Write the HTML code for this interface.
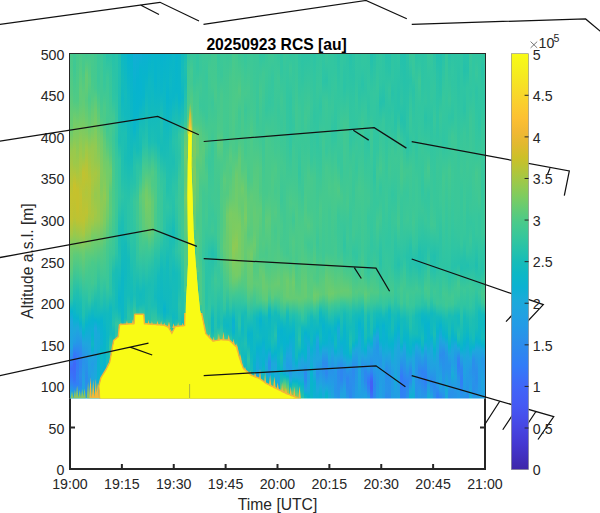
<!DOCTYPE html><html><head><meta charset="utf-8"><style>html,body{margin:0;padding:0;background:#fff;width:600px;height:513px;overflow:hidden}svg{position:absolute;left:0;top:0}text{font-family:"Liberation Sans",sans-serif;fill:#262626}</style></head><body><svg width="600" height="513" viewBox="0 0 600 513"><defs><clipPath id="hc"><rect x="70" y="54" width="415" height="344.6"/></clipPath><linearGradient id="g0" x1="0" y1="0" x2="0" y2="1"><stop offset="0.001" stop-color="#48c98c"/><stop offset="0.114" stop-color="#53ca82"/><stop offset="0.175" stop-color="#63cb75"/><stop offset="0.224" stop-color="#69cb70"/><stop offset="0.282" stop-color="#96c94e"/><stop offset="0.340" stop-color="#adc63e"/><stop offset="0.412" stop-color="#c4c22e"/><stop offset="0.481" stop-color="#bfc331"/><stop offset="0.525" stop-color="#a1c846"/><stop offset="0.565" stop-color="#71cc6a"/><stop offset="0.591" stop-color="#67cb72"/><stop offset="0.623" stop-color="#5ccb7b"/><stop offset="0.663" stop-color="#43c991"/><stop offset="0.710" stop-color="#2ec5a3"/><stop offset="0.747" stop-color="#07b4cd"/><stop offset="0.776" stop-color="#1da8dc"/><stop offset="0.851" stop-color="#20a3e0"/><stop offset="0.874" stop-color="#2a90eb"/><stop offset="0.895" stop-color="#3578f8"/><stop offset="0.912" stop-color="#3d6bf8"/><stop offset="0.938" stop-color="#3676f8"/><stop offset="0.958" stop-color="#2e86f0"/><stop offset="0.987" stop-color="#1ca9db"/><stop offset="0.999" stop-color="#0fb0d3"/></linearGradient><linearGradient id="g1" x1="0" y1="0" x2="0" y2="1"><stop offset="0.001" stop-color="#42c892"/><stop offset="0.042" stop-color="#3fc894"/><stop offset="0.140" stop-color="#51ca84"/><stop offset="0.192" stop-color="#70cc6b"/><stop offset="0.241" stop-color="#81cb5e"/><stop offset="0.279" stop-color="#99c94c"/><stop offset="0.319" stop-color="#9dc949"/><stop offset="0.383" stop-color="#c8c12b"/><stop offset="0.421" stop-color="#c3c22e"/><stop offset="0.475" stop-color="#bbc334"/><stop offset="0.530" stop-color="#92ca51"/><stop offset="0.582" stop-color="#5fcb79"/><stop offset="0.695" stop-color="#22c0ae"/><stop offset="0.733" stop-color="#10b9c1"/><stop offset="0.764" stop-color="#07b4cf"/><stop offset="0.802" stop-color="#1ea7dc"/><stop offset="0.837" stop-color="#229ce6"/><stop offset="0.871" stop-color="#3578f8"/><stop offset="0.900" stop-color="#3f67f8"/><stop offset="0.944" stop-color="#3971f8"/><stop offset="0.961" stop-color="#3082f4"/><stop offset="0.984" stop-color="#21a0e3"/><stop offset="0.999" stop-color="#1fa5df"/></linearGradient><linearGradient id="g2" x1="0" y1="0" x2="0" y2="1"><stop offset="0.001" stop-color="#47c98c"/><stop offset="0.079" stop-color="#4bca89"/><stop offset="0.137" stop-color="#4fca85"/><stop offset="0.212" stop-color="#76cc66"/><stop offset="0.296" stop-color="#95c94f"/><stop offset="0.342" stop-color="#a7c742"/><stop offset="0.395" stop-color="#c5c12d"/><stop offset="0.449" stop-color="#c5c12d"/><stop offset="0.484" stop-color="#bcc333"/><stop offset="0.533" stop-color="#94c950"/><stop offset="0.582" stop-color="#5ecb79"/><stop offset="0.649" stop-color="#3ac798"/><stop offset="0.689" stop-color="#22c0ad"/><stop offset="0.750" stop-color="#10b9c1"/><stop offset="0.767" stop-color="#08b3cf"/><stop offset="0.793" stop-color="#1ea7dc"/><stop offset="0.837" stop-color="#2597e8"/><stop offset="0.874" stop-color="#327df7"/><stop offset="0.900" stop-color="#3479f8"/><stop offset="0.935" stop-color="#3081f4"/><stop offset="0.958" stop-color="#3180f5"/><stop offset="0.978" stop-color="#2598e8"/><stop offset="0.996" stop-color="#19aad9"/><stop offset="0.999" stop-color="#16acd7"/></linearGradient><linearGradient id="g3" x1="0" y1="0" x2="0" y2="1"><stop offset="0.001" stop-color="#49ca8b"/><stop offset="0.074" stop-color="#58cb7e"/><stop offset="0.111" stop-color="#60cb78"/><stop offset="0.146" stop-color="#5ecb79"/><stop offset="0.207" stop-color="#76cc66"/><stop offset="0.267" stop-color="#96c94e"/><stop offset="0.314" stop-color="#a6c843"/><stop offset="0.415" stop-color="#c3c22f"/><stop offset="0.484" stop-color="#bcc333"/><stop offset="0.530" stop-color="#9ac94c"/><stop offset="0.582" stop-color="#62cb76"/><stop offset="0.626" stop-color="#4bca89"/><stop offset="0.669" stop-color="#34c69e"/><stop offset="0.724" stop-color="#18bdb6"/><stop offset="0.764" stop-color="#10b9c0"/><stop offset="0.782" stop-color="#06b4ce"/><stop offset="0.808" stop-color="#1fa6dd"/><stop offset="0.866" stop-color="#2e87f0"/><stop offset="0.900" stop-color="#2e86f0"/><stop offset="0.932" stop-color="#2c8cec"/><stop offset="0.961" stop-color="#2d88ef"/><stop offset="0.990" stop-color="#1ea7dd"/><stop offset="0.999" stop-color="#12aed5"/></linearGradient><linearGradient id="g4" x1="0" y1="0" x2="0" y2="1"><stop offset="0.001" stop-color="#47c98d"/><stop offset="0.048" stop-color="#48c98b"/><stop offset="0.114" stop-color="#5bcb7c"/><stop offset="0.155" stop-color="#64cb74"/><stop offset="0.267" stop-color="#8eca54"/><stop offset="0.299" stop-color="#99c94c"/><stop offset="0.345" stop-color="#c1c230"/><stop offset="0.371" stop-color="#bdc332"/><stop offset="0.409" stop-color="#b4c539"/><stop offset="0.481" stop-color="#bec331"/><stop offset="0.522" stop-color="#a7c742"/><stop offset="0.571" stop-color="#6fcc6c"/><stop offset="0.712" stop-color="#29c3a8"/><stop offset="0.759" stop-color="#20c0af"/><stop offset="0.808" stop-color="#07b4ce"/><stop offset="0.837" stop-color="#1fa6dd"/><stop offset="0.883" stop-color="#2a90eb"/><stop offset="0.964" stop-color="#20a3e0"/><stop offset="0.996" stop-color="#13add6"/><stop offset="0.999" stop-color="#14add6"/></linearGradient><linearGradient id="g5" x1="0" y1="0" x2="0" y2="1"><stop offset="0.001" stop-color="#40c893"/><stop offset="0.033" stop-color="#50ca85"/><stop offset="0.062" stop-color="#63cb75"/><stop offset="0.097" stop-color="#62cb76"/><stop offset="0.137" stop-color="#57ca7f"/><stop offset="0.201" stop-color="#6dcc6d"/><stop offset="0.233" stop-color="#7ecb5f"/><stop offset="0.273" stop-color="#9cc949"/><stop offset="0.328" stop-color="#b6c438"/><stop offset="0.357" stop-color="#bdc332"/><stop offset="0.403" stop-color="#b0c63c"/><stop offset="0.461" stop-color="#bec332"/><stop offset="0.487" stop-color="#afc63c"/><stop offset="0.545" stop-color="#82cb5d"/><stop offset="0.579" stop-color="#5ecb7a"/><stop offset="0.626" stop-color="#4aca8a"/><stop offset="0.678" stop-color="#38c79b"/><stop offset="0.753" stop-color="#17bcb7"/><stop offset="0.785" stop-color="#07b4ce"/><stop offset="0.840" stop-color="#1fa5de"/><stop offset="0.895" stop-color="#2695e9"/><stop offset="0.941" stop-color="#2c8bec"/><stop offset="0.975" stop-color="#2893e9"/><stop offset="0.999" stop-color="#21a0e3"/></linearGradient><linearGradient id="g6" x1="0" y1="0" x2="0" y2="1"><stop offset="0.001" stop-color="#44c990"/><stop offset="0.082" stop-color="#58cb7e"/><stop offset="0.134" stop-color="#4aca8a"/><stop offset="0.192" stop-color="#62cb76"/><stop offset="0.227" stop-color="#70cc6a"/><stop offset="0.279" stop-color="#96c94e"/><stop offset="0.368" stop-color="#b7c436"/><stop offset="0.421" stop-color="#b3c53a"/><stop offset="0.461" stop-color="#afc63c"/><stop offset="0.516" stop-color="#97c94e"/><stop offset="0.588" stop-color="#58cb7e"/><stop offset="0.623" stop-color="#48c98c"/><stop offset="0.715" stop-color="#32c6a0"/><stop offset="0.762" stop-color="#0db7c5"/><stop offset="0.779" stop-color="#08b3cf"/><stop offset="0.845" stop-color="#1fa6dd"/><stop offset="0.923" stop-color="#219fe4"/><stop offset="0.955" stop-color="#2695e8"/><stop offset="0.996" stop-color="#19aad9"/><stop offset="0.999" stop-color="#17acd8"/></linearGradient><linearGradient id="g7" x1="0" y1="0" x2="0" y2="1"><stop offset="0.001" stop-color="#48c98c"/><stop offset="0.068" stop-color="#44c98f"/><stop offset="0.126" stop-color="#50ca85"/><stop offset="0.175" stop-color="#65cb74"/><stop offset="0.224" stop-color="#75cc67"/><stop offset="0.270" stop-color="#94c950"/><stop offset="0.322" stop-color="#9ec949"/><stop offset="0.366" stop-color="#aac740"/><stop offset="0.415" stop-color="#a0c847"/><stop offset="0.473" stop-color="#aac740"/><stop offset="0.493" stop-color="#9dc949"/><stop offset="0.527" stop-color="#79cc63"/><stop offset="0.574" stop-color="#62cb76"/><stop offset="0.605" stop-color="#49ca8a"/><stop offset="0.666" stop-color="#41c892"/><stop offset="0.710" stop-color="#2ac3a7"/><stop offset="0.744" stop-color="#12babe"/><stop offset="0.773" stop-color="#07b3cf"/><stop offset="0.799" stop-color="#0db1d2"/><stop offset="0.816" stop-color="#07b5cc"/><stop offset="0.842" stop-color="#0eb8c3"/><stop offset="0.860" stop-color="#08b3cf"/><stop offset="0.874" stop-color="#1ea7dd"/><stop offset="0.900" stop-color="#229de5"/><stop offset="0.961" stop-color="#1baada"/><stop offset="0.981" stop-color="#07b4ce"/><stop offset="0.999" stop-color="#0db8c4"/></linearGradient><linearGradient id="g8" x1="0" y1="0" x2="0" y2="1"><stop offset="0.001" stop-color="#42c891"/><stop offset="0.103" stop-color="#45c98e"/><stop offset="0.132" stop-color="#57cb7f"/><stop offset="0.166" stop-color="#6acb70"/><stop offset="0.210" stop-color="#78cc64"/><stop offset="0.270" stop-color="#91ca52"/><stop offset="0.311" stop-color="#94c950"/><stop offset="0.348" stop-color="#a7c742"/><stop offset="0.377" stop-color="#a0c847"/><stop offset="0.409" stop-color="#95c94f"/><stop offset="0.461" stop-color="#a3c845"/><stop offset="0.487" stop-color="#98c94d"/><stop offset="0.530" stop-color="#75cc67"/><stop offset="0.585" stop-color="#56ca80"/><stop offset="0.614" stop-color="#47c98c"/><stop offset="0.666" stop-color="#3cc897"/><stop offset="0.724" stop-color="#19bdb5"/><stop offset="0.759" stop-color="#10b9c1"/><stop offset="0.773" stop-color="#07b3cf"/><stop offset="0.796" stop-color="#1ea8dc"/><stop offset="0.831" stop-color="#1aaada"/><stop offset="0.854" stop-color="#19abd9"/><stop offset="0.883" stop-color="#20a1e2"/><stop offset="0.947" stop-color="#1aaada"/><stop offset="0.984" stop-color="#06b4ce"/><stop offset="0.999" stop-color="#08b5cb"/></linearGradient><linearGradient id="g9" x1="0" y1="0" x2="0" y2="1"><stop offset="0.001" stop-color="#3bc797"/><stop offset="0.079" stop-color="#3ac799"/><stop offset="0.114" stop-color="#41c892"/><stop offset="0.172" stop-color="#59cb7d"/><stop offset="0.302" stop-color="#8cca56"/><stop offset="0.345" stop-color="#9fc848"/><stop offset="0.403" stop-color="#98c94c"/><stop offset="0.481" stop-color="#98c94d"/><stop offset="0.605" stop-color="#45c98e"/><stop offset="0.744" stop-color="#16bcb9"/><stop offset="0.779" stop-color="#06b4ce"/><stop offset="0.814" stop-color="#18abd9"/><stop offset="0.851" stop-color="#14add6"/><stop offset="0.900" stop-color="#0cb1d1"/><stop offset="0.952" stop-color="#0bb2d1"/><stop offset="0.999" stop-color="#07b3cf"/></linearGradient><linearGradient id="g10" x1="0" y1="0" x2="0" y2="1"><stop offset="0.001" stop-color="#3ac799"/><stop offset="0.068" stop-color="#40c893"/><stop offset="0.129" stop-color="#40c893"/><stop offset="0.186" stop-color="#4bca89"/><stop offset="0.244" stop-color="#6ecc6d"/><stop offset="0.334" stop-color="#84cb5c"/><stop offset="0.386" stop-color="#81cb5d"/><stop offset="0.438" stop-color="#8eca54"/><stop offset="0.484" stop-color="#8cca56"/><stop offset="0.577" stop-color="#53ca82"/><stop offset="0.681" stop-color="#33c69f"/><stop offset="0.727" stop-color="#21c0ae"/><stop offset="0.773" stop-color="#07b4cd"/><stop offset="0.840" stop-color="#0eb0d3"/><stop offset="0.857" stop-color="#08b5cb"/><stop offset="0.880" stop-color="#0eb8c2"/><stop offset="0.923" stop-color="#07b5cd"/><stop offset="0.935" stop-color="#0ab6c9"/><stop offset="0.938" stop-color="#12aed5"/><stop offset="0.941" stop-color="#12aed5"/><stop offset="0.944" stop-color="#1fa5de"/><stop offset="0.952" stop-color="#1fa5df"/><stop offset="0.955" stop-color="#229ce6"/><stop offset="0.999" stop-color="#219ee4"/></linearGradient><linearGradient id="g11" x1="0" y1="0" x2="0" y2="1"><stop offset="0.001" stop-color="#32c6a0"/><stop offset="0.097" stop-color="#39c79a"/><stop offset="0.158" stop-color="#4cca88"/><stop offset="0.212" stop-color="#4bca89"/><stop offset="0.259" stop-color="#61cb77"/><stop offset="0.348" stop-color="#7ccc61"/><stop offset="0.415" stop-color="#90ca52"/><stop offset="0.493" stop-color="#7bcc62"/><stop offset="0.562" stop-color="#53ca83"/><stop offset="0.646" stop-color="#3dc896"/><stop offset="0.756" stop-color="#10b9c0"/><stop offset="0.808" stop-color="#08b5cc"/><stop offset="0.880" stop-color="#09b5ca"/><stop offset="0.915" stop-color="#06b4ce"/><stop offset="0.921" stop-color="#07b5cc"/><stop offset="0.923" stop-color="#15acd7"/><stop offset="0.926" stop-color="#15add7"/><stop offset="0.929" stop-color="#1fa4df"/><stop offset="0.932" stop-color="#239be6"/><stop offset="0.999" stop-color="#2794e9"/></linearGradient><linearGradient id="g12" x1="0" y1="0" x2="0" y2="1"><stop offset="0.001" stop-color="#28c2a9"/><stop offset="0.071" stop-color="#3cc897"/><stop offset="0.175" stop-color="#44c98f"/><stop offset="0.224" stop-color="#41c892"/><stop offset="0.270" stop-color="#54ca81"/><stop offset="0.316" stop-color="#6fcc6c"/><stop offset="0.418" stop-color="#7bcc62"/><stop offset="0.475" stop-color="#6ecc6c"/><stop offset="0.556" stop-color="#48c98c"/><stop offset="0.623" stop-color="#3dc896"/><stop offset="0.675" stop-color="#38c79a"/><stop offset="0.727" stop-color="#1fbfb0"/><stop offset="0.753" stop-color="#12babe"/><stop offset="0.819" stop-color="#0eb8c4"/><stop offset="0.895" stop-color="#18bdb7"/><stop offset="0.903" stop-color="#1ebfb2"/><stop offset="0.906" stop-color="#0fb9c1"/><stop offset="0.909" stop-color="#10b9c1"/><stop offset="0.912" stop-color="#09b3d0"/><stop offset="0.915" stop-color="#0ab2d0"/><stop offset="0.918" stop-color="#1ca9db"/><stop offset="0.952" stop-color="#2598e8"/><stop offset="0.981" stop-color="#2f84f2"/><stop offset="0.999" stop-color="#2e87ef"/></linearGradient><linearGradient id="g13" x1="0" y1="0" x2="0" y2="1"><stop offset="0.001" stop-color="#2ac3a7"/><stop offset="0.053" stop-color="#34c69e"/><stop offset="0.123" stop-color="#39c799"/><stop offset="0.204" stop-color="#45c98f"/><stop offset="0.250" stop-color="#45c98e"/><stop offset="0.293" stop-color="#53ca82"/><stop offset="0.340" stop-color="#70cc6a"/><stop offset="0.366" stop-color="#6dcb6d"/><stop offset="0.403" stop-color="#58cb7e"/><stop offset="0.461" stop-color="#5ccb7b"/><stop offset="0.536" stop-color="#46c98e"/><stop offset="0.608" stop-color="#34c69e"/><stop offset="0.658" stop-color="#2dc4a5"/><stop offset="0.695" stop-color="#2ac3a7"/><stop offset="0.736" stop-color="#11babf"/><stop offset="0.767" stop-color="#0fb9c1"/><stop offset="0.814" stop-color="#15bbba"/><stop offset="0.837" stop-color="#2cc4a5"/><stop offset="0.851" stop-color="#35c69d"/><stop offset="0.868" stop-color="#2dc4a4"/><stop offset="0.877" stop-color="#24c1ac"/><stop offset="0.880" stop-color="#11b9bf"/><stop offset="0.892" stop-color="#0ab6c8"/><stop offset="0.895" stop-color="#12aed5"/><stop offset="0.897" stop-color="#13aed6"/><stop offset="0.900" stop-color="#1fa4df"/><stop offset="0.964" stop-color="#2498e7"/><stop offset="0.993" stop-color="#2598e8"/><stop offset="0.999" stop-color="#239ae7"/></linearGradient><linearGradient id="g14" x1="0" y1="0" x2="0" y2="1"><stop offset="0.001" stop-color="#26c2aa"/><stop offset="0.085" stop-color="#2dc4a4"/><stop offset="0.132" stop-color="#2ec5a3"/><stop offset="0.186" stop-color="#42c892"/><stop offset="0.244" stop-color="#3bc798"/><stop offset="0.337" stop-color="#48c98c"/><stop offset="0.415" stop-color="#49ca8a"/><stop offset="0.464" stop-color="#49ca8b"/><stop offset="0.525" stop-color="#3fc894"/><stop offset="0.579" stop-color="#39c799"/><stop offset="0.640" stop-color="#1bbeb3"/><stop offset="0.698" stop-color="#1fbfb0"/><stop offset="0.741" stop-color="#18bdb6"/><stop offset="0.782" stop-color="#24c1ac"/><stop offset="0.811" stop-color="#13bbbc"/><stop offset="0.825" stop-color="#18bdb6"/><stop offset="0.831" stop-color="#1fbfb0"/><stop offset="0.834" stop-color="#11b9bf"/><stop offset="0.845" stop-color="#14bbbb"/><stop offset="0.848" stop-color="#09b6c9"/><stop offset="0.863" stop-color="#0db7c4"/><stop offset="0.866" stop-color="#0cb1d2"/><stop offset="0.892" stop-color="#13add6"/><stop offset="0.912" stop-color="#1fa5de"/><stop offset="0.949" stop-color="#219ee4"/><stop offset="0.999" stop-color="#20a1e1"/></linearGradient><linearGradient id="g15" x1="0" y1="0" x2="0" y2="1"><stop offset="0.001" stop-color="#29c3a8"/><stop offset="0.108" stop-color="#2ac3a7"/><stop offset="0.192" stop-color="#35c69e"/><stop offset="0.250" stop-color="#2ec5a3"/><stop offset="0.314" stop-color="#39c79a"/><stop offset="0.397" stop-color="#3ec895"/><stop offset="0.438" stop-color="#3fc894"/><stop offset="0.545" stop-color="#32c6a0"/><stop offset="0.579" stop-color="#2dc4a5"/><stop offset="0.626" stop-color="#19bdb5"/><stop offset="0.736" stop-color="#13bbbc"/><stop offset="0.759" stop-color="#1fbfb0"/><stop offset="0.785" stop-color="#33c69f"/><stop offset="0.805" stop-color="#2bc4a6"/><stop offset="0.819" stop-color="#2fc5a3"/><stop offset="0.822" stop-color="#34c69e"/><stop offset="0.828" stop-color="#14bbbb"/><stop offset="0.831" stop-color="#09b6ca"/><stop offset="0.863" stop-color="#1bbeb4"/><stop offset="0.883" stop-color="#12babd"/><stop offset="0.900" stop-color="#08b3cf"/><stop offset="0.918" stop-color="#1ea7dc"/><stop offset="0.944" stop-color="#219fe3"/><stop offset="0.967" stop-color="#1ca9db"/><stop offset="0.990" stop-color="#07b4cd"/><stop offset="0.999" stop-color="#08b5cb"/></linearGradient><linearGradient id="g16" x1="0" y1="0" x2="0" y2="1"><stop offset="0.001" stop-color="#20bfb0"/><stop offset="0.051" stop-color="#21c0af"/><stop offset="0.166" stop-color="#1fbfb0"/><stop offset="0.218" stop-color="#1fbfb0"/><stop offset="0.256" stop-color="#1dbeb2"/><stop offset="0.308" stop-color="#31c6a1"/><stop offset="0.415" stop-color="#33c69f"/><stop offset="0.449" stop-color="#2cc4a5"/><stop offset="0.507" stop-color="#1dbeb2"/><stop offset="0.551" stop-color="#1dbeb2"/><stop offset="0.591" stop-color="#20c0af"/><stop offset="0.710" stop-color="#0ab6c9"/><stop offset="0.747" stop-color="#10b9c0"/><stop offset="0.767" stop-color="#1fbfb0"/><stop offset="0.785" stop-color="#36c79d"/><stop offset="0.788" stop-color="#22c0ae"/><stop offset="0.808" stop-color="#16bcb9"/><stop offset="0.811" stop-color="#0ab6c9"/><stop offset="0.822" stop-color="#07b4cd"/><stop offset="0.825" stop-color="#17acd8"/><stop offset="0.871" stop-color="#0fafd3"/><stop offset="0.938" stop-color="#1ea8dc"/><stop offset="0.975" stop-color="#1baada"/><stop offset="0.999" stop-color="#07b3cf"/></linearGradient><linearGradient id="g17" x1="0" y1="0" x2="0" y2="1"><stop offset="0.001" stop-color="#0eb8c3"/><stop offset="0.079" stop-color="#14bbba"/><stop offset="0.132" stop-color="#10b9c1"/><stop offset="0.233" stop-color="#1dbfb2"/><stop offset="0.360" stop-color="#23c1ad"/><stop offset="0.415" stop-color="#2dc4a5"/><stop offset="0.490" stop-color="#1cbeb3"/><stop offset="0.536" stop-color="#18bdb7"/><stop offset="0.591" stop-color="#13babc"/><stop offset="0.652" stop-color="#0cb7c5"/><stop offset="0.712" stop-color="#0cb7c6"/><stop offset="0.767" stop-color="#0bb7c7"/><stop offset="0.785" stop-color="#13bbbb"/><stop offset="0.788" stop-color="#20a3e0"/><stop offset="0.825" stop-color="#219ee4"/><stop offset="0.866" stop-color="#1ba9da"/><stop offset="0.912" stop-color="#06b4ce"/><stop offset="0.941" stop-color="#07b4cd"/><stop offset="0.961" stop-color="#19abd9"/><stop offset="0.978" stop-color="#21a0e3"/><stop offset="0.999" stop-color="#239ae7"/></linearGradient><linearGradient id="g18" x1="0" y1="0" x2="0" y2="1"><stop offset="0.001" stop-color="#0bb7c7"/><stop offset="0.120" stop-color="#14bbbb"/><stop offset="0.178" stop-color="#12babe"/><stop offset="0.233" stop-color="#1ebfb1"/><stop offset="0.305" stop-color="#19bdb5"/><stop offset="0.412" stop-color="#28c3a8"/><stop offset="0.510" stop-color="#24c1ac"/><stop offset="0.553" stop-color="#15bbb9"/><stop offset="0.637" stop-color="#10b9c0"/><stop offset="0.689" stop-color="#13bbbc"/><stop offset="0.764" stop-color="#16bcb8"/><stop offset="0.782" stop-color="#2bc3a6"/><stop offset="0.785" stop-color="#30c5a2"/><stop offset="0.788" stop-color="#0cb1d1"/><stop offset="0.842" stop-color="#0cb1d1"/><stop offset="0.874" stop-color="#11afd4"/><stop offset="0.900" stop-color="#07b4cd"/><stop offset="0.929" stop-color="#0bb6c8"/><stop offset="0.947" stop-color="#09b2d0"/><stop offset="0.970" stop-color="#1fa6de"/><stop offset="0.999" stop-color="#20a3e0"/></linearGradient><linearGradient id="g19" x1="0" y1="0" x2="0" y2="1"><stop offset="0.001" stop-color="#06b4ce"/><stop offset="0.140" stop-color="#10b9c0"/><stop offset="0.314" stop-color="#17bcb7"/><stop offset="0.441" stop-color="#2bc4a6"/><stop offset="0.510" stop-color="#2bc3a6"/><stop offset="0.597" stop-color="#14bbba"/><stop offset="0.698" stop-color="#15bcb9"/><stop offset="0.756" stop-color="#2ac3a7"/><stop offset="0.770" stop-color="#2ac3a6"/><stop offset="0.785" stop-color="#43c990"/><stop offset="0.788" stop-color="#0eb8c3"/><stop offset="0.819" stop-color="#0cb7c6"/><stop offset="0.837" stop-color="#08b3cf"/><stop offset="0.874" stop-color="#19abd9"/><stop offset="0.900" stop-color="#0fb0d3"/><stop offset="0.912" stop-color="#07b4cd"/><stop offset="0.938" stop-color="#11babf"/><stop offset="0.955" stop-color="#0ab6c8"/><stop offset="0.961" stop-color="#07b3cf"/><stop offset="0.978" stop-color="#1fa6dd"/><stop offset="0.999" stop-color="#20a1e2"/></linearGradient><linearGradient id="g20" x1="0" y1="0" x2="0" y2="1"><stop offset="0.001" stop-color="#07b4ce"/><stop offset="0.175" stop-color="#0db7c5"/><stop offset="0.296" stop-color="#14bbba"/><stop offset="0.423" stop-color="#2fc5a3"/><stop offset="0.542" stop-color="#2cc4a5"/><stop offset="0.652" stop-color="#17bdb7"/><stop offset="0.712" stop-color="#13bbbc"/><stop offset="0.744" stop-color="#22c0ad"/><stop offset="0.764" stop-color="#2ac3a7"/><stop offset="0.776" stop-color="#2fc5a2"/><stop offset="0.785" stop-color="#43c991"/><stop offset="0.788" stop-color="#0fb9c1"/><stop offset="0.825" stop-color="#24c1ac"/><stop offset="0.851" stop-color="#21c0af"/><stop offset="0.880" stop-color="#07b4cd"/><stop offset="0.900" stop-color="#11afd4"/><stop offset="0.923" stop-color="#07b5cd"/><stop offset="0.952" stop-color="#0ab6c9"/><stop offset="0.981" stop-color="#08b3cf"/><stop offset="0.999" stop-color="#10afd4"/></linearGradient><linearGradient id="g21" x1="0" y1="0" x2="0" y2="1"><stop offset="0.001" stop-color="#12aed5"/><stop offset="0.123" stop-color="#07b5cc"/><stop offset="0.221" stop-color="#09b6ca"/><stop offset="0.288" stop-color="#1dbeb2"/><stop offset="0.328" stop-color="#26c2aa"/><stop offset="0.374" stop-color="#26c2aa"/><stop offset="0.429" stop-color="#39c799"/><stop offset="0.490" stop-color="#33c69f"/><stop offset="0.582" stop-color="#25c1ab"/><stop offset="0.632" stop-color="#22c0ad"/><stop offset="0.698" stop-color="#19bdb6"/><stop offset="0.733" stop-color="#2ac3a7"/><stop offset="0.756" stop-color="#44c98f"/><stop offset="0.759" stop-color="#32c6a0"/><stop offset="0.782" stop-color="#32c6a0"/><stop offset="0.785" stop-color="#10b9c0"/><stop offset="0.811" stop-color="#1dbfb2"/><stop offset="0.831" stop-color="#26c2ab"/><stop offset="0.857" stop-color="#15bbba"/><stop offset="0.880" stop-color="#06b4ce"/><stop offset="0.918" stop-color="#1baada"/><stop offset="0.999" stop-color="#20a1e2"/></linearGradient><linearGradient id="g22" x1="0" y1="0" x2="0" y2="1"><stop offset="0.001" stop-color="#11afd4"/><stop offset="0.079" stop-color="#07b3cf"/><stop offset="0.169" stop-color="#08b5cc"/><stop offset="0.238" stop-color="#13babd"/><stop offset="0.282" stop-color="#16bcb8"/><stop offset="0.325" stop-color="#2bc4a6"/><stop offset="0.374" stop-color="#30c5a2"/><stop offset="0.432" stop-color="#40c893"/><stop offset="0.484" stop-color="#40c893"/><stop offset="0.536" stop-color="#37c79b"/><stop offset="0.594" stop-color="#31c5a1"/><stop offset="0.681" stop-color="#14bbba"/><stop offset="0.730" stop-color="#16bcb8"/><stop offset="0.750" stop-color="#29c3a7"/><stop offset="0.756" stop-color="#34c69e"/><stop offset="0.759" stop-color="#09b3d0"/><stop offset="0.790" stop-color="#08b3cf"/><stop offset="0.811" stop-color="#0cb7c5"/><stop offset="0.840" stop-color="#12babe"/><stop offset="0.871" stop-color="#07b4cf"/><stop offset="0.903" stop-color="#13aed6"/><stop offset="0.935" stop-color="#19aad9"/><stop offset="0.967" stop-color="#20a1e1"/><stop offset="0.999" stop-color="#1ea7dc"/></linearGradient><linearGradient id="g23" x1="0" y1="0" x2="0" y2="1"><stop offset="0.001" stop-color="#10afd4"/><stop offset="0.048" stop-color="#07b5cc"/><stop offset="0.100" stop-color="#07b4cf"/><stop offset="0.149" stop-color="#08b5cb"/><stop offset="0.221" stop-color="#1abeb4"/><stop offset="0.276" stop-color="#18bdb6"/><stop offset="0.371" stop-color="#3cc897"/><stop offset="0.415" stop-color="#5ccb7b"/><stop offset="0.447" stop-color="#55ca81"/><stop offset="0.504" stop-color="#4aca8a"/><stop offset="0.565" stop-color="#41c892"/><stop offset="0.617" stop-color="#2dc4a5"/><stop offset="0.660" stop-color="#21c0af"/><stop offset="0.698" stop-color="#12babd"/><stop offset="0.727" stop-color="#16bcb8"/><stop offset="0.750" stop-color="#32c6a0"/><stop offset="0.756" stop-color="#3cc897"/><stop offset="0.759" stop-color="#09b6ca"/><stop offset="0.788" stop-color="#09b2d0"/><stop offset="0.860" stop-color="#0ab6c9"/><stop offset="0.912" stop-color="#15bcb9"/><stop offset="0.955" stop-color="#11babe"/><stop offset="0.975" stop-color="#06b4ce"/><stop offset="0.999" stop-color="#19abd9"/></linearGradient><linearGradient id="g24" x1="0" y1="0" x2="0" y2="1"><stop offset="0.001" stop-color="#0bb1d1"/><stop offset="0.068" stop-color="#08b5cb"/><stop offset="0.126" stop-color="#08b5cb"/><stop offset="0.221" stop-color="#1abdb4"/><stop offset="0.264" stop-color="#25c1ab"/><stop offset="0.328" stop-color="#43c991"/><stop offset="0.371" stop-color="#52ca83"/><stop offset="0.409" stop-color="#68cb71"/><stop offset="0.507" stop-color="#5acb7d"/><stop offset="0.548" stop-color="#47c98d"/><stop offset="0.684" stop-color="#14bbbb"/><stop offset="0.721" stop-color="#15bcb9"/><stop offset="0.744" stop-color="#28c2a9"/><stop offset="0.756" stop-color="#39c799"/><stop offset="0.759" stop-color="#27c2a9"/><stop offset="0.779" stop-color="#28c2a8"/><stop offset="0.782" stop-color="#16bcb9"/><stop offset="0.785" stop-color="#0ab6c8"/><stop offset="0.834" stop-color="#14bbbb"/><stop offset="0.871" stop-color="#10b9c0"/><stop offset="0.912" stop-color="#22c0ae"/><stop offset="0.944" stop-color="#1cbeb3"/><stop offset="0.990" stop-color="#06b4ce"/><stop offset="0.999" stop-color="#07b3cf"/></linearGradient><linearGradient id="g25" x1="0" y1="0" x2="0" y2="1"><stop offset="0.001" stop-color="#0bb1d1"/><stop offset="0.065" stop-color="#08b5cb"/><stop offset="0.192" stop-color="#1abdb5"/><stop offset="0.262" stop-color="#27c2aa"/><stop offset="0.342" stop-color="#4bca89"/><stop offset="0.397" stop-color="#6fcc6b"/><stop offset="0.435" stop-color="#77cc65"/><stop offset="0.496" stop-color="#67cb72"/><stop offset="0.519" stop-color="#5ccb7b"/><stop offset="0.548" stop-color="#44c98f"/><stop offset="0.597" stop-color="#34c69e"/><stop offset="0.637" stop-color="#28c2a8"/><stop offset="0.678" stop-color="#19bdb5"/><stop offset="0.744" stop-color="#1cbeb3"/><stop offset="0.776" stop-color="#28c2a9"/><stop offset="0.785" stop-color="#39c79a"/><stop offset="0.788" stop-color="#09b5cb"/><stop offset="0.828" stop-color="#0bb7c7"/><stop offset="0.851" stop-color="#08b3cf"/><stop offset="0.874" stop-color="#09b3cf"/><stop offset="0.889" stop-color="#0ab6c8"/><stop offset="0.915" stop-color="#11babf"/><stop offset="0.944" stop-color="#06b4ce"/><stop offset="0.970" stop-color="#14add6"/><stop offset="0.999" stop-color="#0eb0d3"/></linearGradient><linearGradient id="g26" x1="0" y1="0" x2="0" y2="1"><stop offset="0.001" stop-color="#08b3cf"/><stop offset="0.045" stop-color="#09b6c9"/><stop offset="0.082" stop-color="#0fb8c2"/><stop offset="0.126" stop-color="#0eb8c3"/><stop offset="0.218" stop-color="#16bcb8"/><stop offset="0.256" stop-color="#1abdb5"/><stop offset="0.363" stop-color="#56ca80"/><stop offset="0.432" stop-color="#72cc69"/><stop offset="0.513" stop-color="#6acb6f"/><stop offset="0.574" stop-color="#3dc896"/><stop offset="0.614" stop-color="#2bc3a6"/><stop offset="0.669" stop-color="#1abdb4"/><stop offset="0.724" stop-color="#1fbfb0"/><stop offset="0.770" stop-color="#25c1ab"/><stop offset="0.785" stop-color="#37c79b"/><stop offset="0.788" stop-color="#07b4ce"/><stop offset="0.819" stop-color="#10afd4"/><stop offset="0.863" stop-color="#0bb1d1"/><stop offset="0.909" stop-color="#11afd4"/><stop offset="0.973" stop-color="#08b5cc"/><stop offset="0.999" stop-color="#07b5cc"/></linearGradient><linearGradient id="g27" x1="0" y1="0" x2="0" y2="1"><stop offset="0.001" stop-color="#08b5cb"/><stop offset="0.192" stop-color="#14bbbb"/><stop offset="0.259" stop-color="#1dbfb2"/><stop offset="0.316" stop-color="#41c892"/><stop offset="0.345" stop-color="#51ca84"/><stop offset="0.383" stop-color="#4dca87"/><stop offset="0.429" stop-color="#63cb75"/><stop offset="0.510" stop-color="#63cb76"/><stop offset="0.568" stop-color="#3bc798"/><stop offset="0.629" stop-color="#22c0ad"/><stop offset="0.672" stop-color="#1cbeb3"/><stop offset="0.730" stop-color="#1bbeb4"/><stop offset="0.779" stop-color="#38c79b"/><stop offset="0.785" stop-color="#3ec895"/><stop offset="0.788" stop-color="#09b6ca"/><stop offset="0.796" stop-color="#08b3cf"/><stop offset="0.822" stop-color="#15add7"/><stop offset="0.866" stop-color="#0bb1d1"/><stop offset="0.892" stop-color="#0ab2d0"/><stop offset="0.900" stop-color="#09b5ca"/><stop offset="0.929" stop-color="#24c1ac"/><stop offset="0.947" stop-color="#23c1ad"/><stop offset="0.973" stop-color="#14bbbb"/><stop offset="0.999" stop-color="#12babe"/></linearGradient><linearGradient id="g28" x1="0" y1="0" x2="0" y2="1"><stop offset="0.001" stop-color="#08b5cb"/><stop offset="0.082" stop-color="#08b5cb"/><stop offset="0.189" stop-color="#14bbbb"/><stop offset="0.256" stop-color="#1abdb5"/><stop offset="0.342" stop-color="#46c98d"/><stop offset="0.426" stop-color="#50ca85"/><stop offset="0.478" stop-color="#49ca8b"/><stop offset="0.522" stop-color="#46c98e"/><stop offset="0.600" stop-color="#23c1ad"/><stop offset="0.704" stop-color="#12babd"/><stop offset="0.733" stop-color="#1cbeb3"/><stop offset="0.773" stop-color="#35c69d"/><stop offset="0.785" stop-color="#47c98d"/><stop offset="0.788" stop-color="#11b9bf"/><stop offset="0.842" stop-color="#13babc"/><stop offset="0.880" stop-color="#0eb8c3"/><stop offset="0.903" stop-color="#1bbeb4"/><stop offset="0.926" stop-color="#2ec4a4"/><stop offset="0.947" stop-color="#26c2aa"/><stop offset="0.970" stop-color="#13babc"/><stop offset="0.999" stop-color="#0cb7c5"/></linearGradient><linearGradient id="g29" x1="0" y1="0" x2="0" y2="1"><stop offset="0.001" stop-color="#08b5cb"/><stop offset="0.120" stop-color="#0db7c5"/><stop offset="0.210" stop-color="#17bcb7"/><stop offset="0.259" stop-color="#16bcb9"/><stop offset="0.325" stop-color="#31c5a1"/><stop offset="0.366" stop-color="#3bc798"/><stop offset="0.527" stop-color="#3ec895"/><stop offset="0.608" stop-color="#21c0ae"/><stop offset="0.646" stop-color="#13bbbc"/><stop offset="0.710" stop-color="#0fb9c1"/><stop offset="0.750" stop-color="#14bbba"/><stop offset="0.770" stop-color="#28c2a8"/><stop offset="0.788" stop-color="#47c98d"/><stop offset="0.790" stop-color="#11babe"/><stop offset="0.831" stop-color="#1cbeb2"/><stop offset="0.889" stop-color="#0eb8c3"/><stop offset="0.929" stop-color="#0ab6c9"/><stop offset="0.999" stop-color="#08b5cb"/></linearGradient><linearGradient id="g30" x1="0" y1="0" x2="0" y2="1"><stop offset="0.001" stop-color="#06b4ce"/><stop offset="0.111" stop-color="#0bb6c8"/><stop offset="0.198" stop-color="#1fbfb0"/><stop offset="0.279" stop-color="#16bcb8"/><stop offset="0.351" stop-color="#30c5a2"/><stop offset="0.415" stop-color="#3ac799"/><stop offset="0.522" stop-color="#39c79a"/><stop offset="0.585" stop-color="#1dbfb2"/><stop offset="0.626" stop-color="#13babc"/><stop offset="0.718" stop-color="#0eb8c3"/><stop offset="0.750" stop-color="#12babe"/><stop offset="0.770" stop-color="#21c0af"/><stop offset="0.788" stop-color="#40c893"/><stop offset="0.790" stop-color="#0db7c5"/><stop offset="0.828" stop-color="#12babd"/><stop offset="0.868" stop-color="#08b5cb"/><stop offset="0.906" stop-color="#13bbbc"/><stop offset="0.935" stop-color="#08b3cf"/><stop offset="0.958" stop-color="#12aed5"/><stop offset="0.999" stop-color="#16acd7"/></linearGradient><linearGradient id="g31" x1="0" y1="0" x2="0" y2="1"><stop offset="0.001" stop-color="#08b3cf"/><stop offset="0.065" stop-color="#0ab6c8"/><stop offset="0.201" stop-color="#12babe"/><stop offset="0.256" stop-color="#16bcb8"/><stop offset="0.296" stop-color="#1abdb5"/><stop offset="0.368" stop-color="#30c5a1"/><stop offset="0.499" stop-color="#2cc4a5"/><stop offset="0.579" stop-color="#20c0af"/><stop offset="0.632" stop-color="#15bcb9"/><stop offset="0.710" stop-color="#11b9bf"/><stop offset="0.741" stop-color="#07b4cd"/><stop offset="0.762" stop-color="#0eb8c3"/><stop offset="0.773" stop-color="#1abdb5"/><stop offset="0.788" stop-color="#3bc798"/><stop offset="0.790" stop-color="#16bcb8"/><stop offset="0.793" stop-color="#0bb7c7"/><stop offset="0.819" stop-color="#0bb6c8"/><stop offset="0.831" stop-color="#08b3cf"/><stop offset="0.854" stop-color="#1ea8dc"/><stop offset="0.877" stop-color="#1ba9da"/><stop offset="0.909" stop-color="#09b2d0"/><stop offset="0.944" stop-color="#14add6"/><stop offset="0.978" stop-color="#1ea7dd"/><stop offset="0.999" stop-color="#1fa6de"/></linearGradient><linearGradient id="g32" x1="0" y1="0" x2="0" y2="1"><stop offset="0.001" stop-color="#08b5cc"/><stop offset="0.079" stop-color="#0ab6c9"/><stop offset="0.129" stop-color="#07b5cc"/><stop offset="0.218" stop-color="#12babe"/><stop offset="0.351" stop-color="#22c0ae"/><stop offset="0.397" stop-color="#23c1ac"/><stop offset="0.444" stop-color="#2fc5a3"/><stop offset="0.504" stop-color="#22c0ae"/><stop offset="0.553" stop-color="#23c0ad"/><stop offset="0.605" stop-color="#14bbbb"/><stop offset="0.724" stop-color="#11b9bf"/><stop offset="0.750" stop-color="#0eb8c2"/><stop offset="0.767" stop-color="#19bdb6"/><stop offset="0.790" stop-color="#46c98e"/><stop offset="0.799" stop-color="#14bbba"/><stop offset="0.819" stop-color="#11babe"/><stop offset="0.837" stop-color="#08b3cf"/><stop offset="0.860" stop-color="#1ea7dd"/><stop offset="0.918" stop-color="#1ea8dc"/><stop offset="0.961" stop-color="#12aed5"/><stop offset="0.999" stop-color="#16acd7"/></linearGradient><linearGradient id="g33" x1="0" y1="0" x2="0" y2="1"><stop offset="0.001" stop-color="#08b5cb"/><stop offset="0.082" stop-color="#0db8c4"/><stop offset="0.140" stop-color="#0ab6c9"/><stop offset="0.262" stop-color="#1dbfb2"/><stop offset="0.331" stop-color="#1ebfb1"/><stop offset="0.449" stop-color="#2bc4a6"/><stop offset="0.519" stop-color="#1cbeb3"/><stop offset="0.603" stop-color="#1dbeb2"/><stop offset="0.692" stop-color="#12babd"/><stop offset="0.756" stop-color="#14bbba"/><stop offset="0.799" stop-color="#33c69f"/><stop offset="0.802" stop-color="#33c69f"/><stop offset="0.808" stop-color="#0fb9c1"/><stop offset="0.811" stop-color="#0eb8c3"/><stop offset="0.814" stop-color="#0db0d2"/><stop offset="0.840" stop-color="#1ea7dd"/><stop offset="0.883" stop-color="#20a3e0"/><stop offset="0.906" stop-color="#19aad9"/><stop offset="0.938" stop-color="#07b4cd"/><stop offset="0.964" stop-color="#0fb9c1"/><stop offset="0.987" stop-color="#08b3cf"/><stop offset="0.999" stop-color="#13add6"/></linearGradient><linearGradient id="g34" x1="0" y1="0" x2="0" y2="1"><stop offset="0.001" stop-color="#0bb7c7"/><stop offset="0.126" stop-color="#0ab6c8"/><stop offset="0.218" stop-color="#20c0af"/><stop offset="0.256" stop-color="#26c2aa"/><stop offset="0.316" stop-color="#1dbeb2"/><stop offset="0.389" stop-color="#2bc4a6"/><stop offset="0.464" stop-color="#24c1ac"/><stop offset="0.516" stop-color="#15bcb9"/><stop offset="0.574" stop-color="#23c1ad"/><stop offset="0.634" stop-color="#13bbbc"/><stop offset="0.698" stop-color="#17bcb7"/><stop offset="0.736" stop-color="#15bcb9"/><stop offset="0.764" stop-color="#0fb9c1"/><stop offset="0.799" stop-color="#1bbeb4"/><stop offset="0.802" stop-color="#0db7c4"/><stop offset="0.805" stop-color="#0cb7c5"/><stop offset="0.808" stop-color="#0fb0d3"/><stop offset="0.811" stop-color="#10afd4"/><stop offset="0.814" stop-color="#1fa5de"/><stop offset="0.863" stop-color="#2597e8"/><stop offset="0.892" stop-color="#1ea8dc"/><stop offset="0.909" stop-color="#07b4cd"/><stop offset="0.932" stop-color="#12babe"/><stop offset="0.975" stop-color="#0eb8c3"/><stop offset="0.999" stop-color="#06b4ce"/></linearGradient><linearGradient id="g35" x1="0" y1="0" x2="0" y2="1"><stop offset="0.001" stop-color="#08b5cc"/><stop offset="0.111" stop-color="#09b6c9"/><stop offset="0.181" stop-color="#1abdb5"/><stop offset="0.218" stop-color="#22c0ae"/><stop offset="0.250" stop-color="#29c3a7"/><stop offset="0.334" stop-color="#25c1ab"/><stop offset="0.429" stop-color="#34c69e"/><stop offset="0.527" stop-color="#24c1ac"/><stop offset="0.574" stop-color="#2dc4a5"/><stop offset="0.637" stop-color="#15bcb9"/><stop offset="0.738" stop-color="#15bcb9"/><stop offset="0.767" stop-color="#12babd"/><stop offset="0.779" stop-color="#1fbfb0"/><stop offset="0.790" stop-color="#38c79b"/><stop offset="0.793" stop-color="#14bbbb"/><stop offset="0.796" stop-color="#09b5ca"/><stop offset="0.822" stop-color="#09b2d0"/><stop offset="0.848" stop-color="#1ea7dc"/><stop offset="0.871" stop-color="#1ca9db"/><stop offset="0.895" stop-color="#06b4cd"/><stop offset="0.921" stop-color="#16bcb8"/><stop offset="0.935" stop-color="#13babd"/><stop offset="0.947" stop-color="#07b5cc"/><stop offset="0.964" stop-color="#1fa6dd"/><stop offset="0.990" stop-color="#1fa4e0"/><stop offset="0.999" stop-color="#1fa5de"/></linearGradient><linearGradient id="g36" x1="0" y1="0" x2="0" y2="1"><stop offset="0.001" stop-color="#0ab6c8"/><stop offset="0.085" stop-color="#0ab6c8"/><stop offset="0.134" stop-color="#09b6ca"/><stop offset="0.198" stop-color="#1bbeb4"/><stop offset="0.236" stop-color="#33c69f"/><stop offset="0.302" stop-color="#2ac3a7"/><stop offset="0.371" stop-color="#3cc897"/><stop offset="0.475" stop-color="#3ac799"/><stop offset="0.525" stop-color="#32c6a0"/><stop offset="0.571" stop-color="#34c69e"/><stop offset="0.637" stop-color="#1abeb4"/><stop offset="0.678" stop-color="#1abeb4"/><stop offset="0.727" stop-color="#2bc3a6"/><stop offset="0.773" stop-color="#21c0ae"/><stop offset="0.788" stop-color="#37c79b"/><stop offset="0.790" stop-color="#3dc896"/><stop offset="0.793" stop-color="#0bb6c7"/><stop offset="0.825" stop-color="#08b3cf"/><stop offset="0.848" stop-color="#0fafd3"/><stop offset="0.863" stop-color="#07b4cd"/><stop offset="0.892" stop-color="#21c0af"/><stop offset="0.906" stop-color="#1fbfb0"/><stop offset="0.935" stop-color="#07b4cd"/><stop offset="0.964" stop-color="#1da8db"/><stop offset="0.999" stop-color="#18abd8"/></linearGradient><linearGradient id="g37" x1="0" y1="0" x2="0" y2="1"><stop offset="0.001" stop-color="#12babe"/><stop offset="0.065" stop-color="#16bcb9"/><stop offset="0.129" stop-color="#0cb7c5"/><stop offset="0.192" stop-color="#1fbfb0"/><stop offset="0.236" stop-color="#3bc798"/><stop offset="0.345" stop-color="#40c893"/><stop offset="0.400" stop-color="#39c79a"/><stop offset="0.473" stop-color="#40c893"/><stop offset="0.571" stop-color="#3ec895"/><stop offset="0.663" stop-color="#28c2a9"/><stop offset="0.741" stop-color="#25c1ab"/><stop offset="0.779" stop-color="#14bbbb"/><stop offset="0.788" stop-color="#20bfb0"/><stop offset="0.790" stop-color="#26c2aa"/><stop offset="0.793" stop-color="#12aed5"/><stop offset="0.819" stop-color="#06b4cd"/><stop offset="0.889" stop-color="#0ab2d0"/><stop offset="0.912" stop-color="#09b5ca"/><stop offset="0.952" stop-color="#08b3cf"/><stop offset="0.990" stop-color="#08b5cc"/><stop offset="0.999" stop-color="#0bb6c8"/></linearGradient><linearGradient id="g38" x1="0" y1="0" x2="0" y2="1"><stop offset="0.001" stop-color="#18bdb6"/><stop offset="0.039" stop-color="#1fbfb0"/><stop offset="0.085" stop-color="#18bdb7"/><stop offset="0.158" stop-color="#28c2a9"/><stop offset="0.195" stop-color="#30c5a2"/><stop offset="0.224" stop-color="#4aca8a"/><stop offset="0.236" stop-color="#5ccb7b"/><stop offset="0.288" stop-color="#73cc68"/><stop offset="0.351" stop-color="#5ecb79"/><stop offset="0.386" stop-color="#67cb72"/><stop offset="0.418" stop-color="#72cc69"/><stop offset="0.473" stop-color="#5fcb78"/><stop offset="0.513" stop-color="#5ccb7b"/><stop offset="0.551" stop-color="#4fca86"/><stop offset="0.600" stop-color="#51ca84"/><stop offset="0.637" stop-color="#49ca8b"/><stop offset="0.652" stop-color="#4bca89"/><stop offset="0.689" stop-color="#46c98d"/><stop offset="0.692" stop-color="#34c69e"/><stop offset="0.741" stop-color="#31c6a1"/><stop offset="0.776" stop-color="#22c0ae"/><stop offset="0.788" stop-color="#26c2aa"/><stop offset="0.790" stop-color="#09b6ca"/><stop offset="0.845" stop-color="#16bcb8"/><stop offset="0.877" stop-color="#0eb8c4"/><stop offset="0.929" stop-color="#07b3cf"/><stop offset="0.973" stop-color="#13add6"/><stop offset="0.999" stop-color="#0cb1d2"/></linearGradient><linearGradient id="g39" x1="0" y1="0" x2="0" y2="1"><stop offset="0.001" stop-color="#30c5a2"/><stop offset="0.053" stop-color="#3fc894"/><stop offset="0.103" stop-color="#44c990"/><stop offset="0.178" stop-color="#4cca88"/><stop offset="0.204" stop-color="#66cb73"/><stop offset="0.221" stop-color="#86cb5a"/><stop offset="0.233" stop-color="#a8c741"/><stop offset="0.236" stop-color="#6bcb6f"/><stop offset="0.296" stop-color="#69cb70"/><stop offset="0.366" stop-color="#60cb77"/><stop offset="0.418" stop-color="#73cc68"/><stop offset="0.507" stop-color="#57cb7f"/><stop offset="0.542" stop-color="#4dca87"/><stop offset="0.591" stop-color="#58cb7e"/><stop offset="0.640" stop-color="#3fc894"/><stop offset="0.643" stop-color="#2bc3a6"/><stop offset="0.698" stop-color="#16bcb8"/><stop offset="0.741" stop-color="#12babd"/><stop offset="0.776" stop-color="#07b3cf"/><stop offset="0.834" stop-color="#12aed5"/><stop offset="0.863" stop-color="#07b5cc"/><stop offset="0.895" stop-color="#09b6c9"/><stop offset="0.941" stop-color="#07b4cf"/><stop offset="0.999" stop-color="#07b4cf"/></linearGradient><linearGradient id="g40" x1="0" y1="0" x2="0" y2="1"><stop offset="0.001" stop-color="#35c69d"/><stop offset="0.053" stop-color="#44c990"/><stop offset="0.088" stop-color="#42c891"/><stop offset="0.134" stop-color="#50ca84"/><stop offset="0.169" stop-color="#57cb7f"/><stop offset="0.212" stop-color="#78cc64"/><stop offset="0.227" stop-color="#94c950"/><stop offset="0.233" stop-color="#a5c843"/><stop offset="0.236" stop-color="#67cb72"/><stop offset="0.290" stop-color="#6acb70"/><stop offset="0.299" stop-color="#68cb71"/><stop offset="0.302" stop-color="#85cb5a"/><stop offset="0.328" stop-color="#84cb5b"/><stop offset="0.331" stop-color="#86cb5a"/><stop offset="0.334" stop-color="#69cb71"/><stop offset="0.409" stop-color="#5fcb79"/><stop offset="0.412" stop-color="#44c98f"/><stop offset="0.501" stop-color="#48c98b"/><stop offset="0.605" stop-color="#35c69e"/><stop offset="0.666" stop-color="#20c0b0"/><stop offset="0.704" stop-color="#1cbeb3"/><stop offset="0.744" stop-color="#0ab6c8"/><stop offset="0.808" stop-color="#08b3cf"/><stop offset="0.840" stop-color="#0eb0d3"/><stop offset="0.857" stop-color="#07b5cd"/><stop offset="0.886" stop-color="#15bcb9"/><stop offset="0.915" stop-color="#10b9c1"/><stop offset="0.935" stop-color="#07b4ce"/><stop offset="0.961" stop-color="#11aed5"/><stop offset="0.999" stop-color="#16acd7"/></linearGradient><linearGradient id="g41" x1="0" y1="0" x2="0" y2="1"><stop offset="0.001" stop-color="#36c79c"/><stop offset="0.082" stop-color="#38c79a"/><stop offset="0.132" stop-color="#43c990"/><stop offset="0.178" stop-color="#46c98e"/><stop offset="0.210" stop-color="#53ca82"/><stop offset="0.236" stop-color="#76cc66"/><stop offset="0.282" stop-color="#7fcb5f"/><stop offset="0.302" stop-color="#79cc63"/><stop offset="0.311" stop-color="#71cc6a"/><stop offset="0.328" stop-color="#76cc66"/><stop offset="0.340" stop-color="#7ecb60"/><stop offset="0.371" stop-color="#7dcc60"/><stop offset="0.406" stop-color="#6dcc6d"/><stop offset="0.415" stop-color="#72cc69"/><stop offset="0.481" stop-color="#61cb76"/><stop offset="0.507" stop-color="#60cb77"/><stop offset="0.510" stop-color="#65cb74"/><stop offset="0.513" stop-color="#4aca8a"/><stop offset="0.553" stop-color="#4eca86"/><stop offset="0.556" stop-color="#3bc798"/><stop offset="0.597" stop-color="#31c6a1"/><stop offset="0.600" stop-color="#1cbeb2"/><stop offset="0.684" stop-color="#1cbeb3"/><stop offset="0.738" stop-color="#07b3cf"/><stop offset="0.779" stop-color="#0bb7c7"/><stop offset="0.837" stop-color="#19bdb6"/><stop offset="0.889" stop-color="#31c6a1"/><stop offset="0.923" stop-color="#24c1ac"/><stop offset="0.961" stop-color="#0ab6c9"/><stop offset="0.975" stop-color="#08b3cf"/><stop offset="0.999" stop-color="#13aed5"/></linearGradient><linearGradient id="g42" x1="0" y1="0" x2="0" y2="1"><stop offset="0.001" stop-color="#32c6a0"/><stop offset="0.045" stop-color="#33c69f"/><stop offset="0.114" stop-color="#42c991"/><stop offset="0.201" stop-color="#4aca8a"/><stop offset="0.236" stop-color="#66cb73"/><stop offset="0.288" stop-color="#6bcb6f"/><stop offset="0.308" stop-color="#5ecb7a"/><stop offset="0.325" stop-color="#58cb7e"/><stop offset="0.374" stop-color="#62cb76"/><stop offset="0.406" stop-color="#5ecb79"/><stop offset="0.452" stop-color="#54ca82"/><stop offset="0.490" stop-color="#49c98b"/><stop offset="0.507" stop-color="#4cca88"/><stop offset="0.530" stop-color="#52ca83"/><stop offset="0.551" stop-color="#51ca84"/><stop offset="0.562" stop-color="#52ca83"/><stop offset="0.594" stop-color="#4bca89"/><stop offset="0.603" stop-color="#51ca84"/><stop offset="0.629" stop-color="#57ca7f"/><stop offset="0.632" stop-color="#5bcb7c"/><stop offset="0.634" stop-color="#44c98f"/><stop offset="0.669" stop-color="#42c891"/><stop offset="0.672" stop-color="#2fc5a3"/><stop offset="0.698" stop-color="#24c1ac"/><stop offset="0.701" stop-color="#12babd"/><stop offset="0.747" stop-color="#13bbbc"/><stop offset="0.828" stop-color="#15bbba"/><stop offset="0.866" stop-color="#27c2aa"/><stop offset="0.947" stop-color="#0fb8c2"/><stop offset="0.961" stop-color="#07b4ce"/><stop offset="0.984" stop-color="#1fa6de"/><stop offset="0.999" stop-color="#219fe3"/></linearGradient><linearGradient id="g43" x1="0" y1="0" x2="0" y2="1"><stop offset="0.001" stop-color="#3ac799"/><stop offset="0.048" stop-color="#38c79b"/><stop offset="0.097" stop-color="#40c893"/><stop offset="0.152" stop-color="#39c79a"/><stop offset="0.210" stop-color="#4cca88"/><stop offset="0.233" stop-color="#57ca7f"/><stop offset="0.273" stop-color="#57cb7f"/><stop offset="0.308" stop-color="#5dcb7a"/><stop offset="0.345" stop-color="#52ca83"/><stop offset="0.389" stop-color="#48c98c"/><stop offset="0.435" stop-color="#4bca89"/><stop offset="0.510" stop-color="#49ca8b"/><stop offset="0.568" stop-color="#44c990"/><stop offset="0.594" stop-color="#43c990"/><stop offset="0.632" stop-color="#4dca87"/><stop offset="0.666" stop-color="#4cca88"/><stop offset="0.678" stop-color="#4dca87"/><stop offset="0.698" stop-color="#4cca88"/><stop offset="0.727" stop-color="#49c98b"/><stop offset="0.730" stop-color="#36c79c"/><stop offset="0.747" stop-color="#32c6a0"/><stop offset="0.750" stop-color="#1ebfb1"/><stop offset="0.762" stop-color="#1cbeb3"/><stop offset="0.764" stop-color="#0eb8c3"/><stop offset="0.808" stop-color="#18bdb6"/><stop offset="0.851" stop-color="#06b4cd"/><stop offset="0.958" stop-color="#0ab2d0"/><stop offset="0.999" stop-color="#1ca9db"/></linearGradient><linearGradient id="g44" x1="0" y1="0" x2="0" y2="1"><stop offset="0.001" stop-color="#3cc897"/><stop offset="0.056" stop-color="#3bc798"/><stop offset="0.120" stop-color="#3bc798"/><stop offset="0.163" stop-color="#39c799"/><stop offset="0.276" stop-color="#5bcb7c"/><stop offset="0.325" stop-color="#52ca83"/><stop offset="0.363" stop-color="#4dca87"/><stop offset="0.403" stop-color="#41c892"/><stop offset="0.536" stop-color="#3dc896"/><stop offset="0.588" stop-color="#34c69e"/><stop offset="0.643" stop-color="#3cc897"/><stop offset="0.698" stop-color="#3dc896"/><stop offset="0.750" stop-color="#40c893"/><stop offset="0.776" stop-color="#36c79c"/><stop offset="0.779" stop-color="#22c0ae"/><stop offset="0.788" stop-color="#1cbeb3"/><stop offset="0.790" stop-color="#0db8c4"/><stop offset="0.802" stop-color="#08b5cb"/><stop offset="0.805" stop-color="#16acd7"/><stop offset="0.831" stop-color="#1da9db"/><stop offset="0.863" stop-color="#18abd9"/><stop offset="0.895" stop-color="#1fa6de"/><stop offset="0.981" stop-color="#10afd4"/><stop offset="0.999" stop-color="#15add7"/></linearGradient><linearGradient id="g45" x1="0" y1="0" x2="0" y2="1"><stop offset="0.001" stop-color="#3ec895"/><stop offset="0.068" stop-color="#37c79c"/><stop offset="0.129" stop-color="#3bc798"/><stop offset="0.184" stop-color="#3ac799"/><stop offset="0.256" stop-color="#50ca84"/><stop offset="0.311" stop-color="#40c893"/><stop offset="0.357" stop-color="#4cca88"/><stop offset="0.415" stop-color="#41c892"/><stop offset="0.470" stop-color="#43c990"/><stop offset="0.588" stop-color="#2dc4a5"/><stop offset="0.678" stop-color="#2ac3a6"/><stop offset="0.724" stop-color="#28c3a8"/><stop offset="0.814" stop-color="#3bc797"/><stop offset="0.819" stop-color="#17bcb7"/><stop offset="0.822" stop-color="#0bb6c8"/><stop offset="0.848" stop-color="#08b3cf"/><stop offset="0.889" stop-color="#1ea8dc"/><stop offset="0.952" stop-color="#1ca9db"/><stop offset="0.999" stop-color="#0cb1d1"/></linearGradient><linearGradient id="g46" x1="0" y1="0" x2="0" y2="1"><stop offset="0.001" stop-color="#3bc798"/><stop offset="0.048" stop-color="#43c990"/><stop offset="0.143" stop-color="#3dc896"/><stop offset="0.218" stop-color="#44c98f"/><stop offset="0.262" stop-color="#43c990"/><stop offset="0.322" stop-color="#39c79a"/><stop offset="0.400" stop-color="#3fc894"/><stop offset="0.484" stop-color="#39c79a"/><stop offset="0.522" stop-color="#3bc798"/><stop offset="0.577" stop-color="#27c2aa"/><stop offset="0.741" stop-color="#32c6a0"/><stop offset="0.782" stop-color="#27c2a9"/><stop offset="0.811" stop-color="#34c69e"/><stop offset="0.822" stop-color="#3fc894"/><stop offset="0.828" stop-color="#19bdb6"/><stop offset="0.831" stop-color="#0bb6c7"/><stop offset="0.842" stop-color="#07b3cf"/><stop offset="0.868" stop-color="#14add6"/><stop offset="0.955" stop-color="#0fb0d3"/><stop offset="0.990" stop-color="#1ca9db"/><stop offset="0.999" stop-color="#17abd8"/></linearGradient><linearGradient id="g47" x1="0" y1="0" x2="0" y2="1"><stop offset="0.001" stop-color="#41c892"/><stop offset="0.094" stop-color="#44c98f"/><stop offset="0.143" stop-color="#3ac799"/><stop offset="0.212" stop-color="#44c98f"/><stop offset="0.279" stop-color="#39c79a"/><stop offset="0.374" stop-color="#3dc896"/><stop offset="0.418" stop-color="#41c892"/><stop offset="0.467" stop-color="#39c79a"/><stop offset="0.513" stop-color="#3fc894"/><stop offset="0.579" stop-color="#22c0ad"/><stop offset="0.663" stop-color="#35c69d"/><stop offset="0.724" stop-color="#2bc4a6"/><stop offset="0.767" stop-color="#11babe"/><stop offset="0.802" stop-color="#10b9c0"/><stop offset="0.816" stop-color="#1cbeb3"/><stop offset="0.831" stop-color="#36c79d"/><stop offset="0.834" stop-color="#27c2aa"/><stop offset="0.837" stop-color="#0ab6c9"/><stop offset="0.863" stop-color="#0eb8c3"/><stop offset="0.886" stop-color="#08b3cf"/><stop offset="0.912" stop-color="#1ea7dd"/><stop offset="0.941" stop-color="#1baada"/><stop offset="0.970" stop-color="#07b4ce"/><stop offset="0.999" stop-color="#0ab6c9"/></linearGradient><linearGradient id="g48" x1="0" y1="0" x2="0" y2="1"><stop offset="0.001" stop-color="#42c891"/><stop offset="0.071" stop-color="#43c990"/><stop offset="0.123" stop-color="#49c98b"/><stop offset="0.169" stop-color="#40c893"/><stop offset="0.215" stop-color="#44c98f"/><stop offset="0.262" stop-color="#44c990"/><stop offset="0.308" stop-color="#45c98e"/><stop offset="0.403" stop-color="#42c891"/><stop offset="0.447" stop-color="#41c892"/><stop offset="0.487" stop-color="#3ac799"/><stop offset="0.527" stop-color="#3ac798"/><stop offset="0.585" stop-color="#26c2ab"/><stop offset="0.623" stop-color="#35c69e"/><stop offset="0.655" stop-color="#3ec895"/><stop offset="0.764" stop-color="#26c2ab"/><stop offset="0.805" stop-color="#25c1ab"/><stop offset="0.822" stop-color="#36c79d"/><stop offset="0.831" stop-color="#45c98f"/><stop offset="0.834" stop-color="#1fbfb0"/><stop offset="0.837" stop-color="#10b9c1"/><stop offset="0.866" stop-color="#09b5cb"/><stop offset="0.874" stop-color="#09b3cf"/><stop offset="0.900" stop-color="#12aed5"/><stop offset="0.970" stop-color="#07b5cd"/><stop offset="0.999" stop-color="#0bb7c7"/></linearGradient><linearGradient id="g49" x1="0" y1="0" x2="0" y2="1"><stop offset="0.001" stop-color="#36c79c"/><stop offset="0.230" stop-color="#4bca89"/><stop offset="0.264" stop-color="#5bcb7c"/><stop offset="0.316" stop-color="#46c98d"/><stop offset="0.400" stop-color="#40c893"/><stop offset="0.527" stop-color="#44c98f"/><stop offset="0.626" stop-color="#35c69e"/><stop offset="0.669" stop-color="#39c79a"/><stop offset="0.779" stop-color="#15bcb9"/><stop offset="0.793" stop-color="#19bdb5"/><stop offset="0.811" stop-color="#36c79c"/><stop offset="0.819" stop-color="#4cca88"/><stop offset="0.831" stop-color="#84cb5c"/><stop offset="0.834" stop-color="#37c79b"/><stop offset="0.848" stop-color="#38c79a"/><stop offset="0.883" stop-color="#15bcb9"/><stop offset="0.918" stop-color="#0bb6c7"/><stop offset="0.926" stop-color="#08b3cf"/><stop offset="0.944" stop-color="#1fa6dd"/><stop offset="0.975" stop-color="#2499e7"/><stop offset="0.999" stop-color="#219fe4"/></linearGradient><linearGradient id="g50" x1="0" y1="0" x2="0" y2="1"><stop offset="0.001" stop-color="#3dc896"/><stop offset="0.065" stop-color="#3ac799"/><stop offset="0.120" stop-color="#48c98c"/><stop offset="0.221" stop-color="#49c98b"/><stop offset="0.267" stop-color="#58cb7e"/><stop offset="0.322" stop-color="#48c98c"/><stop offset="0.426" stop-color="#50ca85"/><stop offset="0.470" stop-color="#4cca88"/><stop offset="0.565" stop-color="#50ca85"/><stop offset="0.646" stop-color="#3ac799"/><stop offset="0.782" stop-color="#1ebfb1"/><stop offset="0.805" stop-color="#2fc5a3"/><stop offset="0.822" stop-color="#4dca87"/><stop offset="0.831" stop-color="#75cc67"/><stop offset="0.834" stop-color="#2fc5a3"/><stop offset="0.857" stop-color="#40c893"/><stop offset="0.877" stop-color="#36c79c"/><stop offset="0.906" stop-color="#11b9bf"/><stop offset="0.918" stop-color="#07b4cd"/><stop offset="0.941" stop-color="#1fa6de"/><stop offset="0.970" stop-color="#219ee4"/><stop offset="0.999" stop-color="#1da8db"/></linearGradient><linearGradient id="g51" x1="0" y1="0" x2="0" y2="1"><stop offset="0.001" stop-color="#3dc896"/><stop offset="0.077" stop-color="#40c893"/><stop offset="0.134" stop-color="#43c990"/><stop offset="0.215" stop-color="#43c990"/><stop offset="0.259" stop-color="#42c891"/><stop offset="0.334" stop-color="#4dca87"/><stop offset="0.366" stop-color="#5ccb7b"/><stop offset="0.412" stop-color="#52ca83"/><stop offset="0.458" stop-color="#5acb7d"/><stop offset="0.501" stop-color="#59cb7d"/><stop offset="0.559" stop-color="#64cb74"/><stop offset="0.646" stop-color="#4aca8a"/><stop offset="0.715" stop-color="#3bc798"/><stop offset="0.741" stop-color="#30c5a1"/><stop offset="0.770" stop-color="#12babd"/><stop offset="0.790" stop-color="#10b9c0"/><stop offset="0.808" stop-color="#1bbeb4"/><stop offset="0.828" stop-color="#40c893"/><stop offset="0.831" stop-color="#48c98c"/><stop offset="0.834" stop-color="#12babd"/><stop offset="0.866" stop-color="#1dbfb2"/><stop offset="0.938" stop-color="#07b4ce"/><stop offset="0.970" stop-color="#1ea7dd"/><stop offset="0.999" stop-color="#1fa6de"/></linearGradient><linearGradient id="g52" x1="0" y1="0" x2="0" y2="1"><stop offset="0.001" stop-color="#3bc798"/><stop offset="0.088" stop-color="#42c891"/><stop offset="0.149" stop-color="#44c98f"/><stop offset="0.250" stop-color="#41c892"/><stop offset="0.325" stop-color="#52ca83"/><stop offset="0.371" stop-color="#55ca80"/><stop offset="0.406" stop-color="#52ca83"/><stop offset="0.470" stop-color="#72cc69"/><stop offset="0.533" stop-color="#6bcb6e"/><stop offset="0.588" stop-color="#67cb72"/><stop offset="0.672" stop-color="#47c98d"/><stop offset="0.753" stop-color="#19bdb5"/><stop offset="0.788" stop-color="#0db8c4"/><stop offset="0.808" stop-color="#14bbbb"/><stop offset="0.819" stop-color="#29c3a8"/><stop offset="0.831" stop-color="#4aca8a"/><stop offset="0.834" stop-color="#15bbba"/><stop offset="0.860" stop-color="#2ac3a7"/><stop offset="0.906" stop-color="#28c2a8"/><stop offset="0.929" stop-color="#10b9c0"/><stop offset="0.941" stop-color="#08b3cf"/><stop offset="0.961" stop-color="#1ea7dd"/><stop offset="0.999" stop-color="#21a0e3"/></linearGradient><linearGradient id="g53" x1="0" y1="0" x2="0" y2="1"><stop offset="0.001" stop-color="#3bc798"/><stop offset="0.079" stop-color="#47c98c"/><stop offset="0.253" stop-color="#49c98b"/><stop offset="0.299" stop-color="#59cb7e"/><stop offset="0.340" stop-color="#4fca86"/><stop offset="0.421" stop-color="#63cb75"/><stop offset="0.464" stop-color="#7bcc62"/><stop offset="0.525" stop-color="#76cc65"/><stop offset="0.594" stop-color="#72cc69"/><stop offset="0.660" stop-color="#5dcb7a"/><stop offset="0.692" stop-color="#47c98d"/><stop offset="0.733" stop-color="#30c5a2"/><stop offset="0.767" stop-color="#14bbbb"/><stop offset="0.799" stop-color="#11b9bf"/><stop offset="0.816" stop-color="#1abeb4"/><stop offset="0.831" stop-color="#36c79c"/><stop offset="0.837" stop-color="#16bcb8"/><stop offset="0.840" stop-color="#0cb7c6"/><stop offset="0.866" stop-color="#15bbba"/><stop offset="0.903" stop-color="#07b3cf"/><stop offset="0.947" stop-color="#1fa5df"/><stop offset="0.984" stop-color="#229be6"/><stop offset="0.999" stop-color="#219ee5"/></linearGradient><linearGradient id="g54" x1="0" y1="0" x2="0" y2="1"><stop offset="0.001" stop-color="#47c98d"/><stop offset="0.137" stop-color="#4bca89"/><stop offset="0.181" stop-color="#4eca87"/><stop offset="0.276" stop-color="#4aca8a"/><stop offset="0.328" stop-color="#57cb7f"/><stop offset="0.366" stop-color="#60cb77"/><stop offset="0.421" stop-color="#68cb71"/><stop offset="0.464" stop-color="#78cc64"/><stop offset="0.522" stop-color="#7ecb5f"/><stop offset="0.565" stop-color="#8fca53"/><stop offset="0.634" stop-color="#74cc67"/><stop offset="0.660" stop-color="#69cb70"/><stop offset="0.695" stop-color="#45c98e"/><stop offset="0.744" stop-color="#1dbeb2"/><stop offset="0.773" stop-color="#07b3cf"/><stop offset="0.793" stop-color="#0db0d2"/><stop offset="0.808" stop-color="#07b5cc"/><stop offset="0.834" stop-color="#1ebfb1"/><stop offset="0.840" stop-color="#26c2ab"/><stop offset="0.845" stop-color="#0ab6c9"/><stop offset="0.848" stop-color="#12aed5"/><stop offset="0.897" stop-color="#0fb0d3"/><stop offset="0.915" stop-color="#07b5cd"/><stop offset="0.944" stop-color="#13babd"/><stop offset="0.999" stop-color="#06b4ce"/></linearGradient><linearGradient id="g55" x1="0" y1="0" x2="0" y2="1"><stop offset="0.001" stop-color="#43c990"/><stop offset="0.065" stop-color="#46c98d"/><stop offset="0.126" stop-color="#4dca87"/><stop offset="0.224" stop-color="#44c990"/><stop offset="0.279" stop-color="#48c98b"/><stop offset="0.311" stop-color="#55ca81"/><stop offset="0.351" stop-color="#6bcb6e"/><stop offset="0.432" stop-color="#6fcc6b"/><stop offset="0.470" stop-color="#78cc64"/><stop offset="0.507" stop-color="#7dcc60"/><stop offset="0.553" stop-color="#8eca54"/><stop offset="0.582" stop-color="#81cb5e"/><stop offset="0.608" stop-color="#79cc63"/><stop offset="0.643" stop-color="#75cc66"/><stop offset="0.669" stop-color="#5dcb7a"/><stop offset="0.692" stop-color="#44c990"/><stop offset="0.741" stop-color="#24c1ac"/><stop offset="0.796" stop-color="#14bbbb"/><stop offset="0.831" stop-color="#17bcb7"/><stop offset="0.848" stop-color="#2cc4a5"/><stop offset="0.851" stop-color="#1abdb4"/><stop offset="0.854" stop-color="#1dbeb2"/><stop offset="0.857" stop-color="#10b9c0"/><stop offset="0.866" stop-color="#14bbbb"/><stop offset="0.868" stop-color="#0ab6c9"/><stop offset="0.903" stop-color="#1fbfb0"/><stop offset="0.926" stop-color="#2dc4a5"/><stop offset="0.947" stop-color="#1fbfb0"/><stop offset="0.970" stop-color="#0cb7c5"/><stop offset="0.987" stop-color="#08b3cf"/><stop offset="0.999" stop-color="#10afd4"/></linearGradient><linearGradient id="g56" x1="0" y1="0" x2="0" y2="1"><stop offset="0.001" stop-color="#3bc797"/><stop offset="0.074" stop-color="#48c98b"/><stop offset="0.108" stop-color="#53ca83"/><stop offset="0.172" stop-color="#3fc894"/><stop offset="0.238" stop-color="#43c990"/><stop offset="0.276" stop-color="#56ca7f"/><stop offset="0.308" stop-color="#62cb76"/><stop offset="0.354" stop-color="#63cb75"/><stop offset="0.395" stop-color="#69cb70"/><stop offset="0.438" stop-color="#67cb72"/><stop offset="0.499" stop-color="#7dcc60"/><stop offset="0.551" stop-color="#7bcc62"/><stop offset="0.585" stop-color="#7bcc62"/><stop offset="0.640" stop-color="#72cc69"/><stop offset="0.669" stop-color="#55ca81"/><stop offset="0.698" stop-color="#3ec895"/><stop offset="0.744" stop-color="#23c1ad"/><stop offset="0.788" stop-color="#28c3a8"/><stop offset="0.825" stop-color="#13bbbc"/><stop offset="0.854" stop-color="#18bdb6"/><stop offset="0.866" stop-color="#21c0af"/><stop offset="0.877" stop-color="#2fc5a3"/><stop offset="0.880" stop-color="#1fbfb0"/><stop offset="0.886" stop-color="#27c2aa"/><stop offset="0.889" stop-color="#16bcb8"/><stop offset="0.895" stop-color="#1cbeb3"/><stop offset="0.897" stop-color="#0fb8c2"/><stop offset="0.915" stop-color="#0fb8c2"/><stop offset="0.926" stop-color="#06b4ce"/><stop offset="0.944" stop-color="#1fa6de"/><stop offset="0.973" stop-color="#239ae7"/><stop offset="0.999" stop-color="#21a0e3"/></linearGradient><linearGradient id="g57" x1="0" y1="0" x2="0" y2="1"><stop offset="0.001" stop-color="#39c799"/><stop offset="0.068" stop-color="#43c991"/><stop offset="0.181" stop-color="#48c98c"/><stop offset="0.238" stop-color="#48c98b"/><stop offset="0.288" stop-color="#50ca85"/><stop offset="0.337" stop-color="#52ca83"/><stop offset="0.392" stop-color="#6fcc6b"/><stop offset="0.423" stop-color="#67cb72"/><stop offset="0.455" stop-color="#63cb75"/><stop offset="0.525" stop-color="#71cc6a"/><stop offset="0.603" stop-color="#70cc6b"/><stop offset="0.675" stop-color="#4eca86"/><stop offset="0.724" stop-color="#30c5a2"/><stop offset="0.762" stop-color="#14bbbb"/><stop offset="0.799" stop-color="#0db8c4"/><stop offset="0.842" stop-color="#1abdb5"/><stop offset="0.874" stop-color="#12babd"/><stop offset="0.903" stop-color="#21c0af"/><stop offset="0.906" stop-color="#11babe"/><stop offset="0.909" stop-color="#12babe"/><stop offset="0.912" stop-color="#06b4ce"/><stop offset="0.915" stop-color="#07b4cf"/><stop offset="0.918" stop-color="#19aad9"/><stop offset="0.970" stop-color="#2991ea"/><stop offset="0.993" stop-color="#2499e7"/><stop offset="0.999" stop-color="#229de5"/></linearGradient><linearGradient id="g58" x1="0" y1="0" x2="0" y2="1"><stop offset="0.001" stop-color="#35c79d"/><stop offset="0.117" stop-color="#46c98e"/><stop offset="0.166" stop-color="#3bc798"/><stop offset="0.221" stop-color="#42c991"/><stop offset="0.290" stop-color="#45c98e"/><stop offset="0.354" stop-color="#5acb7c"/><stop offset="0.406" stop-color="#66cb73"/><stop offset="0.449" stop-color="#72cc69"/><stop offset="0.478" stop-color="#79cc64"/><stop offset="0.527" stop-color="#67cb72"/><stop offset="0.577" stop-color="#65cb74"/><stop offset="0.675" stop-color="#52ca83"/><stop offset="0.718" stop-color="#36c79d"/><stop offset="0.750" stop-color="#19bdb5"/><stop offset="0.814" stop-color="#18bdb6"/><stop offset="0.840" stop-color="#21c0af"/><stop offset="0.877" stop-color="#0fb9c1"/><stop offset="0.918" stop-color="#12babe"/><stop offset="0.921" stop-color="#18abd8"/><stop offset="0.923" stop-color="#20a1e1"/><stop offset="0.984" stop-color="#2696e8"/><stop offset="0.999" stop-color="#2597e8"/></linearGradient><linearGradient id="g59" x1="0" y1="0" x2="0" y2="1"><stop offset="0.001" stop-color="#3ac799"/><stop offset="0.103" stop-color="#45c98f"/><stop offset="0.160" stop-color="#40c893"/><stop offset="0.305" stop-color="#4bca89"/><stop offset="0.360" stop-color="#48c98c"/><stop offset="0.432" stop-color="#60cb77"/><stop offset="0.490" stop-color="#5fcb79"/><stop offset="0.525" stop-color="#56ca80"/><stop offset="0.577" stop-color="#6dcc6d"/><stop offset="0.666" stop-color="#66cb73"/><stop offset="0.704" stop-color="#52ca83"/><stop offset="0.753" stop-color="#2ac3a7"/><stop offset="0.788" stop-color="#13bbbc"/><stop offset="0.814" stop-color="#07b4cd"/><stop offset="0.840" stop-color="#0db7c5"/><stop offset="0.866" stop-color="#20bfb0"/><stop offset="0.886" stop-color="#2dc4a4"/><stop offset="0.912" stop-color="#1abeb4"/><stop offset="0.923" stop-color="#12babd"/><stop offset="0.926" stop-color="#07b3cf"/><stop offset="0.929" stop-color="#1da9db"/><stop offset="0.932" stop-color="#219ee5"/><stop offset="0.955" stop-color="#2990ea"/><stop offset="0.984" stop-color="#2499e7"/><stop offset="0.999" stop-color="#20a1e2"/></linearGradient><linearGradient id="g60" x1="0" y1="0" x2="0" y2="1"><stop offset="0.001" stop-color="#3cc897"/><stop offset="0.074" stop-color="#3fc894"/><stop offset="0.129" stop-color="#41c892"/><stop offset="0.175" stop-color="#43c990"/><stop offset="0.224" stop-color="#4cca88"/><stop offset="0.371" stop-color="#4dca88"/><stop offset="0.415" stop-color="#60cb78"/><stop offset="0.525" stop-color="#58cb7e"/><stop offset="0.582" stop-color="#73cc68"/><stop offset="0.629" stop-color="#6ccb6e"/><stop offset="0.678" stop-color="#63cb75"/><stop offset="0.759" stop-color="#22c0ae"/><stop offset="0.811" stop-color="#08b5cb"/><stop offset="0.857" stop-color="#0bb7c6"/><stop offset="0.926" stop-color="#1bbeb4"/><stop offset="0.932" stop-color="#20c0af"/><stop offset="0.935" stop-color="#09b3d0"/><stop offset="0.938" stop-color="#1ba9da"/><stop offset="0.999" stop-color="#1ca9db"/></linearGradient><linearGradient id="g61" x1="0" y1="0" x2="0" y2="1"><stop offset="0.001" stop-color="#3bc797"/><stop offset="0.085" stop-color="#3cc897"/><stop offset="0.259" stop-color="#46c98e"/><stop offset="0.337" stop-color="#53ca82"/><stop offset="0.377" stop-color="#58cb7e"/><stop offset="0.421" stop-color="#5ccb7b"/><stop offset="0.464" stop-color="#64cb74"/><stop offset="0.510" stop-color="#61cb77"/><stop offset="0.556" stop-color="#6dcc6d"/><stop offset="0.588" stop-color="#5ecb7a"/><stop offset="0.617" stop-color="#50ca84"/><stop offset="0.666" stop-color="#5ecb79"/><stop offset="0.730" stop-color="#35c69d"/><stop offset="0.762" stop-color="#15bcb9"/><stop offset="0.857" stop-color="#0eb8c4"/><stop offset="0.886" stop-color="#09b5ca"/><stop offset="0.900" stop-color="#0ab2d0"/><stop offset="0.921" stop-color="#0ab2d0"/><stop offset="0.929" stop-color="#09b5ca"/><stop offset="0.935" stop-color="#0fb8c2"/><stop offset="0.938" stop-color="#1aaada"/><stop offset="0.941" stop-color="#20a2e1"/><stop offset="0.996" stop-color="#1aaada"/><stop offset="0.999" stop-color="#1baada"/></linearGradient><linearGradient id="g62" x1="0" y1="0" x2="0" y2="1"><stop offset="0.001" stop-color="#3bc798"/><stop offset="0.195" stop-color="#39c79a"/><stop offset="0.334" stop-color="#54ca81"/><stop offset="0.441" stop-color="#5ccb7b"/><stop offset="0.487" stop-color="#62cb76"/><stop offset="0.594" stop-color="#54ca81"/><stop offset="0.632" stop-color="#55ca81"/><stop offset="0.669" stop-color="#60cb78"/><stop offset="0.721" stop-color="#44c98f"/><stop offset="0.750" stop-color="#1cbeb3"/><stop offset="0.767" stop-color="#0eb8c4"/><stop offset="0.790" stop-color="#0eb8c3"/><stop offset="0.819" stop-color="#13bbbc"/><stop offset="0.854" stop-color="#07b3cf"/><stop offset="0.900" stop-color="#19aad9"/><stop offset="0.926" stop-color="#1fa5de"/><stop offset="0.938" stop-color="#1aaada"/><stop offset="0.941" stop-color="#20a2e1"/><stop offset="0.944" stop-color="#2b8eeb"/><stop offset="0.996" stop-color="#1ca9db"/><stop offset="0.999" stop-color="#1ba9da"/></linearGradient><linearGradient id="g63" x1="0" y1="0" x2="0" y2="1"><stop offset="0.001" stop-color="#31c6a1"/><stop offset="0.053" stop-color="#3bc798"/><stop offset="0.111" stop-color="#45c98e"/><stop offset="0.192" stop-color="#3fc894"/><stop offset="0.233" stop-color="#3dc896"/><stop offset="0.334" stop-color="#50ca85"/><stop offset="0.400" stop-color="#4cca88"/><stop offset="0.452" stop-color="#5fcb78"/><stop offset="0.516" stop-color="#55ca81"/><stop offset="0.559" stop-color="#4eca86"/><stop offset="0.591" stop-color="#4bca89"/><stop offset="0.629" stop-color="#65cb73"/><stop offset="0.692" stop-color="#59cb7d"/><stop offset="0.715" stop-color="#4bca89"/><stop offset="0.738" stop-color="#29c3a8"/><stop offset="0.753" stop-color="#11babf"/><stop offset="0.773" stop-color="#06b4ce"/><stop offset="0.825" stop-color="#10b9c1"/><stop offset="0.851" stop-color="#07b4ce"/><stop offset="0.880" stop-color="#0db1d2"/><stop offset="0.929" stop-color="#16acd7"/><stop offset="0.941" stop-color="#0bb1d1"/><stop offset="0.944" stop-color="#1baada"/><stop offset="0.949" stop-color="#2499e7"/><stop offset="0.984" stop-color="#219ee4"/><stop offset="0.999" stop-color="#239ae7"/></linearGradient><linearGradient id="g64" x1="0" y1="0" x2="0" y2="1"><stop offset="0.001" stop-color="#31c6a1"/><stop offset="0.059" stop-color="#40c893"/><stop offset="0.114" stop-color="#3fc894"/><stop offset="0.169" stop-color="#3bc798"/><stop offset="0.276" stop-color="#3dc896"/><stop offset="0.400" stop-color="#47c98c"/><stop offset="0.461" stop-color="#4aca89"/><stop offset="0.522" stop-color="#4eca86"/><stop offset="0.551" stop-color="#53ca82"/><stop offset="0.588" stop-color="#4aca89"/><stop offset="0.611" stop-color="#57cb7f"/><stop offset="0.646" stop-color="#6acb70"/><stop offset="0.678" stop-color="#6acb70"/><stop offset="0.712" stop-color="#59cb7e"/><stop offset="0.747" stop-color="#26c2aa"/><stop offset="0.762" stop-color="#13babd"/><stop offset="0.785" stop-color="#0db7c5"/><stop offset="0.819" stop-color="#0db7c5"/><stop offset="0.837" stop-color="#07b3cf"/><stop offset="0.863" stop-color="#11afd4"/><stop offset="0.900" stop-color="#07b5cc"/><stop offset="0.949" stop-color="#1abdb5"/><stop offset="0.952" stop-color="#0fb0d3"/><stop offset="0.955" stop-color="#1fa6de"/><stop offset="0.990" stop-color="#2597e8"/><stop offset="0.999" stop-color="#2499e7"/></linearGradient><linearGradient id="g65" x1="0" y1="0" x2="0" y2="1"><stop offset="0.001" stop-color="#38c79a"/><stop offset="0.059" stop-color="#3cc896"/><stop offset="0.166" stop-color="#35c69d"/><stop offset="0.250" stop-color="#48c98c"/><stop offset="0.409" stop-color="#47c98c"/><stop offset="0.449" stop-color="#53ca82"/><stop offset="0.487" stop-color="#5ecb79"/><stop offset="0.536" stop-color="#52ca83"/><stop offset="0.577" stop-color="#48c98c"/><stop offset="0.623" stop-color="#51ca84"/><stop offset="0.675" stop-color="#67cb72"/><stop offset="0.712" stop-color="#5fcb78"/><stop offset="0.750" stop-color="#27c2aa"/><stop offset="0.764" stop-color="#14bbba"/><stop offset="0.796" stop-color="#0eb8c4"/><stop offset="0.851" stop-color="#0bb7c6"/><stop offset="0.868" stop-color="#08b3cf"/><stop offset="0.900" stop-color="#1ea8dc"/><stop offset="0.926" stop-color="#15acd7"/><stop offset="0.944" stop-color="#07b5cc"/><stop offset="0.955" stop-color="#12babd"/><stop offset="0.958" stop-color="#09b6c9"/><stop offset="0.961" stop-color="#1fa6de"/><stop offset="0.999" stop-color="#1da8db"/></linearGradient><linearGradient id="g66" x1="0" y1="0" x2="0" y2="1"><stop offset="0.001" stop-color="#3ec895"/><stop offset="0.143" stop-color="#34c69f"/><stop offset="0.256" stop-color="#45c98e"/><stop offset="0.392" stop-color="#49c98b"/><stop offset="0.438" stop-color="#50ca85"/><stop offset="0.478" stop-color="#5ccb7b"/><stop offset="0.571" stop-color="#4fca86"/><stop offset="0.611" stop-color="#4dca87"/><stop offset="0.675" stop-color="#60cb78"/><stop offset="0.698" stop-color="#51ca84"/><stop offset="0.721" stop-color="#37c79c"/><stop offset="0.741" stop-color="#14bbbb"/><stop offset="0.759" stop-color="#0ab6c8"/><stop offset="0.825" stop-color="#12babd"/><stop offset="0.851" stop-color="#0ab6c9"/><stop offset="0.857" stop-color="#07b3cf"/><stop offset="0.871" stop-color="#1ea7dc"/><stop offset="0.895" stop-color="#2892ea"/><stop offset="0.912" stop-color="#2892ea"/><stop offset="0.935" stop-color="#1ea7dd"/><stop offset="0.947" stop-color="#08b3cf"/><stop offset="0.955" stop-color="#13babc"/><stop offset="0.961" stop-color="#21c0af"/><stop offset="0.964" stop-color="#07b5cc"/><stop offset="0.967" stop-color="#13aed6"/><stop offset="0.999" stop-color="#06b4ce"/></linearGradient><linearGradient id="g67" x1="0" y1="0" x2="0" y2="1"><stop offset="0.001" stop-color="#3fc894"/><stop offset="0.074" stop-color="#35c69e"/><stop offset="0.152" stop-color="#36c79d"/><stop offset="0.195" stop-color="#3ec895"/><stop offset="0.241" stop-color="#41c892"/><stop offset="0.328" stop-color="#49ca8a"/><stop offset="0.366" stop-color="#4eca86"/><stop offset="0.412" stop-color="#4bca89"/><stop offset="0.458" stop-color="#4fca86"/><stop offset="0.513" stop-color="#4aca8a"/><stop offset="0.600" stop-color="#4dca87"/><stop offset="0.675" stop-color="#65cb73"/><stop offset="0.707" stop-color="#5bcb7c"/><stop offset="0.747" stop-color="#21c0af"/><stop offset="0.764" stop-color="#14bbbb"/><stop offset="0.799" stop-color="#15bbba"/><stop offset="0.834" stop-color="#1abeb4"/><stop offset="0.863" stop-color="#0eb8c3"/><stop offset="0.874" stop-color="#07b3cf"/><stop offset="0.897" stop-color="#1ba9da"/><stop offset="0.915" stop-color="#18abd9"/><stop offset="0.932" stop-color="#06b4ce"/><stop offset="0.949" stop-color="#1cbeb3"/><stop offset="0.964" stop-color="#3bc798"/><stop offset="0.967" stop-color="#2bc4a6"/><stop offset="0.970" stop-color="#0cb7c6"/><stop offset="0.999" stop-color="#09b6c9"/></linearGradient><linearGradient id="g68" x1="0" y1="0" x2="0" y2="1"><stop offset="0.001" stop-color="#39c79a"/><stop offset="0.085" stop-color="#3cc897"/><stop offset="0.158" stop-color="#3bc798"/><stop offset="0.288" stop-color="#42c892"/><stop offset="0.334" stop-color="#4dca87"/><stop offset="0.400" stop-color="#45c98f"/><stop offset="0.461" stop-color="#53ca83"/><stop offset="0.516" stop-color="#45c98e"/><stop offset="0.620" stop-color="#54ca81"/><stop offset="0.669" stop-color="#67cb72"/><stop offset="0.698" stop-color="#5acb7d"/><stop offset="0.727" stop-color="#35c69e"/><stop offset="0.750" stop-color="#15bcb9"/><stop offset="0.773" stop-color="#13babc"/><stop offset="0.816" stop-color="#25c1ab"/><stop offset="0.866" stop-color="#06b4cd"/><stop offset="0.900" stop-color="#1ea7dc"/><stop offset="0.932" stop-color="#19aad9"/><stop offset="0.958" stop-color="#06b4ce"/><stop offset="0.970" stop-color="#11babe"/><stop offset="0.973" stop-color="#16acd7"/><stop offset="0.975" stop-color="#1fa4df"/><stop offset="0.999" stop-color="#1baada"/></linearGradient><linearGradient id="g69" x1="0" y1="0" x2="0" y2="1"><stop offset="0.001" stop-color="#35c69d"/><stop offset="0.074" stop-color="#3ec895"/><stop offset="0.169" stop-color="#37c79b"/><stop offset="0.299" stop-color="#44c98f"/><stop offset="0.363" stop-color="#47c98d"/><stop offset="0.429" stop-color="#49ca8b"/><stop offset="0.539" stop-color="#4dca87"/><stop offset="0.605" stop-color="#53ca82"/><stop offset="0.640" stop-color="#60cb78"/><stop offset="0.666" stop-color="#6acb70"/><stop offset="0.704" stop-color="#54ca82"/><stop offset="0.736" stop-color="#30c5a1"/><stop offset="0.759" stop-color="#15bbba"/><stop offset="0.805" stop-color="#07b4cf"/><stop offset="0.834" stop-color="#0db1d2"/><stop offset="0.851" stop-color="#07b5cd"/><stop offset="0.880" stop-color="#0db8c4"/><stop offset="0.912" stop-color="#08b3cf"/><stop offset="0.949" stop-color="#1da8dc"/><stop offset="0.967" stop-color="#16acd8"/><stop offset="0.973" stop-color="#0fb0d3"/><stop offset="0.975" stop-color="#1da9db"/><stop offset="0.978" stop-color="#2597e8"/><stop offset="0.999" stop-color="#20a2e1"/></linearGradient><linearGradient id="g70" x1="0" y1="0" x2="0" y2="1"><stop offset="0.001" stop-color="#31c6a1"/><stop offset="0.051" stop-color="#32c6a0"/><stop offset="0.137" stop-color="#3fc894"/><stop offset="0.201" stop-color="#39c79a"/><stop offset="0.267" stop-color="#3dc895"/><stop offset="0.316" stop-color="#44c98f"/><stop offset="0.426" stop-color="#3cc797"/><stop offset="0.501" stop-color="#49ca8b"/><stop offset="0.553" stop-color="#44c98f"/><stop offset="0.649" stop-color="#5dcb7a"/><stop offset="0.678" stop-color="#61cb76"/><stop offset="0.715" stop-color="#53ca82"/><stop offset="0.759" stop-color="#23c1ad"/><stop offset="0.779" stop-color="#0fb8c2"/><stop offset="0.802" stop-color="#07b3cf"/><stop offset="0.837" stop-color="#08b5cb"/><stop offset="0.880" stop-color="#19bdb6"/><stop offset="0.909" stop-color="#0fb8c2"/><stop offset="0.923" stop-color="#09b5ca"/><stop offset="0.944" stop-color="#1abdb4"/><stop offset="0.967" stop-color="#4eca86"/><stop offset="0.978" stop-color="#87cb59"/><stop offset="0.981" stop-color="#50ca84"/><stop offset="0.984" stop-color="#40c893"/><stop offset="0.999" stop-color="#56ca80"/></linearGradient><linearGradient id="g71" x1="0" y1="0" x2="0" y2="1"><stop offset="0.001" stop-color="#3ac799"/><stop offset="0.056" stop-color="#36c79d"/><stop offset="0.184" stop-color="#3cc797"/><stop offset="0.290" stop-color="#3ec894"/><stop offset="0.334" stop-color="#44c98f"/><stop offset="0.386" stop-color="#40c893"/><stop offset="0.475" stop-color="#41c892"/><stop offset="0.582" stop-color="#45c98f"/><stop offset="0.611" stop-color="#54ca82"/><stop offset="0.646" stop-color="#65cb73"/><stop offset="0.701" stop-color="#64cb75"/><stop offset="0.718" stop-color="#59cb7e"/><stop offset="0.767" stop-color="#1dbfb2"/><stop offset="0.796" stop-color="#0ab6c8"/><stop offset="0.828" stop-color="#07b4cf"/><stop offset="0.863" stop-color="#09b3d0"/><stop offset="0.900" stop-color="#1ca9db"/><stop offset="0.921" stop-color="#19aad9"/><stop offset="0.929" stop-color="#07b3cf"/><stop offset="0.938" stop-color="#15bbba"/><stop offset="0.952" stop-color="#45c98e"/><stop offset="0.961" stop-color="#70cc6b"/><stop offset="0.978" stop-color="#c4c22d"/><stop offset="0.981" stop-color="#d1be2a"/><stop offset="0.984" stop-color="#bec332"/><stop offset="0.987" stop-color="#87cb59"/><stop offset="0.996" stop-color="#95c94f"/><stop offset="0.999" stop-color="#95c94f"/></linearGradient><linearGradient id="g72" x1="0" y1="0" x2="0" y2="1"><stop offset="0.001" stop-color="#37c79c"/><stop offset="0.126" stop-color="#32c6a0"/><stop offset="0.210" stop-color="#34c69e"/><stop offset="0.360" stop-color="#40c893"/><stop offset="0.421" stop-color="#47c98d"/><stop offset="0.536" stop-color="#44c990"/><stop offset="0.579" stop-color="#42c891"/><stop offset="0.614" stop-color="#53ca82"/><stop offset="0.660" stop-color="#6ecc6c"/><stop offset="0.704" stop-color="#69cb71"/><stop offset="0.715" stop-color="#5bcb7c"/><stop offset="0.747" stop-color="#1ebfb1"/><stop offset="0.762" stop-color="#12babe"/><stop offset="0.837" stop-color="#06b4ce"/><stop offset="0.874" stop-color="#1fa4df"/><stop offset="0.903" stop-color="#229de5"/><stop offset="0.923" stop-color="#1fa5de"/><stop offset="0.929" stop-color="#14add6"/><stop offset="0.935" stop-color="#07b5cc"/><stop offset="0.947" stop-color="#21c0ae"/><stop offset="0.961" stop-color="#4cca88"/><stop offset="0.978" stop-color="#9dc949"/><stop offset="0.984" stop-color="#b8c436"/><stop offset="0.987" stop-color="#a6c843"/><stop offset="0.990" stop-color="#6dcc6d"/><stop offset="0.999" stop-color="#7dcc60"/></linearGradient><linearGradient id="g73" x1="0" y1="0" x2="0" y2="1"><stop offset="0.001" stop-color="#31c6a1"/><stop offset="0.045" stop-color="#3cc897"/><stop offset="0.132" stop-color="#30c5a2"/><stop offset="0.270" stop-color="#32c6a0"/><stop offset="0.432" stop-color="#4cca88"/><stop offset="0.481" stop-color="#46c98d"/><stop offset="0.536" stop-color="#4bca89"/><stop offset="0.594" stop-color="#46c98d"/><stop offset="0.626" stop-color="#53ca82"/><stop offset="0.666" stop-color="#65cb73"/><stop offset="0.710" stop-color="#64cb74"/><stop offset="0.724" stop-color="#50ca85"/><stop offset="0.756" stop-color="#26c2aa"/><stop offset="0.790" stop-color="#11b9bf"/><stop offset="0.819" stop-color="#07b3cf"/><stop offset="0.871" stop-color="#1fa6de"/><stop offset="0.923" stop-color="#239ae7"/><stop offset="0.947" stop-color="#1da9db"/><stop offset="0.958" stop-color="#06b4ce"/><stop offset="0.970" stop-color="#1dbeb2"/><stop offset="0.981" stop-color="#49ca8b"/><stop offset="0.990" stop-color="#87cb59"/><stop offset="0.993" stop-color="#40c893"/><stop offset="0.999" stop-color="#51ca84"/></linearGradient><linearGradient id="g74" x1="0" y1="0" x2="0" y2="1"><stop offset="0.001" stop-color="#35c69d"/><stop offset="0.163" stop-color="#39c799"/><stop offset="0.210" stop-color="#33c69f"/><stop offset="0.282" stop-color="#40c893"/><stop offset="0.354" stop-color="#41c892"/><stop offset="0.438" stop-color="#4aca8a"/><stop offset="0.484" stop-color="#3ec895"/><stop offset="0.545" stop-color="#51ca84"/><stop offset="0.594" stop-color="#4cca88"/><stop offset="0.632" stop-color="#62cb76"/><stop offset="0.663" stop-color="#6fcc6b"/><stop offset="0.710" stop-color="#63cb75"/><stop offset="0.756" stop-color="#22c0ae"/><stop offset="0.779" stop-color="#11babf"/><stop offset="0.811" stop-color="#07b4cf"/><stop offset="0.840" stop-color="#0eb0d2"/><stop offset="0.877" stop-color="#0eb0d3"/><stop offset="0.918" stop-color="#1fa5df"/><stop offset="0.935" stop-color="#1ba9db"/><stop offset="0.949" stop-color="#07b5cc"/><stop offset="0.961" stop-color="#1cbeb3"/><stop offset="0.975" stop-color="#4bca89"/><stop offset="0.990" stop-color="#a1c846"/><stop offset="0.993" stop-color="#b0c63b"/><stop offset="0.996" stop-color="#7dcc60"/><stop offset="0.999" stop-color="#62cb76"/></linearGradient><linearGradient id="g75" x1="0" y1="0" x2="0" y2="1"><stop offset="0.001" stop-color="#36c79d"/><stop offset="0.065" stop-color="#39c799"/><stop offset="0.160" stop-color="#40c893"/><stop offset="0.207" stop-color="#40c893"/><stop offset="0.267" stop-color="#3bc798"/><stop offset="0.406" stop-color="#45c98e"/><stop offset="0.464" stop-color="#4eca86"/><stop offset="0.605" stop-color="#46c98d"/><stop offset="0.666" stop-color="#56ca7f"/><stop offset="0.707" stop-color="#64cb75"/><stop offset="0.721" stop-color="#55ca81"/><stop offset="0.756" stop-color="#25c2ab"/><stop offset="0.782" stop-color="#1abdb5"/><stop offset="0.877" stop-color="#13babc"/><stop offset="0.897" stop-color="#06b4ce"/><stop offset="0.915" stop-color="#1ea7dd"/><stop offset="0.929" stop-color="#1fa5df"/><stop offset="0.938" stop-color="#1aaada"/><stop offset="0.949" stop-color="#06b4ce"/><stop offset="0.964" stop-color="#1ebfb1"/><stop offset="0.981" stop-color="#4eca86"/><stop offset="0.996" stop-color="#a0c847"/><stop offset="0.999" stop-color="#68cb71"/></linearGradient><linearGradient id="g76" x1="0" y1="0" x2="0" y2="1"><stop offset="0.001" stop-color="#2fc5a3"/><stop offset="0.105" stop-color="#34c69e"/><stop offset="0.169" stop-color="#3cc897"/><stop offset="0.233" stop-color="#3cc896"/><stop offset="0.348" stop-color="#33c69f"/><stop offset="0.412" stop-color="#41c892"/><stop offset="0.519" stop-color="#4cca88"/><stop offset="0.585" stop-color="#4bca89"/><stop offset="0.686" stop-color="#5acb7c"/><stop offset="0.712" stop-color="#64cb74"/><stop offset="0.727" stop-color="#53ca83"/><stop offset="0.762" stop-color="#28c2a9"/><stop offset="0.785" stop-color="#1cbeb3"/><stop offset="0.828" stop-color="#29c3a8"/><stop offset="0.848" stop-color="#1cbeb3"/><stop offset="0.871" stop-color="#06b4ce"/><stop offset="0.897" stop-color="#1ea7dd"/><stop offset="0.926" stop-color="#20a1e2"/><stop offset="0.941" stop-color="#1aaada"/><stop offset="0.955" stop-color="#07b5cc"/><stop offset="0.973" stop-color="#1dbeb2"/><stop offset="0.999" stop-color="#54ca82"/></linearGradient><linearGradient id="g77" x1="0" y1="0" x2="0" y2="1"><stop offset="0.001" stop-color="#2cc4a5"/><stop offset="0.074" stop-color="#30c5a1"/><stop offset="0.120" stop-color="#37c79b"/><stop offset="0.238" stop-color="#39c799"/><stop offset="0.319" stop-color="#40c893"/><stop offset="0.406" stop-color="#3bc798"/><stop offset="0.493" stop-color="#4aca8a"/><stop offset="0.588" stop-color="#50ca85"/><stop offset="0.669" stop-color="#63cb75"/><stop offset="0.710" stop-color="#63cb75"/><stop offset="0.741" stop-color="#44c98f"/><stop offset="0.770" stop-color="#2fc5a3"/><stop offset="0.793" stop-color="#12babd"/><stop offset="0.819" stop-color="#0bb7c7"/><stop offset="0.851" stop-color="#0bb7c7"/><stop offset="0.863" stop-color="#06b4ce"/><stop offset="0.889" stop-color="#1fa6de"/><stop offset="0.923" stop-color="#219fe3"/><stop offset="0.941" stop-color="#19abd9"/><stop offset="0.958" stop-color="#07b5cc"/><stop offset="0.984" stop-color="#1cbeb3"/><stop offset="0.999" stop-color="#2dc4a4"/></linearGradient><linearGradient id="g78" x1="0" y1="0" x2="0" y2="1"><stop offset="0.001" stop-color="#2cc4a5"/><stop offset="0.189" stop-color="#41c892"/><stop offset="0.270" stop-color="#3ac798"/><stop offset="0.386" stop-color="#47c98d"/><stop offset="0.481" stop-color="#51ca84"/><stop offset="0.548" stop-color="#43c990"/><stop offset="0.591" stop-color="#4dca87"/><stop offset="0.672" stop-color="#67cb72"/><stop offset="0.704" stop-color="#67cb72"/><stop offset="0.718" stop-color="#57ca7f"/><stop offset="0.738" stop-color="#3bc798"/><stop offset="0.779" stop-color="#20c0af"/><stop offset="0.808" stop-color="#06b4ce"/><stop offset="0.828" stop-color="#10afd4"/><stop offset="0.854" stop-color="#07b5cd"/><stop offset="0.874" stop-color="#08b5cc"/><stop offset="0.883" stop-color="#0bb2d1"/><stop offset="0.900" stop-color="#1fa4df"/><stop offset="0.926" stop-color="#2d8aed"/><stop offset="0.947" stop-color="#2b8dec"/><stop offset="0.973" stop-color="#1fa4df"/><stop offset="0.981" stop-color="#13add6"/><stop offset="0.987" stop-color="#07b4cf"/><stop offset="0.999" stop-color="#14bbbb"/></linearGradient><linearGradient id="g79" x1="0" y1="0" x2="0" y2="1"><stop offset="0.001" stop-color="#2cc4a5"/><stop offset="0.074" stop-color="#35c69d"/><stop offset="0.160" stop-color="#3fc894"/><stop offset="0.212" stop-color="#3ac799"/><stop offset="0.262" stop-color="#3bc798"/><stop offset="0.302" stop-color="#3fc894"/><stop offset="0.351" stop-color="#49c98b"/><stop offset="0.452" stop-color="#44c98f"/><stop offset="0.499" stop-color="#53ca82"/><stop offset="0.553" stop-color="#3fc894"/><stop offset="0.617" stop-color="#4fca86"/><stop offset="0.704" stop-color="#5dcb7a"/><stop offset="0.718" stop-color="#51ca84"/><stop offset="0.762" stop-color="#1ebfb1"/><stop offset="0.799" stop-color="#0eb8c3"/><stop offset="0.822" stop-color="#08b3cf"/><stop offset="0.857" stop-color="#1fa6dd"/><stop offset="0.938" stop-color="#20a2e1"/><stop offset="0.975" stop-color="#1aaada"/><stop offset="0.993" stop-color="#06b4ce"/><stop offset="0.999" stop-color="#0ab6c8"/></linearGradient><linearGradient id="g80" x1="0" y1="0" x2="0" y2="1"><stop offset="0.001" stop-color="#30c5a2"/><stop offset="0.149" stop-color="#39c79a"/><stop offset="0.230" stop-color="#34c69e"/><stop offset="0.276" stop-color="#35c79d"/><stop offset="0.311" stop-color="#37c79b"/><stop offset="0.363" stop-color="#47c98d"/><stop offset="0.444" stop-color="#44c98f"/><stop offset="0.499" stop-color="#4cca88"/><stop offset="0.562" stop-color="#40c893"/><stop offset="0.655" stop-color="#58cb7e"/><stop offset="0.710" stop-color="#59cb7d"/><stop offset="0.741" stop-color="#30c5a2"/><stop offset="0.762" stop-color="#15bbba"/><stop offset="0.788" stop-color="#0eb8c4"/><stop offset="0.831" stop-color="#10b9c0"/><stop offset="0.857" stop-color="#08b3cf"/><stop offset="0.883" stop-color="#16acd7"/><stop offset="0.929" stop-color="#07b5cd"/><stop offset="0.958" stop-color="#09b5ca"/><stop offset="0.987" stop-color="#09b6c9"/><stop offset="0.999" stop-color="#0db7c5"/></linearGradient><linearGradient id="g81" x1="0" y1="0" x2="0" y2="1"><stop offset="0.001" stop-color="#2dc4a5"/><stop offset="0.065" stop-color="#31c6a1"/><stop offset="0.132" stop-color="#34c69e"/><stop offset="0.184" stop-color="#30c5a1"/><stop offset="0.233" stop-color="#35c69d"/><stop offset="0.293" stop-color="#38c79b"/><stop offset="0.357" stop-color="#44c98f"/><stop offset="0.432" stop-color="#44c990"/><stop offset="0.553" stop-color="#47c98d"/><stop offset="0.605" stop-color="#53ca82"/><stop offset="0.652" stop-color="#4fca86"/><stop offset="0.701" stop-color="#6ecc6c"/><stop offset="0.715" stop-color="#65cb73"/><stop offset="0.741" stop-color="#39c79a"/><stop offset="0.773" stop-color="#15bbba"/><stop offset="0.831" stop-color="#08b3cf"/><stop offset="0.892" stop-color="#1fa6de"/><stop offset="0.926" stop-color="#1ea7dd"/><stop offset="0.955" stop-color="#0ab2d0"/><stop offset="0.999" stop-color="#11afd4"/></linearGradient><linearGradient id="g82" x1="0" y1="0" x2="0" y2="1"><stop offset="0.001" stop-color="#31c6a1"/><stop offset="0.105" stop-color="#38c79a"/><stop offset="0.178" stop-color="#31c6a0"/><stop offset="0.256" stop-color="#31c6a1"/><stop offset="0.368" stop-color="#3ec895"/><stop offset="0.493" stop-color="#43c990"/><stop offset="0.548" stop-color="#3ac799"/><stop offset="0.614" stop-color="#47c98c"/><stop offset="0.660" stop-color="#4eca86"/><stop offset="0.698" stop-color="#6acb6f"/><stop offset="0.712" stop-color="#60cb78"/><stop offset="0.738" stop-color="#34c69e"/><stop offset="0.762" stop-color="#1ebfb1"/><stop offset="0.802" stop-color="#0bb6c7"/><stop offset="0.811" stop-color="#09b3d0"/><stop offset="0.828" stop-color="#1ea7dd"/><stop offset="0.854" stop-color="#20a1e1"/><stop offset="0.886" stop-color="#1fa6de"/><stop offset="0.926" stop-color="#2892ea"/><stop offset="0.970" stop-color="#1ea8dc"/><stop offset="0.999" stop-color="#0cb1d1"/></linearGradient><linearGradient id="g83" x1="0" y1="0" x2="0" y2="1"><stop offset="0.001" stop-color="#33c69f"/><stop offset="0.097" stop-color="#38c79b"/><stop offset="0.155" stop-color="#2fc5a3"/><stop offset="0.221" stop-color="#3ac799"/><stop offset="0.290" stop-color="#35c69d"/><stop offset="0.340" stop-color="#39c79a"/><stop offset="0.395" stop-color="#41c892"/><stop offset="0.452" stop-color="#4bca89"/><stop offset="0.574" stop-color="#41c892"/><stop offset="0.698" stop-color="#61cb77"/><stop offset="0.712" stop-color="#51ca84"/><stop offset="0.738" stop-color="#22c0ae"/><stop offset="0.750" stop-color="#12babd"/><stop offset="0.773" stop-color="#0ab6c8"/><stop offset="0.819" stop-color="#13bbbc"/><stop offset="0.851" stop-color="#08b3cf"/><stop offset="0.877" stop-color="#1ea7dd"/><stop offset="0.918" stop-color="#2696e8"/><stop offset="0.952" stop-color="#20a3e0"/><stop offset="0.964" stop-color="#1baada"/><stop offset="0.987" stop-color="#0bb2d1"/><stop offset="0.999" stop-color="#0ab2d0"/></linearGradient><linearGradient id="g84" x1="0" y1="0" x2="0" y2="1"><stop offset="0.001" stop-color="#32c6a0"/><stop offset="0.085" stop-color="#2cc4a6"/><stop offset="0.137" stop-color="#3ac799"/><stop offset="0.204" stop-color="#38c79b"/><stop offset="0.256" stop-color="#40c893"/><stop offset="0.302" stop-color="#40c893"/><stop offset="0.415" stop-color="#45c98e"/><stop offset="0.551" stop-color="#3fc894"/><stop offset="0.588" stop-color="#3ec895"/><stop offset="0.672" stop-color="#5dcb7a"/><stop offset="0.698" stop-color="#5ccb7b"/><stop offset="0.744" stop-color="#22c0ad"/><stop offset="0.767" stop-color="#0eb8c2"/><stop offset="0.790" stop-color="#07b3cf"/><stop offset="0.831" stop-color="#09b5cb"/><stop offset="0.840" stop-color="#08b3cf"/><stop offset="0.860" stop-color="#1fa6de"/><stop offset="0.895" stop-color="#2c8cec"/><stop offset="0.923" stop-color="#2892ea"/><stop offset="0.973" stop-color="#1ea7dc"/><stop offset="0.999" stop-color="#13aed6"/></linearGradient><linearGradient id="g85" x1="0" y1="0" x2="0" y2="1"><stop offset="0.001" stop-color="#39c79a"/><stop offset="0.079" stop-color="#2bc3a6"/><stop offset="0.143" stop-color="#3cc897"/><stop offset="0.207" stop-color="#39c799"/><stop offset="0.250" stop-color="#39c799"/><stop offset="0.285" stop-color="#37c79c"/><stop offset="0.331" stop-color="#46c98e"/><stop offset="0.478" stop-color="#44c98f"/><stop offset="0.574" stop-color="#41c892"/><stop offset="0.652" stop-color="#65cb73"/><stop offset="0.695" stop-color="#66cb73"/><stop offset="0.710" stop-color="#55ca81"/><stop offset="0.747" stop-color="#22c0ad"/><stop offset="0.785" stop-color="#0cb7c6"/><stop offset="0.822" stop-color="#07b4cd"/><stop offset="0.842" stop-color="#0cb1d1"/><stop offset="0.860" stop-color="#1fa6dd"/><stop offset="0.895" stop-color="#2b8dec"/><stop offset="0.926" stop-color="#2e88ef"/><stop offset="0.952" stop-color="#239ae7"/><stop offset="0.970" stop-color="#1aaada"/><stop offset="0.984" stop-color="#07b3cf"/><stop offset="0.999" stop-color="#0ab6c8"/></linearGradient><linearGradient id="g86" x1="0" y1="0" x2="0" y2="1"><stop offset="0.001" stop-color="#33c69f"/><stop offset="0.103" stop-color="#31c6a1"/><stop offset="0.160" stop-color="#38c79a"/><stop offset="0.264" stop-color="#39c79a"/><stop offset="0.334" stop-color="#43c990"/><stop offset="0.389" stop-color="#4aca8a"/><stop offset="0.461" stop-color="#40c893"/><stop offset="0.545" stop-color="#40c893"/><stop offset="0.579" stop-color="#41c892"/><stop offset="0.660" stop-color="#63cb75"/><stop offset="0.698" stop-color="#6ecc6c"/><stop offset="0.712" stop-color="#5fcb79"/><stop offset="0.733" stop-color="#3fc894"/><stop offset="0.788" stop-color="#0eb8c4"/><stop offset="0.805" stop-color="#07b3cf"/><stop offset="0.877" stop-color="#1aaada"/><stop offset="0.923" stop-color="#2794e9"/><stop offset="0.949" stop-color="#239be6"/><stop offset="0.990" stop-color="#18abd8"/><stop offset="0.999" stop-color="#18abd9"/></linearGradient><linearGradient id="g87" x1="0" y1="0" x2="0" y2="1"><stop offset="0.001" stop-color="#32c6a0"/><stop offset="0.056" stop-color="#32c6a0"/><stop offset="0.158" stop-color="#39c79a"/><stop offset="0.224" stop-color="#2fc5a3"/><stop offset="0.383" stop-color="#48c98b"/><stop offset="0.579" stop-color="#41c892"/><stop offset="0.672" stop-color="#64cb74"/><stop offset="0.695" stop-color="#6ecc6d"/><stop offset="0.710" stop-color="#5fcb78"/><stop offset="0.727" stop-color="#42c892"/><stop offset="0.753" stop-color="#27c2aa"/><stop offset="0.793" stop-color="#0eb8c4"/><stop offset="0.831" stop-color="#07b3cf"/><stop offset="0.866" stop-color="#1fa6de"/><stop offset="0.915" stop-color="#2892ea"/><stop offset="0.999" stop-color="#1ea7dd"/></linearGradient><linearGradient id="g88" x1="0" y1="0" x2="0" y2="1"><stop offset="0.001" stop-color="#2ec5a3"/><stop offset="0.094" stop-color="#36c79c"/><stop offset="0.224" stop-color="#2ec5a3"/><stop offset="0.293" stop-color="#3cc897"/><stop offset="0.380" stop-color="#4bca89"/><stop offset="0.519" stop-color="#40c893"/><stop offset="0.608" stop-color="#48c98c"/><stop offset="0.666" stop-color="#5bcb7c"/><stop offset="0.692" stop-color="#68cb71"/><stop offset="0.707" stop-color="#5ccb7b"/><stop offset="0.724" stop-color="#41c892"/><stop offset="0.767" stop-color="#14bbbb"/><stop offset="0.796" stop-color="#07b4cd"/><stop offset="0.822" stop-color="#0fb9c1"/><stop offset="0.842" stop-color="#13babd"/><stop offset="0.863" stop-color="#07b3cf"/><stop offset="0.880" stop-color="#1ea8dc"/><stop offset="0.923" stop-color="#2498e7"/><stop offset="0.981" stop-color="#2794e9"/><stop offset="0.999" stop-color="#229de5"/></linearGradient><linearGradient id="g89" x1="0" y1="0" x2="0" y2="1"><stop offset="0.001" stop-color="#2ac3a7"/><stop offset="0.053" stop-color="#2dc4a5"/><stop offset="0.108" stop-color="#31c6a0"/><stop offset="0.218" stop-color="#38c79a"/><stop offset="0.262" stop-color="#3ac798"/><stop offset="0.314" stop-color="#36c79d"/><stop offset="0.397" stop-color="#4fca85"/><stop offset="0.470" stop-color="#39c799"/><stop offset="0.585" stop-color="#3dc896"/><stop offset="0.652" stop-color="#59cb7e"/><stop offset="0.692" stop-color="#65cb73"/><stop offset="0.707" stop-color="#57cb7f"/><stop offset="0.733" stop-color="#36c79c"/><stop offset="0.776" stop-color="#09b5ca"/><stop offset="0.782" stop-color="#09b2d0"/><stop offset="0.802" stop-color="#19aad9"/><stop offset="0.825" stop-color="#14add6"/><stop offset="0.851" stop-color="#0db1d2"/><stop offset="0.871" stop-color="#19abd9"/><stop offset="0.889" stop-color="#219fe4"/><stop offset="0.921" stop-color="#2d8aee"/><stop offset="0.955" stop-color="#2b8eeb"/><stop offset="0.996" stop-color="#2794e9"/><stop offset="0.999" stop-color="#2794e9"/></linearGradient><linearGradient id="g90" x1="0" y1="0" x2="0" y2="1"><stop offset="0.001" stop-color="#32c6a0"/><stop offset="0.123" stop-color="#32c6a0"/><stop offset="0.201" stop-color="#3dc896"/><stop offset="0.293" stop-color="#38c79b"/><stop offset="0.345" stop-color="#37c79b"/><stop offset="0.418" stop-color="#47c98c"/><stop offset="0.496" stop-color="#39c79a"/><stop offset="0.571" stop-color="#3cc797"/><stop offset="0.689" stop-color="#67cb72"/><stop offset="0.701" stop-color="#5ecb79"/><stop offset="0.721" stop-color="#3cc897"/><stop offset="0.744" stop-color="#25c1ab"/><stop offset="0.816" stop-color="#10b9c0"/><stop offset="0.837" stop-color="#08b3cf"/><stop offset="0.880" stop-color="#20a2e1"/><stop offset="0.915" stop-color="#2e86f0"/><stop offset="0.944" stop-color="#2e86f0"/><stop offset="0.984" stop-color="#20a2e1"/><stop offset="0.999" stop-color="#1fa4df"/></linearGradient><linearGradient id="g91" x1="0" y1="0" x2="0" y2="1"><stop offset="0.001" stop-color="#33c69f"/><stop offset="0.053" stop-color="#2dc4a4"/><stop offset="0.100" stop-color="#2bc4a6"/><stop offset="0.210" stop-color="#41c892"/><stop offset="0.302" stop-color="#41c893"/><stop offset="0.348" stop-color="#3ec895"/><stop offset="0.444" stop-color="#42c891"/><stop offset="0.556" stop-color="#2fc5a2"/><stop offset="0.597" stop-color="#39c79a"/><stop offset="0.652" stop-color="#53ca82"/><stop offset="0.686" stop-color="#66cb73"/><stop offset="0.701" stop-color="#5ecb7a"/><stop offset="0.727" stop-color="#33c69f"/><stop offset="0.753" stop-color="#17bcb7"/><stop offset="0.796" stop-color="#09b5ca"/><stop offset="0.834" stop-color="#09b2d0"/><stop offset="0.868" stop-color="#0ab2d0"/><stop offset="0.889" stop-color="#1fa4e0"/><stop offset="0.915" stop-color="#2c8cec"/><stop offset="0.938" stop-color="#2a8feb"/><stop offset="0.975" stop-color="#20a2e1"/><stop offset="0.999" stop-color="#1fa4df"/></linearGradient><linearGradient id="g92" x1="0" y1="0" x2="0" y2="1"><stop offset="0.001" stop-color="#2dc4a4"/><stop offset="0.097" stop-color="#2ec5a3"/><stop offset="0.160" stop-color="#39c79a"/><stop offset="0.201" stop-color="#3fc894"/><stop offset="0.345" stop-color="#3dc896"/><stop offset="0.435" stop-color="#46c98d"/><stop offset="0.490" stop-color="#3cc797"/><stop offset="0.536" stop-color="#3fc894"/><stop offset="0.579" stop-color="#37c79b"/><stop offset="0.637" stop-color="#49c98b"/><stop offset="0.686" stop-color="#66cb73"/><stop offset="0.701" stop-color="#5fcb78"/><stop offset="0.733" stop-color="#30c5a1"/><stop offset="0.756" stop-color="#1cbeb3"/><stop offset="0.816" stop-color="#0db8c4"/><stop offset="0.868" stop-color="#08b3cf"/><stop offset="0.900" stop-color="#1fa4e0"/><stop offset="0.941" stop-color="#2f85f1"/><stop offset="0.970" stop-color="#2c8bec"/><stop offset="0.999" stop-color="#2598e8"/></linearGradient><linearGradient id="g93" x1="0" y1="0" x2="0" y2="1"><stop offset="0.001" stop-color="#26c2aa"/><stop offset="0.129" stop-color="#30c5a1"/><stop offset="0.198" stop-color="#32c6a0"/><stop offset="0.253" stop-color="#31c5a1"/><stop offset="0.345" stop-color="#41c892"/><stop offset="0.406" stop-color="#3fc894"/><stop offset="0.478" stop-color="#38c79b"/><stop offset="0.513" stop-color="#39c79a"/><stop offset="0.553" stop-color="#3ac799"/><stop offset="0.605" stop-color="#3dc895"/><stop offset="0.660" stop-color="#52ca83"/><stop offset="0.692" stop-color="#62cb76"/><stop offset="0.707" stop-color="#56ca80"/><stop offset="0.747" stop-color="#26c2aa"/><stop offset="0.793" stop-color="#14bbba"/><stop offset="0.819" stop-color="#1ebfb2"/><stop offset="0.842" stop-color="#21c0af"/><stop offset="0.868" stop-color="#10b9c0"/><stop offset="0.877" stop-color="#08b5cc"/><stop offset="0.886" stop-color="#14add6"/><stop offset="0.895" stop-color="#1fa4df"/><stop offset="0.921" stop-color="#2991ea"/><stop offset="0.999" stop-color="#2d88ef"/></linearGradient><linearGradient id="g94" x1="0" y1="0" x2="0" y2="1"><stop offset="0.001" stop-color="#2cc4a5"/><stop offset="0.068" stop-color="#2bc3a6"/><stop offset="0.163" stop-color="#32c6a0"/><stop offset="0.236" stop-color="#31c6a1"/><stop offset="0.299" stop-color="#3dc895"/><stop offset="0.403" stop-color="#39c799"/><stop offset="0.490" stop-color="#40c893"/><stop offset="0.527" stop-color="#41c892"/><stop offset="0.577" stop-color="#31c6a0"/><stop offset="0.684" stop-color="#51ca84"/><stop offset="0.701" stop-color="#4fca85"/><stop offset="0.744" stop-color="#20c0af"/><stop offset="0.764" stop-color="#14bbbb"/><stop offset="0.802" stop-color="#14bbba"/><stop offset="0.828" stop-color="#14bbba"/><stop offset="0.845" stop-color="#07b5cc"/><stop offset="0.866" stop-color="#1ea7dd"/><stop offset="0.915" stop-color="#2d8aee"/><stop offset="0.999" stop-color="#2695e9"/></linearGradient><linearGradient id="g95" x1="0" y1="0" x2="0" y2="1"><stop offset="0.001" stop-color="#31c6a1"/><stop offset="0.071" stop-color="#30c5a2"/><stop offset="0.134" stop-color="#36c79c"/><stop offset="0.212" stop-color="#32c6a0"/><stop offset="0.273" stop-color="#3bc798"/><stop offset="0.334" stop-color="#36c79c"/><stop offset="0.395" stop-color="#42c891"/><stop offset="0.507" stop-color="#3fc894"/><stop offset="0.588" stop-color="#31c6a1"/><stop offset="0.646" stop-color="#41c892"/><stop offset="0.692" stop-color="#56ca80"/><stop offset="0.715" stop-color="#43c990"/><stop offset="0.756" stop-color="#15bbba"/><stop offset="0.788" stop-color="#0cb7c6"/><stop offset="0.822" stop-color="#0db8c4"/><stop offset="0.837" stop-color="#07b3cf"/><stop offset="0.857" stop-color="#1fa6de"/><stop offset="0.903" stop-color="#2695e9"/><stop offset="0.990" stop-color="#229de5"/><stop offset="0.999" stop-color="#219fe3"/></linearGradient><linearGradient id="g96" x1="0" y1="0" x2="0" y2="1"><stop offset="0.001" stop-color="#30c5a2"/><stop offset="0.059" stop-color="#30c5a2"/><stop offset="0.117" stop-color="#2cc4a5"/><stop offset="0.201" stop-color="#37c79b"/><stop offset="0.267" stop-color="#37c79c"/><stop offset="0.389" stop-color="#45c98f"/><stop offset="0.458" stop-color="#3fc894"/><stop offset="0.577" stop-color="#38c79a"/><stop offset="0.637" stop-color="#42c891"/><stop offset="0.684" stop-color="#55ca81"/><stop offset="0.704" stop-color="#48c98c"/><stop offset="0.756" stop-color="#14bbbb"/><stop offset="0.782" stop-color="#06b4ce"/><stop offset="0.840" stop-color="#19abd9"/><stop offset="0.868" stop-color="#1ea8dc"/><stop offset="0.938" stop-color="#1fa6de"/><stop offset="0.973" stop-color="#20a3e0"/><stop offset="0.999" stop-color="#229de5"/></linearGradient><linearGradient id="g97" x1="0" y1="0" x2="0" y2="1"><stop offset="0.001" stop-color="#33c69f"/><stop offset="0.039" stop-color="#31c6a1"/><stop offset="0.091" stop-color="#29c3a8"/><stop offset="0.201" stop-color="#3dc896"/><stop offset="0.270" stop-color="#39c799"/><stop offset="0.395" stop-color="#43c990"/><stop offset="0.571" stop-color="#3fc894"/><stop offset="0.672" stop-color="#50ca85"/><stop offset="0.692" stop-color="#53ca82"/><stop offset="0.721" stop-color="#34c69e"/><stop offset="0.747" stop-color="#15bcb9"/><stop offset="0.805" stop-color="#08b3cf"/><stop offset="0.854" stop-color="#0eb0d3"/><stop offset="0.874" stop-color="#1fa6de"/><stop offset="0.906" stop-color="#2991ea"/><stop offset="0.947" stop-color="#2498e7"/><stop offset="0.999" stop-color="#20a2e1"/></linearGradient><linearGradient id="g98" x1="0" y1="0" x2="0" y2="1"><stop offset="0.001" stop-color="#33c69f"/><stop offset="0.108" stop-color="#2ec4a4"/><stop offset="0.169" stop-color="#37c79c"/><stop offset="0.204" stop-color="#37c79c"/><stop offset="0.244" stop-color="#30c5a2"/><stop offset="0.305" stop-color="#35c69e"/><stop offset="0.395" stop-color="#40c893"/><stop offset="0.507" stop-color="#3ec895"/><stop offset="0.579" stop-color="#39c79a"/><stop offset="0.640" stop-color="#3cc797"/><stop offset="0.678" stop-color="#53ca82"/><stop offset="0.698" stop-color="#5fcb78"/><stop offset="0.715" stop-color="#50ca85"/><stop offset="0.759" stop-color="#25c1ab"/><stop offset="0.793" stop-color="#1fbfb0"/><stop offset="0.822" stop-color="#19bdb5"/><stop offset="0.857" stop-color="#06b4ce"/><stop offset="0.880" stop-color="#1fa6de"/><stop offset="0.923" stop-color="#2d88ef"/><stop offset="0.949" stop-color="#2d89ee"/><stop offset="0.987" stop-color="#20a1e2"/><stop offset="0.999" stop-color="#20a3e0"/></linearGradient><linearGradient id="g99" x1="0" y1="0" x2="0" y2="1"><stop offset="0.001" stop-color="#30c5a1"/><stop offset="0.100" stop-color="#32c6a0"/><stop offset="0.158" stop-color="#2dc4a4"/><stop offset="0.212" stop-color="#35c69d"/><stop offset="0.259" stop-color="#2ec5a3"/><stop offset="0.311" stop-color="#37c79b"/><stop offset="0.386" stop-color="#3dc896"/><stop offset="0.429" stop-color="#41c892"/><stop offset="0.475" stop-color="#36c79d"/><stop offset="0.530" stop-color="#3ac798"/><stop offset="0.623" stop-color="#30c5a1"/><stop offset="0.663" stop-color="#41c892"/><stop offset="0.695" stop-color="#55ca80"/><stop offset="0.718" stop-color="#45c98f"/><stop offset="0.759" stop-color="#15bbba"/><stop offset="0.785" stop-color="#0eb8c2"/><stop offset="0.816" stop-color="#10b9c1"/><stop offset="0.831" stop-color="#07b4cd"/><stop offset="0.851" stop-color="#1ea7dd"/><stop offset="0.883" stop-color="#21a0e3"/><stop offset="0.912" stop-color="#239ae7"/><stop offset="0.938" stop-color="#317ff6"/><stop offset="0.952" stop-color="#3676f8"/><stop offset="0.970" stop-color="#3081f4"/><stop offset="0.999" stop-color="#229de5"/></linearGradient><linearGradient id="g100" x1="0" y1="0" x2="0" y2="1"><stop offset="0.001" stop-color="#21c0ae"/><stop offset="0.114" stop-color="#33c69f"/><stop offset="0.178" stop-color="#33c69f"/><stop offset="0.224" stop-color="#3ec895"/><stop offset="0.290" stop-color="#3cc897"/><stop offset="0.340" stop-color="#38c79b"/><stop offset="0.421" stop-color="#3bc798"/><stop offset="0.556" stop-color="#31c6a1"/><stop offset="0.623" stop-color="#3ac799"/><stop offset="0.686" stop-color="#52ca83"/><stop offset="0.718" stop-color="#3dc895"/><stop offset="0.753" stop-color="#23c1ad"/><stop offset="0.808" stop-color="#1cbeb3"/><stop offset="0.840" stop-color="#07b3cf"/><stop offset="0.857" stop-color="#1ea7dd"/><stop offset="0.892" stop-color="#2795e9"/><stop offset="0.921" stop-color="#2f85f1"/><stop offset="0.935" stop-color="#3872f8"/><stop offset="0.949" stop-color="#4260f6"/><stop offset="0.970" stop-color="#435ef6"/><stop offset="0.990" stop-color="#3a6ff8"/><stop offset="0.999" stop-color="#337af8"/></linearGradient><linearGradient id="g101" x1="0" y1="0" x2="0" y2="1"><stop offset="0.001" stop-color="#27c2a9"/><stop offset="0.117" stop-color="#35c69e"/><stop offset="0.186" stop-color="#32c6a0"/><stop offset="0.314" stop-color="#31c6a1"/><stop offset="0.357" stop-color="#2ec5a3"/><stop offset="0.403" stop-color="#36c79c"/><stop offset="0.510" stop-color="#39c79a"/><stop offset="0.565" stop-color="#34c69e"/><stop offset="0.692" stop-color="#4eca86"/><stop offset="0.721" stop-color="#3cc797"/><stop offset="0.753" stop-color="#19bdb6"/><stop offset="0.793" stop-color="#0fb8c2"/><stop offset="0.805" stop-color="#07b4cd"/><stop offset="0.825" stop-color="#1ea7dd"/><stop offset="0.860" stop-color="#239be6"/><stop offset="0.912" stop-color="#2499e7"/><stop offset="0.958" stop-color="#2e86f1"/><stop offset="0.999" stop-color="#2d8aee"/></linearGradient><linearGradient id="g102" x1="0" y1="0" x2="0" y2="1"><stop offset="0.001" stop-color="#2ec5a3"/><stop offset="0.100" stop-color="#36c79c"/><stop offset="0.160" stop-color="#30c5a2"/><stop offset="0.279" stop-color="#33c69f"/><stop offset="0.348" stop-color="#41c892"/><stop offset="0.435" stop-color="#36c79c"/><stop offset="0.493" stop-color="#43c990"/><stop offset="0.577" stop-color="#34c69e"/><stop offset="0.649" stop-color="#3ec895"/><stop offset="0.692" stop-color="#4fca86"/><stop offset="0.718" stop-color="#3bc798"/><stop offset="0.753" stop-color="#15bcb9"/><stop offset="0.790" stop-color="#06b4ce"/><stop offset="0.816" stop-color="#1fa5de"/><stop offset="0.848" stop-color="#2695e9"/><stop offset="0.903" stop-color="#219ee4"/><stop offset="0.952" stop-color="#2794e9"/><stop offset="0.999" stop-color="#239be6"/></linearGradient><linearGradient id="g103" x1="0" y1="0" x2="0" y2="1"><stop offset="0.001" stop-color="#32c6a0"/><stop offset="0.091" stop-color="#2fc5a3"/><stop offset="0.146" stop-color="#24c1ac"/><stop offset="0.204" stop-color="#34c69e"/><stop offset="0.293" stop-color="#3ec895"/><stop offset="0.334" stop-color="#44c98f"/><stop offset="0.389" stop-color="#33c69f"/><stop offset="0.475" stop-color="#42c891"/><stop offset="0.565" stop-color="#2dc4a5"/><stop offset="0.608" stop-color="#29c3a8"/><stop offset="0.692" stop-color="#43c990"/><stop offset="0.724" stop-color="#32c6a0"/><stop offset="0.756" stop-color="#12babd"/><stop offset="0.788" stop-color="#0bb6c8"/><stop offset="0.822" stop-color="#09b6ca"/><stop offset="0.831" stop-color="#08b3cf"/><stop offset="0.854" stop-color="#1fa6de"/><stop offset="0.889" stop-color="#2597e8"/><stop offset="0.967" stop-color="#21a0e3"/><stop offset="0.999" stop-color="#20a1e2"/></linearGradient><linearGradient id="g104" x1="0" y1="0" x2="0" y2="1"><stop offset="0.001" stop-color="#2ec5a3"/><stop offset="0.074" stop-color="#2fc5a2"/><stop offset="0.140" stop-color="#25c1ac"/><stop offset="0.195" stop-color="#37c79c"/><stop offset="0.259" stop-color="#38c79b"/><stop offset="0.322" stop-color="#3dc896"/><stop offset="0.409" stop-color="#39c799"/><stop offset="0.470" stop-color="#36c79c"/><stop offset="0.620" stop-color="#34c69e"/><stop offset="0.695" stop-color="#46c98e"/><stop offset="0.733" stop-color="#32c6a0"/><stop offset="0.767" stop-color="#11b9bf"/><stop offset="0.788" stop-color="#07b3cf"/><stop offset="0.811" stop-color="#0bb2d1"/><stop offset="0.842" stop-color="#0ab2d0"/><stop offset="0.880" stop-color="#1fa5de"/><stop offset="0.961" stop-color="#239be6"/><stop offset="0.999" stop-color="#229be6"/></linearGradient><linearGradient id="g105" x1="0" y1="0" x2="0" y2="1"><stop offset="0.001" stop-color="#26c2aa"/><stop offset="0.100" stop-color="#30c5a1"/><stop offset="0.149" stop-color="#2dc4a4"/><stop offset="0.438" stop-color="#3dc896"/><stop offset="0.551" stop-color="#31c6a1"/><stop offset="0.600" stop-color="#36c79c"/><stop offset="0.646" stop-color="#35c69d"/><stop offset="0.692" stop-color="#45c98e"/><stop offset="0.727" stop-color="#32c6a0"/><stop offset="0.756" stop-color="#13babc"/><stop offset="0.790" stop-color="#0bb7c7"/><stop offset="0.825" stop-color="#08b3cf"/><stop offset="0.866" stop-color="#18abd9"/><stop offset="0.889" stop-color="#219ee4"/><stop offset="0.921" stop-color="#2c8cec"/><stop offset="0.970" stop-color="#2794e9"/><stop offset="0.999" stop-color="#2d8aed"/></linearGradient><linearGradient id="g106" x1="0" y1="0" x2="0" y2="1"><stop offset="0.001" stop-color="#27c2aa"/><stop offset="0.053" stop-color="#29c3a7"/><stop offset="0.108" stop-color="#35c69d"/><stop offset="0.166" stop-color="#2cc4a5"/><stop offset="0.299" stop-color="#3cc896"/><stop offset="0.337" stop-color="#40c893"/><stop offset="0.397" stop-color="#38c79b"/><stop offset="0.548" stop-color="#31c6a1"/><stop offset="0.608" stop-color="#35c69d"/><stop offset="0.672" stop-color="#40c893"/><stop offset="0.701" stop-color="#40c893"/><stop offset="0.724" stop-color="#2dc4a5"/><stop offset="0.744" stop-color="#12babd"/><stop offset="0.762" stop-color="#0cb7c6"/><stop offset="0.814" stop-color="#0fb9c1"/><stop offset="0.845" stop-color="#08b3cf"/><stop offset="0.871" stop-color="#1fa6dd"/><stop offset="0.923" stop-color="#2793e9"/><stop offset="0.984" stop-color="#2990ea"/><stop offset="0.999" stop-color="#2c8cec"/></linearGradient><linearGradient id="g107" x1="0" y1="0" x2="0" y2="1"><stop offset="0.001" stop-color="#2fc5a2"/><stop offset="0.071" stop-color="#30c5a2"/><stop offset="0.117" stop-color="#28c2a9"/><stop offset="0.186" stop-color="#32c6a0"/><stop offset="0.227" stop-color="#30c5a1"/><stop offset="0.279" stop-color="#3ec895"/><stop offset="0.357" stop-color="#3bc798"/><stop offset="0.409" stop-color="#32c6a0"/><stop offset="0.473" stop-color="#3ac798"/><stop offset="0.559" stop-color="#35c69e"/><stop offset="0.620" stop-color="#31c6a0"/><stop offset="0.689" stop-color="#45c98e"/><stop offset="0.721" stop-color="#39c79a"/><stop offset="0.756" stop-color="#19bdb5"/><stop offset="0.796" stop-color="#1abdb4"/><stop offset="0.840" stop-color="#06b4ce"/><stop offset="0.886" stop-color="#16acd7"/><stop offset="0.903" stop-color="#1fa4e0"/><stop offset="0.941" stop-color="#2499e7"/><stop offset="0.999" stop-color="#219ee4"/></linearGradient><linearGradient id="g108" x1="0" y1="0" x2="0" y2="1"><stop offset="0.001" stop-color="#2ec5a3"/><stop offset="0.201" stop-color="#28c3a8"/><stop offset="0.305" stop-color="#3ec895"/><stop offset="0.418" stop-color="#34c69e"/><stop offset="0.487" stop-color="#3bc798"/><stop offset="0.551" stop-color="#2dc4a4"/><stop offset="0.617" stop-color="#28c3a8"/><stop offset="0.669" stop-color="#38c79b"/><stop offset="0.701" stop-color="#37c79c"/><stop offset="0.738" stop-color="#23c1ad"/><stop offset="0.764" stop-color="#14bbbb"/><stop offset="0.816" stop-color="#08b3cf"/><stop offset="0.860" stop-color="#1da9db"/><stop offset="0.909" stop-color="#1fa5df"/><stop offset="0.944" stop-color="#17abd8"/><stop offset="0.981" stop-color="#21a0e3"/><stop offset="0.999" stop-color="#229de5"/></linearGradient><linearGradient id="g109" x1="0" y1="0" x2="0" y2="1"><stop offset="0.001" stop-color="#31c6a1"/><stop offset="0.117" stop-color="#28c2a9"/><stop offset="0.163" stop-color="#28c3a8"/><stop offset="0.244" stop-color="#3ec895"/><stop offset="0.389" stop-color="#3bc798"/><stop offset="0.493" stop-color="#43c990"/><stop offset="0.579" stop-color="#2bc4a6"/><stop offset="0.611" stop-color="#24c1ac"/><stop offset="0.686" stop-color="#3fc894"/><stop offset="0.721" stop-color="#35c69e"/><stop offset="0.756" stop-color="#12babd"/><stop offset="0.796" stop-color="#07b3cf"/><stop offset="0.848" stop-color="#1fa6dd"/><stop offset="0.958" stop-color="#229de5"/><stop offset="0.999" stop-color="#20a2e1"/></linearGradient><linearGradient id="g110" x1="0" y1="0" x2="0" y2="1"><stop offset="0.001" stop-color="#23c1ad"/><stop offset="0.140" stop-color="#2ec4a4"/><stop offset="0.192" stop-color="#23c1ad"/><stop offset="0.259" stop-color="#38c79b"/><stop offset="0.325" stop-color="#45c98f"/><stop offset="0.363" stop-color="#46c98d"/><stop offset="0.423" stop-color="#38c79a"/><stop offset="0.530" stop-color="#35c69e"/><stop offset="0.611" stop-color="#2bc3a6"/><stop offset="0.681" stop-color="#45c98f"/><stop offset="0.724" stop-color="#40c893"/><stop offset="0.750" stop-color="#25c1ab"/><stop offset="0.770" stop-color="#14bbba"/><stop offset="0.811" stop-color="#14bbbb"/><stop offset="0.837" stop-color="#0eb8c3"/><stop offset="0.848" stop-color="#06b4cd"/><stop offset="0.868" stop-color="#1fa6de"/><stop offset="0.935" stop-color="#347af8"/><stop offset="0.993" stop-color="#2f83f3"/><stop offset="0.999" stop-color="#2f83f3"/></linearGradient><linearGradient id="g111" x1="0" y1="0" x2="0" y2="1"><stop offset="0.001" stop-color="#23c1ad"/><stop offset="0.140" stop-color="#29c3a7"/><stop offset="0.204" stop-color="#25c1ab"/><stop offset="0.270" stop-color="#33c69f"/><stop offset="0.351" stop-color="#42c891"/><stop offset="0.403" stop-color="#38c79a"/><stop offset="0.487" stop-color="#3cc797"/><stop offset="0.588" stop-color="#2bc4a6"/><stop offset="0.626" stop-color="#37c79b"/><stop offset="0.669" stop-color="#42c891"/><stop offset="0.718" stop-color="#39c79a"/><stop offset="0.741" stop-color="#29c3a8"/><stop offset="0.767" stop-color="#14bbbb"/><stop offset="0.825" stop-color="#08b5cc"/><stop offset="0.831" stop-color="#09b3d0"/><stop offset="0.851" stop-color="#1fa6dd"/><stop offset="0.889" stop-color="#2499e7"/><stop offset="0.923" stop-color="#2c8dec"/><stop offset="0.949" stop-color="#3080f5"/><stop offset="0.996" stop-color="#2f85f2"/><stop offset="0.999" stop-color="#2f84f2"/></linearGradient><linearGradient id="g112" x1="0" y1="0" x2="0" y2="1"><stop offset="0.001" stop-color="#2bc3a6"/><stop offset="0.085" stop-color="#28c2a9"/><stop offset="0.218" stop-color="#2ec5a4"/><stop offset="0.262" stop-color="#28c2a9"/><stop offset="0.340" stop-color="#40c893"/><stop offset="0.409" stop-color="#37c79c"/><stop offset="0.481" stop-color="#3ec895"/><stop offset="0.591" stop-color="#26c2aa"/><stop offset="0.626" stop-color="#2bc4a6"/><stop offset="0.701" stop-color="#44c990"/><stop offset="0.727" stop-color="#3ec895"/><stop offset="0.764" stop-color="#1dbeb2"/><stop offset="0.819" stop-color="#09b6c9"/><stop offset="0.854" stop-color="#08b3cf"/><stop offset="0.892" stop-color="#1fa6dd"/><stop offset="0.923" stop-color="#2695e8"/><stop offset="0.949" stop-color="#2f83f3"/><stop offset="0.981" stop-color="#2b8eeb"/><stop offset="0.999" stop-color="#2794e9"/></linearGradient><linearGradient id="g113" x1="0" y1="0" x2="0" y2="1"><stop offset="0.001" stop-color="#39c799"/><stop offset="0.079" stop-color="#29c3a8"/><stop offset="0.137" stop-color="#33c69f"/><stop offset="0.189" stop-color="#39c79a"/><stop offset="0.227" stop-color="#35c79d"/><stop offset="0.264" stop-color="#2ec5a3"/><stop offset="0.331" stop-color="#40c893"/><stop offset="0.510" stop-color="#39c79a"/><stop offset="0.562" stop-color="#26c2aa"/><stop offset="0.620" stop-color="#25c1ab"/><stop offset="0.689" stop-color="#3fc894"/><stop offset="0.733" stop-color="#36c79c"/><stop offset="0.762" stop-color="#26c2aa"/><stop offset="0.793" stop-color="#23c1ac"/><stop offset="0.834" stop-color="#0db8c4"/><stop offset="0.866" stop-color="#08b3cf"/><stop offset="0.886" stop-color="#1fa5de"/><stop offset="0.923" stop-color="#2d89ee"/><stop offset="0.944" stop-color="#2d8aee"/><stop offset="0.978" stop-color="#1ba9da"/><stop offset="0.996" stop-color="#0eb0d2"/><stop offset="0.999" stop-color="#0eb0d2"/></linearGradient><linearGradient id="g114" x1="0" y1="0" x2="0" y2="1"><stop offset="0.001" stop-color="#38c79b"/><stop offset="0.059" stop-color="#37c79b"/><stop offset="0.105" stop-color="#2ac3a7"/><stop offset="0.238" stop-color="#34c69e"/><stop offset="0.331" stop-color="#3cc897"/><stop offset="0.421" stop-color="#3ac799"/><stop offset="0.490" stop-color="#41c892"/><stop offset="0.559" stop-color="#33c69f"/><stop offset="0.603" stop-color="#24c1ac"/><stop offset="0.692" stop-color="#40c893"/><stop offset="0.730" stop-color="#38c79a"/><stop offset="0.764" stop-color="#1dbfb2"/><stop offset="0.811" stop-color="#17bcb7"/><stop offset="0.842" stop-color="#07b3cf"/><stop offset="0.880" stop-color="#1ea8dc"/><stop offset="0.935" stop-color="#1fa4e0"/><stop offset="0.961" stop-color="#1baada"/><stop offset="0.987" stop-color="#12aed5"/><stop offset="0.999" stop-color="#13add6"/></linearGradient><linearGradient id="g115" x1="0" y1="0" x2="0" y2="1"><stop offset="0.001" stop-color="#2bc3a6"/><stop offset="0.077" stop-color="#35c69d"/><stop offset="0.270" stop-color="#30c5a2"/><stop offset="0.368" stop-color="#3dc896"/><stop offset="0.470" stop-color="#3cc897"/><stop offset="0.548" stop-color="#33c69f"/><stop offset="0.608" stop-color="#21c0af"/><stop offset="0.681" stop-color="#41c893"/><stop offset="0.724" stop-color="#32c6a0"/><stop offset="0.759" stop-color="#15bcb9"/><stop offset="0.811" stop-color="#17bcb7"/><stop offset="0.831" stop-color="#09b5ca"/><stop offset="0.834" stop-color="#06b4ce"/><stop offset="0.848" stop-color="#1ea8dc"/><stop offset="0.880" stop-color="#239ae7"/><stop offset="0.941" stop-color="#2893ea"/><stop offset="0.999" stop-color="#2794e9"/></linearGradient><linearGradient id="g116" x1="0" y1="0" x2="0" y2="1"><stop offset="0.001" stop-color="#2cc4a5"/><stop offset="0.039" stop-color="#31c6a1"/><stop offset="0.082" stop-color="#3dc896"/><stop offset="0.158" stop-color="#31c6a1"/><stop offset="0.276" stop-color="#38c79a"/><stop offset="0.374" stop-color="#39c799"/><stop offset="0.447" stop-color="#3bc798"/><stop offset="0.527" stop-color="#30c5a2"/><stop offset="0.574" stop-color="#21c0ae"/><stop offset="0.623" stop-color="#22c0ae"/><stop offset="0.689" stop-color="#3ec895"/><stop offset="0.727" stop-color="#30c5a2"/><stop offset="0.756" stop-color="#13bbbc"/><stop offset="0.785" stop-color="#12babd"/><stop offset="0.816" stop-color="#11b9bf"/><stop offset="0.837" stop-color="#06b4ce"/><stop offset="0.860" stop-color="#1fa6dd"/><stop offset="0.918" stop-color="#2e87f0"/><stop offset="0.947" stop-color="#2c8dec"/><stop offset="0.981" stop-color="#249ae7"/><stop offset="0.999" stop-color="#2597e8"/></linearGradient><linearGradient id="g117" x1="0" y1="0" x2="0" y2="1"><stop offset="0.001" stop-color="#2dc4a4"/><stop offset="0.100" stop-color="#2ec5a3"/><stop offset="0.155" stop-color="#32c6a0"/><stop offset="0.230" stop-color="#33c69f"/><stop offset="0.276" stop-color="#3bc797"/><stop offset="0.400" stop-color="#31c6a1"/><stop offset="0.455" stop-color="#3bc798"/><stop offset="0.536" stop-color="#2cc4a5"/><stop offset="0.591" stop-color="#22c0ad"/><stop offset="0.692" stop-color="#38c79b"/><stop offset="0.730" stop-color="#28c3a8"/><stop offset="0.753" stop-color="#10b9c1"/><stop offset="0.773" stop-color="#09b6c9"/><stop offset="0.825" stop-color="#18bdb7"/><stop offset="0.845" stop-color="#10b9c0"/><stop offset="0.857" stop-color="#07b4cd"/><stop offset="0.874" stop-color="#1ea7dd"/><stop offset="0.921" stop-color="#2f83f3"/><stop offset="0.949" stop-color="#2d89ef"/><stop offset="0.999" stop-color="#2498e7"/></linearGradient><linearGradient id="g118" x1="0" y1="0" x2="0" y2="1"><stop offset="0.001" stop-color="#2ec5a3"/><stop offset="0.097" stop-color="#30c5a2"/><stop offset="0.140" stop-color="#33c69f"/><stop offset="0.186" stop-color="#29c3a7"/><stop offset="0.253" stop-color="#35c69d"/><stop offset="0.354" stop-color="#40c893"/><stop offset="0.426" stop-color="#34c69e"/><stop offset="0.484" stop-color="#3ac798"/><stop offset="0.568" stop-color="#25c2ab"/><stop offset="0.617" stop-color="#29c3a8"/><stop offset="0.681" stop-color="#46c98d"/><stop offset="0.707" stop-color="#3cc897"/><stop offset="0.738" stop-color="#1fbfb1"/><stop offset="0.762" stop-color="#0cb7c6"/><stop offset="0.790" stop-color="#07b4cd"/><stop offset="0.822" stop-color="#09b5ca"/><stop offset="0.834" stop-color="#09b2d0"/><stop offset="0.854" stop-color="#1fa6de"/><stop offset="0.892" stop-color="#2892ea"/><stop offset="0.944" stop-color="#317ef7"/><stop offset="0.975" stop-color="#2c8cec"/><stop offset="0.999" stop-color="#239ae7"/></linearGradient><linearGradient id="g119" x1="0" y1="0" x2="0" y2="1"><stop offset="0.001" stop-color="#37c79b"/><stop offset="0.082" stop-color="#2fc5a3"/><stop offset="0.143" stop-color="#30c5a2"/><stop offset="0.195" stop-color="#2dc4a4"/><stop offset="0.244" stop-color="#33c69f"/><stop offset="0.282" stop-color="#36c79c"/><stop offset="0.334" stop-color="#46c98e"/><stop offset="0.371" stop-color="#3dc896"/><stop offset="0.406" stop-color="#33c69f"/><stop offset="0.501" stop-color="#37c79c"/><stop offset="0.556" stop-color="#2ac3a7"/><stop offset="0.637" stop-color="#3bc798"/><stop offset="0.695" stop-color="#45c98e"/><stop offset="0.727" stop-color="#35c69e"/><stop offset="0.756" stop-color="#12babd"/><stop offset="0.782" stop-color="#07b4ce"/><stop offset="0.811" stop-color="#0bb1d1"/><stop offset="0.845" stop-color="#0db0d2"/><stop offset="0.874" stop-color="#1fa6de"/><stop offset="0.941" stop-color="#2893e9"/><stop offset="0.990" stop-color="#19abd9"/><stop offset="0.999" stop-color="#18abd8"/></linearGradient><linearGradient id="g120" x1="0" y1="0" x2="0" y2="1"><stop offset="0.001" stop-color="#36c79c"/><stop offset="0.059" stop-color="#31c6a1"/><stop offset="0.129" stop-color="#34c69e"/><stop offset="0.192" stop-color="#2cc4a5"/><stop offset="0.360" stop-color="#39c79a"/><stop offset="0.421" stop-color="#3bc798"/><stop offset="0.496" stop-color="#40c893"/><stop offset="0.539" stop-color="#30c5a2"/><stop offset="0.585" stop-color="#24c1ac"/><stop offset="0.620" stop-color="#25c1ac"/><stop offset="0.672" stop-color="#3ac798"/><stop offset="0.704" stop-color="#36c79c"/><stop offset="0.733" stop-color="#22c0ae"/><stop offset="0.753" stop-color="#11b9bf"/><stop offset="0.782" stop-color="#11b9bf"/><stop offset="0.811" stop-color="#0eb8c3"/><stop offset="0.825" stop-color="#07b4cf"/><stop offset="0.854" stop-color="#1da8dc"/><stop offset="0.912" stop-color="#21a0e2"/><stop offset="0.949" stop-color="#2d89ef"/><stop offset="0.970" stop-color="#2794e9"/><stop offset="0.999" stop-color="#1da8dc"/></linearGradient><linearGradient id="g121" x1="0" y1="0" x2="0" y2="1"><stop offset="0.001" stop-color="#2cc4a5"/><stop offset="0.097" stop-color="#34c69e"/><stop offset="0.143" stop-color="#31c6a1"/><stop offset="0.192" stop-color="#38c79b"/><stop offset="0.241" stop-color="#32c6a0"/><stop offset="0.351" stop-color="#36c79c"/><stop offset="0.438" stop-color="#38c79a"/><stop offset="0.499" stop-color="#3ec895"/><stop offset="0.588" stop-color="#21c0ae"/><stop offset="0.629" stop-color="#26c2ab"/><stop offset="0.689" stop-color="#3fc894"/><stop offset="0.721" stop-color="#36c79c"/><stop offset="0.753" stop-color="#15bbba"/><stop offset="0.776" stop-color="#12babd"/><stop offset="0.814" stop-color="#1cbeb3"/><stop offset="0.857" stop-color="#06b4ce"/><stop offset="0.897" stop-color="#1fa4df"/><stop offset="0.964" stop-color="#2d89ee"/><stop offset="0.996" stop-color="#2893e9"/><stop offset="0.999" stop-color="#2794e9"/></linearGradient><linearGradient id="g122" x1="0" y1="0" x2="0" y2="1"><stop offset="0.001" stop-color="#22c0ae"/><stop offset="0.062" stop-color="#2ac3a7"/><stop offset="0.172" stop-color="#2ec5a3"/><stop offset="0.236" stop-color="#2fc5a3"/><stop offset="0.325" stop-color="#3bc797"/><stop offset="0.527" stop-color="#35c69d"/><stop offset="0.577" stop-color="#27c2aa"/><stop offset="0.620" stop-color="#29c3a8"/><stop offset="0.672" stop-color="#3ac798"/><stop offset="0.724" stop-color="#3cc797"/><stop offset="0.744" stop-color="#27c2aa"/><stop offset="0.762" stop-color="#13babd"/><stop offset="0.805" stop-color="#07b4ce"/><stop offset="0.854" stop-color="#18abd8"/><stop offset="0.874" stop-color="#1fa4df"/><stop offset="0.915" stop-color="#20a2e1"/><stop offset="0.947" stop-color="#21a0e3"/><stop offset="0.993" stop-color="#317ef6"/><stop offset="0.999" stop-color="#317ef7"/></linearGradient><linearGradient id="g123" x1="0" y1="0" x2="0" y2="1"><stop offset="0.001" stop-color="#23c1ad"/><stop offset="0.117" stop-color="#2ac3a6"/><stop offset="0.181" stop-color="#38c79a"/><stop offset="0.247" stop-color="#32c6a0"/><stop offset="0.296" stop-color="#3ac798"/><stop offset="0.351" stop-color="#39c799"/><stop offset="0.423" stop-color="#3cc897"/><stop offset="0.533" stop-color="#2ec4a4"/><stop offset="0.600" stop-color="#2cc4a5"/><stop offset="0.721" stop-color="#3ac799"/><stop offset="0.741" stop-color="#2bc4a6"/><stop offset="0.764" stop-color="#13babc"/><stop offset="0.788" stop-color="#06b4ce"/><stop offset="0.828" stop-color="#1fa5de"/><stop offset="0.874" stop-color="#2c8dec"/><stop offset="0.903" stop-color="#2499e7"/><stop offset="0.941" stop-color="#1ea7dd"/><stop offset="0.970" stop-color="#219fe3"/><stop offset="0.999" stop-color="#3082f3"/></linearGradient><linearGradient id="g124" x1="0" y1="0" x2="0" y2="1"><stop offset="0.001" stop-color="#29c3a8"/><stop offset="0.129" stop-color="#37c79b"/><stop offset="0.259" stop-color="#2fc5a3"/><stop offset="0.360" stop-color="#43c990"/><stop offset="0.421" stop-color="#3fc894"/><stop offset="0.478" stop-color="#3dc896"/><stop offset="0.617" stop-color="#2dc4a4"/><stop offset="0.695" stop-color="#42c991"/><stop offset="0.730" stop-color="#39c79a"/><stop offset="0.770" stop-color="#15bcb9"/><stop offset="0.814" stop-color="#08b3cf"/><stop offset="0.837" stop-color="#1fa5de"/><stop offset="0.866" stop-color="#2b8eeb"/><stop offset="0.975" stop-color="#239ae7"/><stop offset="0.999" stop-color="#2a8feb"/></linearGradient><linearGradient id="g125" x1="0" y1="0" x2="0" y2="1"><stop offset="0.001" stop-color="#36c79c"/><stop offset="0.077" stop-color="#36c79c"/><stop offset="0.198" stop-color="#32c6a0"/><stop offset="0.262" stop-color="#31c6a1"/><stop offset="0.342" stop-color="#3fc894"/><stop offset="0.429" stop-color="#39c79a"/><stop offset="0.559" stop-color="#31c6a1"/><stop offset="0.629" stop-color="#2cc4a5"/><stop offset="0.698" stop-color="#42c891"/><stop offset="0.730" stop-color="#3ec894"/><stop offset="0.770" stop-color="#19bdb5"/><stop offset="0.822" stop-color="#06b4ce"/><stop offset="0.845" stop-color="#1fa5de"/><stop offset="0.880" stop-color="#2794e9"/><stop offset="0.912" stop-color="#2695e9"/><stop offset="0.970" stop-color="#18abd8"/><stop offset="0.999" stop-color="#1ca9db"/></linearGradient><linearGradient id="g126" x1="0" y1="0" x2="0" y2="1"><stop offset="0.001" stop-color="#2ac3a7"/><stop offset="0.137" stop-color="#39c799"/><stop offset="0.186" stop-color="#2ec5a4"/><stop offset="0.244" stop-color="#39c79a"/><stop offset="0.290" stop-color="#37c79b"/><stop offset="0.340" stop-color="#44c98f"/><stop offset="0.478" stop-color="#3ac798"/><stop offset="0.519" stop-color="#38c79a"/><stop offset="0.574" stop-color="#31c6a1"/><stop offset="0.652" stop-color="#2cc4a5"/><stop offset="0.710" stop-color="#41c892"/><stop offset="0.730" stop-color="#39c79a"/><stop offset="0.759" stop-color="#19bdb5"/><stop offset="0.811" stop-color="#19bdb6"/><stop offset="0.848" stop-color="#07b4cf"/><stop offset="0.871" stop-color="#1fa5de"/><stop offset="0.903" stop-color="#2794e9"/><stop offset="0.952" stop-color="#239be6"/><stop offset="0.996" stop-color="#2a8feb"/><stop offset="0.999" stop-color="#2a8feb"/></linearGradient><linearGradient id="g127" x1="0" y1="0" x2="0" y2="1"><stop offset="0.001" stop-color="#2dc4a5"/><stop offset="0.048" stop-color="#31c6a1"/><stop offset="0.088" stop-color="#30c5a2"/><stop offset="0.132" stop-color="#32c6a0"/><stop offset="0.186" stop-color="#2dc4a4"/><stop offset="0.241" stop-color="#3ec895"/><stop offset="0.296" stop-color="#39c799"/><stop offset="0.354" stop-color="#3dc896"/><stop offset="0.481" stop-color="#36c79d"/><stop offset="0.562" stop-color="#2ec5a3"/><stop offset="0.620" stop-color="#27c2aa"/><stop offset="0.704" stop-color="#43c991"/><stop offset="0.727" stop-color="#3dc896"/><stop offset="0.762" stop-color="#1abdb4"/><stop offset="0.816" stop-color="#08b5cb"/><stop offset="0.828" stop-color="#0bb1d1"/><stop offset="0.860" stop-color="#1fa6de"/><stop offset="0.897" stop-color="#21a0e3"/><stop offset="0.921" stop-color="#1baada"/><stop offset="0.935" stop-color="#17acd8"/><stop offset="0.978" stop-color="#2991ea"/><stop offset="0.999" stop-color="#2794e9"/></linearGradient><linearGradient id="g128" x1="0" y1="0" x2="0" y2="1"><stop offset="0.001" stop-color="#2dc4a4"/><stop offset="0.149" stop-color="#32c6a0"/><stop offset="0.212" stop-color="#36c79c"/><stop offset="0.259" stop-color="#3dc896"/><stop offset="0.322" stop-color="#3bc797"/><stop offset="0.481" stop-color="#3ac799"/><stop offset="0.562" stop-color="#2fc5a3"/><stop offset="0.614" stop-color="#26c2aa"/><stop offset="0.681" stop-color="#40c893"/><stop offset="0.724" stop-color="#37c79c"/><stop offset="0.759" stop-color="#16bcb8"/><stop offset="0.802" stop-color="#16bcb8"/><stop offset="0.828" stop-color="#08b3cf"/><stop offset="0.845" stop-color="#1ea7dd"/><stop offset="0.880" stop-color="#2499e7"/><stop offset="0.938" stop-color="#1fa5de"/><stop offset="0.987" stop-color="#2794e9"/><stop offset="0.999" stop-color="#2696e8"/></linearGradient><linearGradient id="g129" x1="0" y1="0" x2="0" y2="1"><stop offset="0.001" stop-color="#2ec5a3"/><stop offset="0.074" stop-color="#2bc3a6"/><stop offset="0.348" stop-color="#3ac799"/><stop offset="0.444" stop-color="#3bc798"/><stop offset="0.527" stop-color="#35c69d"/><stop offset="0.608" stop-color="#26c2aa"/><stop offset="0.666" stop-color="#44c990"/><stop offset="0.701" stop-color="#3ec895"/><stop offset="0.733" stop-color="#2dc4a5"/><stop offset="0.759" stop-color="#13bbbc"/><stop offset="0.782" stop-color="#13babc"/><stop offset="0.814" stop-color="#24c1ac"/><stop offset="0.828" stop-color="#1abeb4"/><stop offset="0.845" stop-color="#08b3cf"/><stop offset="0.854" stop-color="#1ca9db"/><stop offset="0.883" stop-color="#2f85f1"/><stop offset="0.903" stop-color="#317ff6"/><stop offset="0.955" stop-color="#229be6"/><stop offset="0.999" stop-color="#2499e7"/></linearGradient><linearGradient id="g130" x1="0" y1="0" x2="0" y2="1"><stop offset="0.001" stop-color="#2ec5a3"/><stop offset="0.169" stop-color="#2fc5a3"/><stop offset="0.241" stop-color="#37c79b"/><stop offset="0.342" stop-color="#3ec895"/><stop offset="0.395" stop-color="#37c79b"/><stop offset="0.553" stop-color="#36c79c"/><stop offset="0.600" stop-color="#25c1ab"/><stop offset="0.623" stop-color="#21c0ae"/><stop offset="0.678" stop-color="#3ac798"/><stop offset="0.747" stop-color="#2dc4a4"/><stop offset="0.825" stop-color="#13bbbc"/><stop offset="0.857" stop-color="#08b3cf"/><stop offset="0.874" stop-color="#1fa6de"/><stop offset="0.912" stop-color="#2d88ef"/><stop offset="0.952" stop-color="#317ff6"/><stop offset="0.999" stop-color="#2597e8"/></linearGradient><linearGradient id="g131" x1="0" y1="0" x2="0" y2="1"><stop offset="0.001" stop-color="#2ac3a7"/><stop offset="0.048" stop-color="#25c1ab"/><stop offset="0.105" stop-color="#2fc5a3"/><stop offset="0.163" stop-color="#2bc3a6"/><stop offset="0.230" stop-color="#3ac799"/><stop offset="0.447" stop-color="#3dc896"/><stop offset="0.525" stop-color="#36c79c"/><stop offset="0.597" stop-color="#25c1ab"/><stop offset="0.623" stop-color="#23c1ac"/><stop offset="0.686" stop-color="#3cc897"/><stop offset="0.727" stop-color="#30c5a1"/><stop offset="0.762" stop-color="#15bcb9"/><stop offset="0.805" stop-color="#11babe"/><stop offset="0.842" stop-color="#07b3cf"/><stop offset="0.871" stop-color="#18abd8"/><stop offset="0.889" stop-color="#1fa4df"/><stop offset="0.975" stop-color="#229be6"/><stop offset="0.999" stop-color="#2a8feb"/></linearGradient><linearGradient id="g132" x1="0" y1="0" x2="0" y2="1"><stop offset="0.001" stop-color="#29c3a8"/><stop offset="0.051" stop-color="#27c2a9"/><stop offset="0.100" stop-color="#31c6a1"/><stop offset="0.227" stop-color="#35c69d"/><stop offset="0.325" stop-color="#3fc894"/><stop offset="0.473" stop-color="#34c69e"/><stop offset="0.574" stop-color="#33c69f"/><stop offset="0.614" stop-color="#21c0af"/><stop offset="0.675" stop-color="#3ac799"/><stop offset="0.736" stop-color="#2dc4a5"/><stop offset="0.767" stop-color="#1abdb5"/><stop offset="0.808" stop-color="#0db8c4"/><stop offset="0.828" stop-color="#08b3cf"/><stop offset="0.877" stop-color="#1fa5df"/><stop offset="0.918" stop-color="#229de5"/><stop offset="0.961" stop-color="#2597e8"/><stop offset="0.999" stop-color="#2c8cec"/></linearGradient><linearGradient id="g133" x1="0" y1="0" x2="0" y2="1"><stop offset="0.001" stop-color="#39c79a"/><stop offset="0.123" stop-color="#30c5a2"/><stop offset="0.189" stop-color="#3cc797"/><stop offset="0.299" stop-color="#3cc897"/><stop offset="0.357" stop-color="#3cc797"/><stop offset="0.409" stop-color="#38c79b"/><stop offset="0.449" stop-color="#3ac798"/><stop offset="0.490" stop-color="#33c69f"/><stop offset="0.542" stop-color="#3ac799"/><stop offset="0.597" stop-color="#29c3a7"/><stop offset="0.623" stop-color="#26c2ab"/><stop offset="0.675" stop-color="#3cc896"/><stop offset="0.733" stop-color="#32c6a0"/><stop offset="0.762" stop-color="#22c0ae"/><stop offset="0.805" stop-color="#19bdb6"/><stop offset="0.857" stop-color="#08b3cf"/><stop offset="0.883" stop-color="#1fa6de"/><stop offset="0.923" stop-color="#2696e8"/><stop offset="0.964" stop-color="#219ee4"/><stop offset="0.996" stop-color="#19abd9"/><stop offset="0.999" stop-color="#17abd8"/></linearGradient><linearGradient id="g134" x1="0" y1="0" x2="0" y2="1"><stop offset="0.001" stop-color="#31c6a1"/><stop offset="0.091" stop-color="#31c6a1"/><stop offset="0.178" stop-color="#37c79b"/><stop offset="0.285" stop-color="#3ac798"/><stop offset="0.366" stop-color="#3fc894"/><stop offset="0.441" stop-color="#3bc798"/><stop offset="0.484" stop-color="#35c79d"/><stop offset="0.562" stop-color="#2ec5a3"/><stop offset="0.617" stop-color="#27c2aa"/><stop offset="0.684" stop-color="#3bc797"/><stop offset="0.738" stop-color="#2cc4a6"/><stop offset="0.770" stop-color="#1cbeb3"/><stop offset="0.825" stop-color="#18bdb6"/><stop offset="0.845" stop-color="#0bb6c8"/><stop offset="0.851" stop-color="#09b3d0"/><stop offset="0.863" stop-color="#1ea7dd"/><stop offset="0.886" stop-color="#2a90eb"/><stop offset="0.909" stop-color="#2b8eeb"/><stop offset="0.941" stop-color="#2794e9"/><stop offset="0.975" stop-color="#2b8eeb"/><stop offset="0.999" stop-color="#229ce6"/></linearGradient><linearGradient id="g135" x1="0" y1="0" x2="0" y2="1"><stop offset="0.001" stop-color="#30c5a2"/><stop offset="0.059" stop-color="#38c79b"/><stop offset="0.111" stop-color="#2dc4a5"/><stop offset="0.186" stop-color="#31c6a1"/><stop offset="0.293" stop-color="#36c79c"/><stop offset="0.348" stop-color="#45c98e"/><stop offset="0.464" stop-color="#38c79b"/><stop offset="0.522" stop-color="#36c79c"/><stop offset="0.614" stop-color="#1fbfb0"/><stop offset="0.678" stop-color="#36c79c"/><stop offset="0.759" stop-color="#1abdb5"/><stop offset="0.793" stop-color="#17bcb7"/><stop offset="0.828" stop-color="#09b5ca"/><stop offset="0.837" stop-color="#0bb2d1"/><stop offset="0.857" stop-color="#1fa6de"/><stop offset="0.915" stop-color="#2a8feb"/><stop offset="0.947" stop-color="#2b8dec"/><stop offset="0.999" stop-color="#239be6"/></linearGradient><linearGradient id="g136" x1="0" y1="0" x2="0" y2="1"><stop offset="0.001" stop-color="#31c6a1"/><stop offset="0.094" stop-color="#32c6a0"/><stop offset="0.204" stop-color="#2ec5a4"/><stop offset="0.337" stop-color="#40c893"/><stop offset="0.426" stop-color="#41c892"/><stop offset="0.473" stop-color="#35c69d"/><stop offset="0.527" stop-color="#35c69d"/><stop offset="0.582" stop-color="#2ec5a4"/><stop offset="0.640" stop-color="#28c3a8"/><stop offset="0.692" stop-color="#3bc798"/><stop offset="0.721" stop-color="#2cc4a5"/><stop offset="0.750" stop-color="#13bbbc"/><stop offset="0.825" stop-color="#0cb7c6"/><stop offset="0.837" stop-color="#06b4ce"/><stop offset="0.857" stop-color="#1ea7dd"/><stop offset="0.889" stop-color="#219ee4"/><stop offset="0.964" stop-color="#239be7"/><stop offset="0.999" stop-color="#229de5"/></linearGradient><linearGradient id="g137" x1="0" y1="0" x2="0" y2="1"><stop offset="0.001" stop-color="#33c69f"/><stop offset="0.048" stop-color="#29c3a8"/><stop offset="0.097" stop-color="#30c5a1"/><stop offset="0.160" stop-color="#31c6a1"/><stop offset="0.218" stop-color="#37c79c"/><stop offset="0.285" stop-color="#3ac799"/><stop offset="0.395" stop-color="#35c69d"/><stop offset="0.452" stop-color="#37c79b"/><stop offset="0.525" stop-color="#39c79a"/><stop offset="0.626" stop-color="#26c2aa"/><stop offset="0.663" stop-color="#37c79b"/><stop offset="0.695" stop-color="#45c98e"/><stop offset="0.721" stop-color="#3ac798"/><stop offset="0.756" stop-color="#14bbbb"/><stop offset="0.785" stop-color="#10b9c0"/><stop offset="0.822" stop-color="#15bbba"/><stop offset="0.842" stop-color="#09b5ca"/><stop offset="0.845" stop-color="#07b4ce"/><stop offset="0.860" stop-color="#1ea7dd"/><stop offset="0.886" stop-color="#2598e8"/><stop offset="0.949" stop-color="#1fa4df"/><stop offset="0.999" stop-color="#20a1e2"/></linearGradient><linearGradient id="g138" x1="0" y1="0" x2="0" y2="1"><stop offset="0.001" stop-color="#33c69f"/><stop offset="0.088" stop-color="#32c6a0"/><stop offset="0.134" stop-color="#2bc3a6"/><stop offset="0.212" stop-color="#36c79c"/><stop offset="0.279" stop-color="#36c79c"/><stop offset="0.319" stop-color="#33c69f"/><stop offset="0.452" stop-color="#3fc894"/><stop offset="0.519" stop-color="#3bc798"/><stop offset="0.565" stop-color="#27c2a9"/><stop offset="0.632" stop-color="#36c79c"/><stop offset="0.707" stop-color="#4aca8a"/><stop offset="0.727" stop-color="#40c893"/><stop offset="0.756" stop-color="#11babe"/><stop offset="0.776" stop-color="#09b5cb"/><stop offset="0.825" stop-color="#10b9c0"/><stop offset="0.848" stop-color="#08b3cf"/><stop offset="0.866" stop-color="#1ea7dd"/><stop offset="0.900" stop-color="#2892ea"/><stop offset="0.932" stop-color="#2597e8"/><stop offset="0.990" stop-color="#21a0e3"/><stop offset="0.999" stop-color="#21a0e3"/></linearGradient></defs><g clip-path="url(#hc)"><rect x="70" y="53" width="3" height="346" fill="url(#g0)"/><rect x="73" y="53" width="3" height="346" fill="url(#g1)"/><rect x="76" y="53" width="3" height="346" fill="url(#g2)"/><rect x="79" y="53" width="3" height="346" fill="url(#g3)"/><rect x="82" y="53" width="3" height="346" fill="url(#g4)"/><rect x="85" y="53" width="3" height="346" fill="url(#g5)"/><rect x="88" y="53" width="3" height="346" fill="url(#g6)"/><rect x="91" y="53" width="3" height="346" fill="url(#g7)"/><rect x="94" y="53" width="3" height="346" fill="url(#g8)"/><rect x="97" y="53" width="3" height="346" fill="url(#g9)"/><rect x="100" y="53" width="3" height="346" fill="url(#g10)"/><rect x="103" y="53" width="3" height="346" fill="url(#g11)"/><rect x="106" y="53" width="3" height="346" fill="url(#g12)"/><rect x="109" y="53" width="3" height="346" fill="url(#g13)"/><rect x="112" y="53" width="3" height="346" fill="url(#g14)"/><rect x="115" y="53" width="3" height="346" fill="url(#g15)"/><rect x="118" y="53" width="3" height="346" fill="url(#g16)"/><rect x="121" y="53" width="3" height="346" fill="url(#g17)"/><rect x="124" y="53" width="3" height="346" fill="url(#g18)"/><rect x="127" y="53" width="3" height="346" fill="url(#g19)"/><rect x="130" y="53" width="3" height="346" fill="url(#g20)"/><rect x="133" y="53" width="3" height="346" fill="url(#g21)"/><rect x="136" y="53" width="3" height="346" fill="url(#g22)"/><rect x="139" y="53" width="3" height="346" fill="url(#g23)"/><rect x="142" y="53" width="3" height="346" fill="url(#g24)"/><rect x="145" y="53" width="3" height="346" fill="url(#g25)"/><rect x="148" y="53" width="3" height="346" fill="url(#g26)"/><rect x="151" y="53" width="3" height="346" fill="url(#g27)"/><rect x="154" y="53" width="3" height="346" fill="url(#g28)"/><rect x="157" y="53" width="3" height="346" fill="url(#g29)"/><rect x="160" y="53" width="3" height="346" fill="url(#g30)"/><rect x="163" y="53" width="3" height="346" fill="url(#g31)"/><rect x="166" y="53" width="3" height="346" fill="url(#g32)"/><rect x="169" y="53" width="3" height="346" fill="url(#g33)"/><rect x="172" y="53" width="3" height="346" fill="url(#g34)"/><rect x="175" y="53" width="3" height="346" fill="url(#g35)"/><rect x="178" y="53" width="3" height="346" fill="url(#g36)"/><rect x="181" y="53" width="3" height="346" fill="url(#g37)"/><rect x="184" y="53" width="3" height="346" fill="url(#g38)"/><rect x="187" y="53" width="3" height="346" fill="url(#g39)"/><rect x="190" y="53" width="3" height="346" fill="url(#g40)"/><rect x="193" y="53" width="3" height="346" fill="url(#g41)"/><rect x="196" y="53" width="3" height="346" fill="url(#g42)"/><rect x="199" y="53" width="3" height="346" fill="url(#g43)"/><rect x="202" y="53" width="3" height="346" fill="url(#g44)"/><rect x="205" y="53" width="3" height="346" fill="url(#g45)"/><rect x="208" y="53" width="3" height="346" fill="url(#g46)"/><rect x="211" y="53" width="3" height="346" fill="url(#g47)"/><rect x="214" y="53" width="3" height="346" fill="url(#g48)"/><rect x="217" y="53" width="3" height="346" fill="url(#g49)"/><rect x="220" y="53" width="3" height="346" fill="url(#g50)"/><rect x="223" y="53" width="3" height="346" fill="url(#g51)"/><rect x="226" y="53" width="3" height="346" fill="url(#g52)"/><rect x="229" y="53" width="3" height="346" fill="url(#g53)"/><rect x="232" y="53" width="3" height="346" fill="url(#g54)"/><rect x="235" y="53" width="3" height="346" fill="url(#g55)"/><rect x="238" y="53" width="3" height="346" fill="url(#g56)"/><rect x="241" y="53" width="3" height="346" fill="url(#g57)"/><rect x="244" y="53" width="3" height="346" fill="url(#g58)"/><rect x="247" y="53" width="3" height="346" fill="url(#g59)"/><rect x="250" y="53" width="3" height="346" fill="url(#g60)"/><rect x="253" y="53" width="3" height="346" fill="url(#g61)"/><rect x="256" y="53" width="3" height="346" fill="url(#g62)"/><rect x="259" y="53" width="3" height="346" fill="url(#g63)"/><rect x="262" y="53" width="3" height="346" fill="url(#g64)"/><rect x="265" y="53" width="3" height="346" fill="url(#g65)"/><rect x="268" y="53" width="3" height="346" fill="url(#g66)"/><rect x="271" y="53" width="3" height="346" fill="url(#g67)"/><rect x="274" y="53" width="3" height="346" fill="url(#g68)"/><rect x="277" y="53" width="3" height="346" fill="url(#g69)"/><rect x="280" y="53" width="3" height="346" fill="url(#g70)"/><rect x="283" y="53" width="3" height="346" fill="url(#g71)"/><rect x="286" y="53" width="3" height="346" fill="url(#g72)"/><rect x="289" y="53" width="3" height="346" fill="url(#g73)"/><rect x="292" y="53" width="3" height="346" fill="url(#g74)"/><rect x="295" y="53" width="3" height="346" fill="url(#g75)"/><rect x="298" y="53" width="3" height="346" fill="url(#g76)"/><rect x="301" y="53" width="3" height="346" fill="url(#g77)"/><rect x="304" y="53" width="3" height="346" fill="url(#g78)"/><rect x="307" y="53" width="3" height="346" fill="url(#g79)"/><rect x="310" y="53" width="3" height="346" fill="url(#g80)"/><rect x="313" y="53" width="3" height="346" fill="url(#g81)"/><rect x="316" y="53" width="3" height="346" fill="url(#g82)"/><rect x="319" y="53" width="3" height="346" fill="url(#g83)"/><rect x="322" y="53" width="3" height="346" fill="url(#g84)"/><rect x="325" y="53" width="3" height="346" fill="url(#g85)"/><rect x="328" y="53" width="3" height="346" fill="url(#g86)"/><rect x="331" y="53" width="3" height="346" fill="url(#g87)"/><rect x="334" y="53" width="3" height="346" fill="url(#g88)"/><rect x="337" y="53" width="3" height="346" fill="url(#g89)"/><rect x="340" y="53" width="3" height="346" fill="url(#g90)"/><rect x="343" y="53" width="3" height="346" fill="url(#g91)"/><rect x="346" y="53" width="3" height="346" fill="url(#g92)"/><rect x="349" y="53" width="3" height="346" fill="url(#g93)"/><rect x="352" y="53" width="3" height="346" fill="url(#g94)"/><rect x="355" y="53" width="3" height="346" fill="url(#g95)"/><rect x="358" y="53" width="3" height="346" fill="url(#g96)"/><rect x="361" y="53" width="3" height="346" fill="url(#g97)"/><rect x="364" y="53" width="3" height="346" fill="url(#g98)"/><rect x="367" y="53" width="3" height="346" fill="url(#g99)"/><rect x="370" y="53" width="3" height="346" fill="url(#g100)"/><rect x="373" y="53" width="3" height="346" fill="url(#g101)"/><rect x="376" y="53" width="3" height="346" fill="url(#g102)"/><rect x="379" y="53" width="3" height="346" fill="url(#g103)"/><rect x="382" y="53" width="3" height="346" fill="url(#g104)"/><rect x="385" y="53" width="3" height="346" fill="url(#g105)"/><rect x="388" y="53" width="3" height="346" fill="url(#g106)"/><rect x="391" y="53" width="3" height="346" fill="url(#g107)"/><rect x="394" y="53" width="3" height="346" fill="url(#g108)"/><rect x="397" y="53" width="3" height="346" fill="url(#g109)"/><rect x="400" y="53" width="3" height="346" fill="url(#g110)"/><rect x="403" y="53" width="3" height="346" fill="url(#g111)"/><rect x="406" y="53" width="3" height="346" fill="url(#g112)"/><rect x="409" y="53" width="3" height="346" fill="url(#g113)"/><rect x="412" y="53" width="3" height="346" fill="url(#g114)"/><rect x="415" y="53" width="3" height="346" fill="url(#g115)"/><rect x="418" y="53" width="3" height="346" fill="url(#g116)"/><rect x="421" y="53" width="3" height="346" fill="url(#g117)"/><rect x="424" y="53" width="3" height="346" fill="url(#g118)"/><rect x="427" y="53" width="3" height="346" fill="url(#g119)"/><rect x="430" y="53" width="3" height="346" fill="url(#g120)"/><rect x="433" y="53" width="3" height="346" fill="url(#g121)"/><rect x="436" y="53" width="3" height="346" fill="url(#g122)"/><rect x="439" y="53" width="3" height="346" fill="url(#g123)"/><rect x="442" y="53" width="3" height="346" fill="url(#g124)"/><rect x="445" y="53" width="3" height="346" fill="url(#g125)"/><rect x="448" y="53" width="3" height="346" fill="url(#g126)"/><rect x="451" y="53" width="3" height="346" fill="url(#g127)"/><rect x="454" y="53" width="3" height="346" fill="url(#g128)"/><rect x="457" y="53" width="3" height="346" fill="url(#g129)"/><rect x="460" y="53" width="3" height="346" fill="url(#g130)"/><rect x="463" y="53" width="3" height="346" fill="url(#g131)"/><rect x="466" y="53" width="3" height="346" fill="url(#g132)"/><rect x="469" y="53" width="3" height="346" fill="url(#g133)"/><rect x="472" y="53" width="3" height="346" fill="url(#g134)"/><rect x="475" y="53" width="3" height="346" fill="url(#g135)"/><rect x="478" y="53" width="3" height="346" fill="url(#g136)"/><rect x="481" y="53" width="3" height="346" fill="url(#g137)"/><rect x="484" y="53" width="3" height="346" fill="url(#g138)"/><clipPath id="lc"><rect x="70" y="313" width="415" height="86"/></clipPath><polygon clip-path="url(#lc)" points="120.20,325.30 134.80,324.40 135.50,315.00 143.00,315.00 143.60,324.40 154.30,325.30 164.00,326.00 168.00,328.00 171.90,335.00 175.80,327.30 185.50,326.30 186.00,300.00 187.00,285.00 188.20,260.00 187.80,230.00 187.50,195.00 187.80,165.00 188.50,134.00 191.80,134.00 191.40,165.00 192.50,195.00 193.50,230.00 195.50,260.00 197.50,285.00 200.00,310.00 203.75,327.50 205.00,334.00 212.70,342.00 221.00,340.50 229.00,341.00 236.00,347.50 238.50,357.50 242.70,369.00 251.00,376.00 259.30,379.30 266.00,384.30 276.00,389.30 286.00,394.30 297.00,398.60 100.50,398.60 99.70,386.00 101.70,378.00 106.60,370.20 110.50,362.40 112.40,352.60 114.40,341.00 119.20,337.00" fill="#f9fb15" stroke="#f0b43a" stroke-width="3.2" stroke-linejoin="round"/><polygon points="120.20,325.30 134.80,324.40 135.50,315.00 143.00,315.00 143.60,324.40 154.30,325.30 164.00,326.00 168.00,328.00 171.90,335.00 175.80,327.30 185.50,326.30 186.00,300.00 187.00,285.00 188.20,260.00 187.80,230.00 187.50,195.00 187.80,165.00 188.50,134.00 191.80,134.00 191.40,165.00 192.50,195.00 193.50,230.00 195.50,260.00 197.50,285.00 200.00,310.00 203.75,327.50 205.00,334.00 212.70,342.00 221.00,340.50 229.00,341.00 236.00,347.50 238.50,357.50 242.70,369.00 251.00,376.00 259.30,379.30 266.00,384.30 276.00,389.30 286.00,394.30 297.00,398.60 100.50,398.60 99.70,386.00 101.70,378.00 106.60,370.20 110.50,362.40 112.40,352.60 114.40,341.00 119.20,337.00" fill="#f9fb15"/><path d="M202.9,330.8L204.0,322.7L205.1,330.8ZM208.0,340.6L209.4,333.7L210.8,340.6ZM212.3,343.8L213.7,336.4L215.1,343.8ZM217.8,342.9L218.9,333.4L220.0,342.9ZM222.1,342.7L223.5,331.4L224.8,342.7ZM227.0,343.0L228.7,334.4L230.4,343.0ZM232.1,347.3L233.6,338.7L235.1,347.3ZM234.9,352.0L236.6,343.3L238.4,352.0ZM238.9,365.1L240.6,353.9L242.2,365.1ZM243.4,372.9L245.0,366.6L246.6,372.9ZM248.8,377.2L250.1,370.4L251.4,377.2ZM253.4,379.6L255.1,371.8L256.8,379.6ZM258.7,381.8L260.0,369.1L261.2,381.8ZM264.0,385.7L265.1,372.2L266.3,385.7ZM268.6,388.4L270.1,375.0L271.6,388.4ZM272.8,390.5L274.4,376.6L276.0,390.5ZM276.1,392.2L277.7,382.6L279.3,392.2ZM281.0,394.4L282.1,382.1L283.3,394.4ZM284.4,396.3L286.0,387.8L287.7,396.3ZM289.4,398.0L290.7,386.5L292.0,398.0ZM293.2,399.2L294.3,386.5L295.4,399.2ZM298.1,400.2L299.5,385.9L301.0,400.2ZM119.4,327.3L121.0,322.6L122.6,327.3ZM125.4,326.9L126.9,320.5L128.4,326.9ZM131.2,326.5L132.8,319.4L134.4,326.5ZM143.7,326.5L145.0,322.2L146.2,326.5ZM147.4,326.8L148.5,319.4L149.7,326.8ZM150.7,327.1L151.9,321.1L153.2,327.1ZM155.8,327.5L157.5,320.7L159.2,327.5ZM159.7,327.8L161.1,321.0L162.5,327.8ZM162.8,328.0L164.3,322.5L165.8,328.0ZM167.5,328.1L169.0,321.4L170.5,328.1ZM172.2,328.1L173.6,323.3L175.0,328.1ZM177.0,328.2L178.1,322.3L179.2,328.2ZM181.1,328.3L182.7,322.7L184.3,328.3ZM89.1,398.6L90.5,377.2L91.9,398.6ZM91.8,398.6L93.2,379.7L94.6,398.6ZM94.4,398.6L95.8,378.8L97.2,398.6ZM96.3,398.6L97.7,382.8L99.1,398.6Z" fill="#f3b83a"/><path d="M70.6,398.6L72.0,391.0L73.4,398.6ZM73.5,398.6L74.9,389.5L76.3,398.6ZM75.7,398.6L77.1,385.3L78.5,398.6ZM78.3,398.6L79.7,389.8L81.1,398.6ZM80.8,398.6L82.2,388.8L83.6,398.6ZM83.1,398.6L84.5,388.2L85.9,398.6ZM86.7,398.6L88.1,381.8L89.5,398.6Z" fill="#a0c84c" opacity="0.85"/><polygon points="120.20,325.30 134.80,324.40 135.50,315.00 143.00,315.00 143.60,324.40 154.30,325.30 164.00,326.00 168.00,328.00 171.90,335.00 175.80,327.30 185.50,326.30 186.00,300.00 187.00,285.00 188.20,260.00 187.80,230.00 187.50,195.00 187.80,165.00 188.50,134.00 191.80,134.00 191.40,165.00 192.50,195.00 193.50,230.00 195.50,260.00 197.50,285.00 200.00,310.00 203.75,327.50 205.00,334.00 212.70,342.00 221.00,340.50 229.00,341.00 236.00,347.50 238.50,357.50 242.70,369.00 251.00,376.00 259.30,379.30 266.00,384.30 276.00,389.30 286.00,394.30 297.00,398.60 100.50,398.60 99.70,386.00 101.70,378.00 106.60,370.20 110.50,362.40 112.40,352.60 114.40,341.00 119.20,337.00" fill="#f9fb15"/><linearGradient id="pt" x1="0" y1="0" x2="0" y2="1"><stop offset="0" stop-color="#a8c448" stop-opacity="0"/><stop offset="0.35" stop-color="#d8bc30" stop-opacity="0.9"/><stop offset="0.7" stop-color="#f4c236"/><stop offset="1" stop-color="#f9fb15"/></linearGradient><polygon points="188.3,136 188.8,122 189.4,106 189.9,102 190.4,102 191,106 191.5,122 192,136" fill="url(#pt)"/><path d="M189.6,384V398" stroke="#a8b040" stroke-width="0.9" fill="none"/></g><g stroke="#262626" fill="none" stroke-width="1"><path d="M69,53.5H486" stroke-width="1"/><path d="M70.0,398.6V469.0H485.0V398.6" stroke-width="2"/><path d="M69.5,53.5V398.6M485.5,53.5V398.6" stroke-width="1"/><path d="M70.0,469.00h5M485.0,469.00h-5" stroke-width="2"/><path d="M70.0,427.45h5M485.0,427.45h-5" stroke-width="2"/><path d="M70.00,469.0v-5" stroke-width="2"/><path d="M121.88,469.0v-5" stroke-width="2"/><path d="M173.75,469.0v-5" stroke-width="2"/><path d="M225.62,469.0v-5" stroke-width="2"/><path d="M277.50,469.0v-5" stroke-width="2"/><path d="M329.38,469.0v-5" stroke-width="2"/><path d="M381.25,469.0v-5" stroke-width="2"/><path d="M433.12,469.0v-5" stroke-width="2"/><path d="M485.00,469.0v-5" stroke-width="2"/></g><g font-size="14.2" text-anchor="end"><text x="64.3" y="475.30">0</text><text x="64.3" y="433.75">50</text><text x="64.3" y="392.20">100</text><text x="64.3" y="350.65">150</text><text x="64.3" y="309.10">200</text><text x="64.3" y="267.55">250</text><text x="64.3" y="226.00">300</text><text x="64.3" y="184.45">350</text><text x="64.3" y="142.90">400</text><text x="64.3" y="101.35">450</text><text x="64.3" y="59.80">500</text></g><g font-size="14.2" text-anchor="middle"><text x="70.00" y="489.3">19:00</text><text x="121.88" y="489.3">19:15</text><text x="173.75" y="489.3">19:30</text><text x="225.62" y="489.3">19:45</text><text x="277.50" y="489.3">20:00</text><text x="329.38" y="489.3">20:15</text><text x="381.25" y="489.3">20:30</text><text x="433.12" y="489.3">20:45</text><text x="485.00" y="489.3">21:00</text></g><text x="237.8" y="509.6" font-size="15.8" textLength="79.5" lengthAdjust="spacingAndGlyphs">Time [UTC]</text><text transform="translate(33.3,261) rotate(-90)" font-size="15.6" text-anchor="middle">Altitude a.s.l. [m]</text><text x="276.6" y="50.2" font-size="15.7" font-weight="bold" text-anchor="middle" style="fill:#000">20250923 RCS [au]</text><g stroke="#111" fill="none" stroke-width="1.25"><path d="M-6,25.2L160,2.3L199,21M140,4.7L159,14.5"/><path d="M203.5,24.4L366,0.5L406.8,18.75"/><path d="M411.75,24.3L585.6,18.9L606,36"/><path d="M-6,142L157.7,116.5L198.8,134.8"/><path d="M203.7,141.5L374.2,127.6L406.4,148.1M353.3,130.2L368.7,140.1"/><path d="M411.7,141.7L569.3,171L564.3,195.7M550,168.3L547.3,175"/><path d="M-6,258.6L153,229.5L196.9,246.4"/><path d="M203.7,258.7L376,268.2L389.6,291.3M354,267.1L361.3,278.5"/><path d="M411.7,259L543.3,304.6L522.3,327M527.1,299.2L506,321.6"/><path d="M-6,377L148.5,343.2M130.2,347.2L152.2,355"/><path d="M203.7,375.7L376,365.8L405.4,386.7"/><path d="M411.7,375.7L553.75,416.7L538,439.5M535.75,411.75L520.3,435M518.2,406.4L502.75,429.75M499.75,401.25L484.3,425.25"/></g><defs><linearGradient id="cb" x1="0" y1="1" x2="0" y2="0"><stop offset="0.0000" stop-color="#3e26a8"/><stop offset="0.0312" stop-color="#412fbe"/><stop offset="0.0625" stop-color="#4438d2"/><stop offset="0.0938" stop-color="#4643df"/><stop offset="0.1250" stop-color="#464eeb"/><stop offset="0.1562" stop-color="#455af4"/><stop offset="0.1875" stop-color="#4262f7"/><stop offset="0.2188" stop-color="#3b6ef8"/><stop offset="0.2500" stop-color="#327cf8"/><stop offset="0.2812" stop-color="#2e86f0"/><stop offset="0.3125" stop-color="#2a90ea"/><stop offset="0.3438" stop-color="#239ae7"/><stop offset="0.3750" stop-color="#20a2e1"/><stop offset="0.4062" stop-color="#1baada"/><stop offset="0.4375" stop-color="#0cb1d2"/><stop offset="0.4688" stop-color="#0cb7c6"/><stop offset="0.5000" stop-color="#16bcb8"/><stop offset="0.5312" stop-color="#27c2a9"/><stop offset="0.5625" stop-color="#38c79a"/><stop offset="0.5938" stop-color="#49ca8b"/><stop offset="0.6250" stop-color="#62cb76"/><stop offset="0.6562" stop-color="#7dcc60"/><stop offset="0.6875" stop-color="#99c94c"/><stop offset="0.7188" stop-color="#b3c539"/><stop offset="0.7500" stop-color="#ccc028"/><stop offset="0.7812" stop-color="#e1b92f"/><stop offset="0.8125" stop-color="#f1b834"/><stop offset="0.8438" stop-color="#fcc032"/><stop offset="0.8750" stop-color="#fbcc2e"/><stop offset="0.9062" stop-color="#f8d929"/><stop offset="0.9375" stop-color="#f6e622"/><stop offset="0.9688" stop-color="#f6f21c"/><stop offset="1.0000" stop-color="#f9fb15"/></linearGradient></defs><rect x="511.3" y="53.7" width="17.30" height="415.90" fill="url(#cb)" stroke="#888" stroke-width="0.6"/><g stroke="#262626" stroke-width="1" fill="none"><path d="M528.6,428.01h-4"/><path d="M528.6,386.42h-4"/><path d="M528.6,344.83h-4"/><path d="M528.6,303.24h-4"/><path d="M528.6,261.65h-4"/><path d="M528.6,220.06h-4"/><path d="M528.6,178.47h-4"/><path d="M528.6,136.88h-4"/><path d="M528.6,95.29h-4"/></g><g font-size="14.2"><text x="532.8" y="475.40">0</text><text x="532.8" y="433.81">0.5</text><text x="532.8" y="392.22">1</text><text x="532.8" y="350.63">1.5</text><text x="532.8" y="309.04">2</text><text x="532.8" y="267.45">2.5</text><text x="532.8" y="225.86">3</text><text x="532.8" y="184.27">3.5</text><text x="532.8" y="142.68">4</text><text x="532.8" y="101.09">4.5</text><text x="532.8" y="59.50">5</text></g><path d="M530.6,41.6L537.2,47.9M537.2,41.6L530.6,47.9" stroke="#555" stroke-width="0.8" fill="none"/><text x="538.6" y="47.7" font-size="14.2">10</text><text x="553.6" y="41.8" font-size="10.5">5</text></svg></body></html>
